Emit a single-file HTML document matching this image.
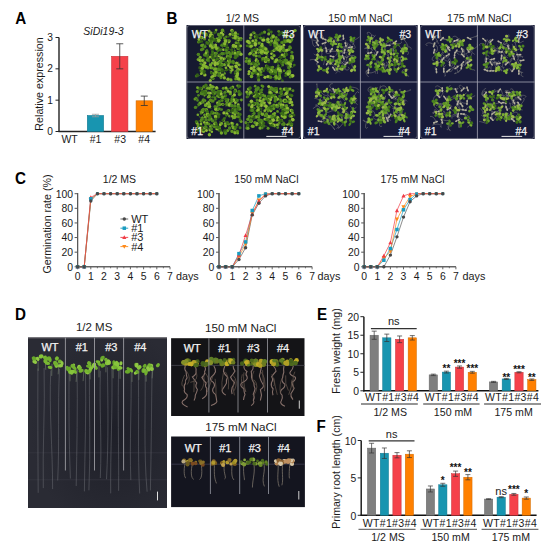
<!DOCTYPE html>
<html><head><meta charset="utf-8"><style>
html,body{margin:0;padding:0;background:#fff;overflow:hidden;font-family:"Liberation Sans",sans-serif;}
svg{display:block;}
</style></head><body>
<svg width="550" height="550" viewBox="0 0 550 550" font-family="Liberation Sans, sans-serif">
<text transform="translate(15.2,24.1) scale(1,1.13)" font-size="15.2" font-weight="bold" fill="#000">A</text>
<text transform="translate(166.6,24.0) scale(1,1.13)" font-size="15.2" font-weight="bold" fill="#000">B</text>
<text transform="translate(15.0,184.0) scale(1,1.13)" font-size="15.2" font-weight="bold" fill="#000">C</text>
<text transform="translate(15.0,319.7) scale(1,1.13)" font-size="15.2" font-weight="bold" fill="#000">D</text>
<text transform="translate(317.0,319.9) scale(1,1.13)" font-size="15.2" font-weight="bold" fill="#000">E</text>
<text transform="translate(316.6,432.2) scale(1,1.13)" font-size="15.2" font-weight="bold" fill="#000">F</text>
<line x1="59.00" y1="37.50" x2="59.00" y2="132.10" stroke="#222222" stroke-width="1.4"/>
<line x1="58.40" y1="131.50" x2="155.60" y2="131.50" stroke="#222222" stroke-width="1.4"/>
<line x1="55.50" y1="131.50" x2="59.00" y2="131.50" stroke="#222222" stroke-width="1"/>
<text x="53.00" y="135.10" font-size="10.2" text-anchor="end" fill="#1a1a1a" >0</text>
<line x1="55.50" y1="100.17" x2="59.00" y2="100.17" stroke="#222222" stroke-width="1"/>
<text x="53.00" y="103.77" font-size="10.2" text-anchor="end" fill="#1a1a1a" >1</text>
<line x1="55.50" y1="68.84" x2="59.00" y2="68.84" stroke="#222222" stroke-width="1"/>
<text x="53.00" y="72.44" font-size="10.2" text-anchor="end" fill="#1a1a1a" >2</text>
<line x1="55.50" y1="37.51" x2="59.00" y2="37.51" stroke="#222222" stroke-width="1"/>
<text x="53.00" y="41.11" font-size="10.2" text-anchor="end" fill="#1a1a1a" >3</text>
<rect x="87.30" y="115.52" width="16.30" height="15.98" fill="#1895b0" stroke="#127a91" stroke-width="0.6" />
<line x1="95.45" y1="114.27" x2="95.45" y2="116.77" stroke="#9a9a9a" stroke-width="0.8"/>
<line x1="91.95" y1="114.27" x2="98.95" y2="114.27" stroke="#9a9a9a" stroke-width="0.8"/>
<line x1="91.95" y1="116.77" x2="98.95" y2="116.77" stroke="#9a9a9a" stroke-width="0.8"/>
<rect x="111.60" y="56.31" width="16.30" height="75.19" fill="#f5414a" stroke="#c8323a" stroke-width="0.6" />
<line x1="119.75" y1="43.78" x2="119.75" y2="68.84" stroke="#333" stroke-width="0.8"/>
<line x1="116.25" y1="43.78" x2="123.25" y2="43.78" stroke="#333" stroke-width="0.8"/>
<line x1="116.25" y1="68.84" x2="123.25" y2="68.84" stroke="#333" stroke-width="0.8"/>
<rect x="136.10" y="100.80" width="16.30" height="30.70" fill="#ff8000" stroke="#d06a00" stroke-width="0.6" />
<line x1="144.25" y1="96.10" x2="144.25" y2="105.50" stroke="#333" stroke-width="0.8"/>
<line x1="140.75" y1="96.10" x2="147.75" y2="96.10" stroke="#333" stroke-width="0.8"/>
<line x1="140.75" y1="105.50" x2="147.75" y2="105.50" stroke="#333" stroke-width="0.8"/>
<text x="69.60" y="142.80" font-size="10.5" text-anchor="middle" fill="#1a1a1a" >WT</text>
<text x="95.60" y="142.80" font-size="10.5" text-anchor="middle" fill="#1a1a1a" >#1</text>
<text x="120.20" y="142.80" font-size="10.5" text-anchor="middle" fill="#1a1a1a" >#3</text>
<text x="144.20" y="142.80" font-size="10.5" text-anchor="middle" fill="#1a1a1a" >#4</text>
<text x="103.50" y="35.20" font-size="10.5" text-anchor="middle" fill="#1a1a1a" font-style="italic" >SiDi19-3</text>
<text transform="translate(43.30,84.00) rotate(-90)" font-size="10.7" text-anchor="middle" fill="#1a1a1a">Relative expression</text>
<line x1="77.60" y1="193.00" x2="77.60" y2="267.30" stroke="#5a5a5a" stroke-width="1.1"/>
<line x1="77.10" y1="266.80" x2="170.00" y2="266.80" stroke="#5a5a5a" stroke-width="1.1"/>
<line x1="74.60" y1="266.80" x2="77.60" y2="266.80" stroke="#555" stroke-width="1"/>
<text x="73.00" y="270.70" font-size="10.4" text-anchor="end" fill="#1a1a1a" >0</text>
<line x1="74.60" y1="252.18" x2="77.60" y2="252.18" stroke="#555" stroke-width="1"/>
<text x="73.00" y="256.08" font-size="10.4" text-anchor="end" fill="#1a1a1a" >20</text>
<line x1="74.60" y1="237.56" x2="77.60" y2="237.56" stroke="#555" stroke-width="1"/>
<text x="73.00" y="241.46" font-size="10.4" text-anchor="end" fill="#1a1a1a" >40</text>
<line x1="74.60" y1="222.94" x2="77.60" y2="222.94" stroke="#555" stroke-width="1"/>
<text x="73.00" y="226.84" font-size="10.4" text-anchor="end" fill="#1a1a1a" >60</text>
<line x1="74.60" y1="208.32" x2="77.60" y2="208.32" stroke="#555" stroke-width="1"/>
<text x="73.00" y="212.22" font-size="10.4" text-anchor="end" fill="#1a1a1a" >80</text>
<line x1="74.60" y1="193.70" x2="77.60" y2="193.70" stroke="#555" stroke-width="1"/>
<text x="73.00" y="197.60" font-size="10.4" text-anchor="end" fill="#1a1a1a" >100</text>
<line x1="77.60" y1="266.80" x2="77.60" y2="269.30" stroke="#555" stroke-width="0.9"/>
<line x1="84.20" y1="266.80" x2="84.20" y2="268.30" stroke="#555" stroke-width="0.8"/>
<text x="77.60" y="279.70" font-size="10.4" text-anchor="middle" fill="#1a1a1a" >0</text>
<line x1="90.80" y1="266.80" x2="90.80" y2="269.30" stroke="#555" stroke-width="0.9"/>
<line x1="97.40" y1="266.80" x2="97.40" y2="268.30" stroke="#555" stroke-width="0.8"/>
<text x="90.80" y="279.70" font-size="10.4" text-anchor="middle" fill="#1a1a1a" >1</text>
<line x1="104.00" y1="266.80" x2="104.00" y2="269.30" stroke="#555" stroke-width="0.9"/>
<line x1="110.60" y1="266.80" x2="110.60" y2="268.30" stroke="#555" stroke-width="0.8"/>
<text x="104.00" y="279.70" font-size="10.4" text-anchor="middle" fill="#1a1a1a" >2</text>
<line x1="117.20" y1="266.80" x2="117.20" y2="269.30" stroke="#555" stroke-width="0.9"/>
<line x1="123.80" y1="266.80" x2="123.80" y2="268.30" stroke="#555" stroke-width="0.8"/>
<text x="117.20" y="279.70" font-size="10.4" text-anchor="middle" fill="#1a1a1a" >3</text>
<line x1="130.40" y1="266.80" x2="130.40" y2="269.30" stroke="#555" stroke-width="0.9"/>
<line x1="137.00" y1="266.80" x2="137.00" y2="268.30" stroke="#555" stroke-width="0.8"/>
<text x="130.40" y="279.70" font-size="10.4" text-anchor="middle" fill="#1a1a1a" >4</text>
<line x1="143.60" y1="266.80" x2="143.60" y2="269.30" stroke="#555" stroke-width="0.9"/>
<line x1="150.20" y1="266.80" x2="150.20" y2="268.30" stroke="#555" stroke-width="0.8"/>
<text x="143.60" y="279.70" font-size="10.4" text-anchor="middle" fill="#1a1a1a" >5</text>
<line x1="156.80" y1="266.80" x2="156.80" y2="269.30" stroke="#555" stroke-width="0.9"/>
<line x1="163.40" y1="266.80" x2="163.40" y2="268.30" stroke="#555" stroke-width="0.8"/>
<text x="156.80" y="279.70" font-size="10.4" text-anchor="middle" fill="#1a1a1a" >6</text>
<line x1="170.00" y1="266.80" x2="170.00" y2="269.30" stroke="#555" stroke-width="0.9"/>
<text x="170.00" y="279.70" font-size="10.4" text-anchor="middle" fill="#1a1a1a" >7</text>
<text x="175.90" y="279.60" font-size="10.8" text-anchor="start" fill="#1a1a1a" >days</text>
<text x="119.50" y="183.40" font-size="10.5" text-anchor="middle" fill="#1a1a1a" >1/2 MS</text>
<polyline points="77.60,266.80 84.20,266.80 90.80,201.01 97.40,193.70 104.00,193.70 110.60,193.70 117.20,193.70 123.80,193.70 130.40,193.70 137.00,193.70 143.60,193.70 150.20,193.70 156.80,193.70" fill="none" stroke="#5a5a5a" stroke-width="0.7"/>
<polyline points="77.60,266.80 84.20,266.80 90.80,198.82 97.40,193.70 104.00,193.70 110.60,193.70 117.20,193.70 123.80,193.70 130.40,193.70 137.00,193.70 143.60,193.70 150.20,193.70 156.80,193.70" fill="none" stroke="#1a9cc0" stroke-width="0.7"/>
<polyline points="77.60,266.80 84.20,266.80 90.80,199.55 97.40,193.70 104.00,193.70 110.60,193.70 117.20,193.70 123.80,193.70 130.40,193.70 137.00,193.70 143.60,193.70 150.20,193.70 156.80,193.70" fill="none" stroke="#ff8a1a" stroke-width="0.7"/>
<polyline points="77.60,266.80 84.20,266.80 90.80,197.36 97.40,193.70 104.00,193.70 110.60,193.70 117.20,193.70 123.80,193.70 130.40,193.70 137.00,193.70 143.60,193.70 150.20,193.70 156.80,193.70" fill="none" stroke="#f03c46" stroke-width="0.7"/>
<line x1="77.10" y1="266.80" x2="170.00" y2="266.80" stroke="#5a5a5a" stroke-width="1.1"/>
<line x1="77.60" y1="193.00" x2="77.60" y2="267.30" stroke="#5a5a5a" stroke-width="1.1"/>
<polygon points="77.60,268.90 79.70,265.12 75.50,265.12" fill="#ff8a1a"/>
<polygon points="84.20,268.90 86.30,265.12 82.10,265.12" fill="#ff8a1a"/>
<polygon points="90.80,201.65 92.90,197.87 88.70,197.87" fill="#ff8a1a"/>
<polygon points="97.40,195.17 98.87,192.52 95.93,192.52" fill="#ff8a1a"/>
<polygon points="104.00,195.17 105.47,192.52 102.53,192.52" fill="#ff8a1a"/>
<polygon points="110.60,195.17 112.07,192.52 109.13,192.52" fill="#ff8a1a"/>
<polygon points="117.20,195.17 118.67,192.52 115.73,192.52" fill="#ff8a1a"/>
<polygon points="123.80,195.17 125.27,192.52 122.33,192.52" fill="#ff8a1a"/>
<polygon points="130.40,195.17 131.87,192.52 128.93,192.52" fill="#ff8a1a"/>
<polygon points="137.00,195.17 138.47,192.52 135.53,192.52" fill="#ff8a1a"/>
<polygon points="143.60,195.17 145.07,192.52 142.13,192.52" fill="#ff8a1a"/>
<polygon points="150.20,195.17 151.67,192.52 148.73,192.52" fill="#ff8a1a"/>
<polygon points="156.80,195.17 158.27,192.52 155.33,192.52" fill="#ff8a1a"/>
<polygon points="77.60,264.70 79.70,268.48 75.50,268.48" fill="#f03c46"/>
<polygon points="84.20,264.70 86.30,268.48 82.10,268.48" fill="#f03c46"/>
<polygon points="90.80,195.26 92.90,199.04 88.70,199.04" fill="#f03c46"/>
<polygon points="97.40,192.23 98.87,194.88 95.93,194.88" fill="#f03c46"/>
<polygon points="104.00,192.23 105.47,194.88 102.53,194.88" fill="#f03c46"/>
<polygon points="110.60,192.23 112.07,194.88 109.13,194.88" fill="#f03c46"/>
<polygon points="117.20,192.23 118.67,194.88 115.73,194.88" fill="#f03c46"/>
<polygon points="123.80,192.23 125.27,194.88 122.33,194.88" fill="#f03c46"/>
<polygon points="130.40,192.23 131.87,194.88 128.93,194.88" fill="#f03c46"/>
<polygon points="137.00,192.23 138.47,194.88 135.53,194.88" fill="#f03c46"/>
<polygon points="143.60,192.23 145.07,194.88 142.13,194.88" fill="#f03c46"/>
<polygon points="150.20,192.23 151.67,194.88 148.73,194.88" fill="#f03c46"/>
<polygon points="156.80,192.23 158.27,194.88 155.33,194.88" fill="#f03c46"/>
<rect x="75.85" y="265.05" width="3.50" height="3.50" fill="#1a9cc0"/>
<rect x="82.45" y="265.05" width="3.50" height="3.50" fill="#1a9cc0"/>
<rect x="89.05" y="197.07" width="3.50" height="3.50" fill="#1a9cc0"/>
<rect x="95.96" y="192.27" width="2.87" height="2.87" fill="#1a9cc0"/>
<rect x="102.56" y="192.27" width="2.87" height="2.87" fill="#1a9cc0"/>
<rect x="109.16" y="192.27" width="2.87" height="2.87" fill="#1a9cc0"/>
<rect x="115.76" y="192.27" width="2.87" height="2.87" fill="#1a9cc0"/>
<rect x="122.36" y="192.27" width="2.87" height="2.87" fill="#1a9cc0"/>
<rect x="128.96" y="192.27" width="2.87" height="2.87" fill="#1a9cc0"/>
<rect x="135.56" y="192.27" width="2.87" height="2.87" fill="#1a9cc0"/>
<rect x="142.16" y="192.27" width="2.87" height="2.87" fill="#1a9cc0"/>
<rect x="148.76" y="192.27" width="2.87" height="2.87" fill="#1a9cc0"/>
<rect x="155.36" y="192.27" width="2.87" height="2.87" fill="#1a9cc0"/>
<circle cx="77.60" cy="266.80" r="1.70" fill="#484848"/>
<circle cx="84.20" cy="266.80" r="1.70" fill="#484848"/>
<circle cx="90.80" cy="201.01" r="1.70" fill="#484848"/>
<circle cx="97.40" cy="193.70" r="1.70" fill="#484848"/>
<circle cx="104.00" cy="193.70" r="1.70" fill="#484848"/>
<circle cx="110.60" cy="193.70" r="1.70" fill="#484848"/>
<circle cx="117.20" cy="193.70" r="1.70" fill="#484848"/>
<circle cx="123.80" cy="193.70" r="1.70" fill="#484848"/>
<circle cx="130.40" cy="193.70" r="1.70" fill="#484848"/>
<circle cx="137.00" cy="193.70" r="1.70" fill="#484848"/>
<circle cx="143.60" cy="193.70" r="1.70" fill="#484848"/>
<circle cx="150.20" cy="193.70" r="1.70" fill="#484848"/>
<circle cx="156.80" cy="193.70" r="1.70" fill="#484848"/>
<line x1="219.00" y1="193.00" x2="219.00" y2="267.30" stroke="#5a5a5a" stroke-width="1.1"/>
<line x1="218.50" y1="266.80" x2="312.10" y2="266.80" stroke="#5a5a5a" stroke-width="1.1"/>
<line x1="216.00" y1="266.80" x2="219.00" y2="266.80" stroke="#555" stroke-width="1"/>
<text x="214.40" y="270.70" font-size="10.4" text-anchor="end" fill="#1a1a1a" >0</text>
<line x1="216.00" y1="252.18" x2="219.00" y2="252.18" stroke="#555" stroke-width="1"/>
<text x="214.40" y="256.08" font-size="10.4" text-anchor="end" fill="#1a1a1a" >20</text>
<line x1="216.00" y1="237.56" x2="219.00" y2="237.56" stroke="#555" stroke-width="1"/>
<text x="214.40" y="241.46" font-size="10.4" text-anchor="end" fill="#1a1a1a" >40</text>
<line x1="216.00" y1="222.94" x2="219.00" y2="222.94" stroke="#555" stroke-width="1"/>
<text x="214.40" y="226.84" font-size="10.4" text-anchor="end" fill="#1a1a1a" >60</text>
<line x1="216.00" y1="208.32" x2="219.00" y2="208.32" stroke="#555" stroke-width="1"/>
<text x="214.40" y="212.22" font-size="10.4" text-anchor="end" fill="#1a1a1a" >80</text>
<line x1="216.00" y1="193.70" x2="219.00" y2="193.70" stroke="#555" stroke-width="1"/>
<text x="214.40" y="197.60" font-size="10.4" text-anchor="end" fill="#1a1a1a" >100</text>
<line x1="219.00" y1="266.80" x2="219.00" y2="269.30" stroke="#555" stroke-width="0.9"/>
<line x1="225.65" y1="266.80" x2="225.65" y2="268.30" stroke="#555" stroke-width="0.8"/>
<text x="219.00" y="279.70" font-size="10.4" text-anchor="middle" fill="#1a1a1a" >0</text>
<line x1="232.30" y1="266.80" x2="232.30" y2="269.30" stroke="#555" stroke-width="0.9"/>
<line x1="238.95" y1="266.80" x2="238.95" y2="268.30" stroke="#555" stroke-width="0.8"/>
<text x="232.30" y="279.70" font-size="10.4" text-anchor="middle" fill="#1a1a1a" >1</text>
<line x1="245.60" y1="266.80" x2="245.60" y2="269.30" stroke="#555" stroke-width="0.9"/>
<line x1="252.25" y1="266.80" x2="252.25" y2="268.30" stroke="#555" stroke-width="0.8"/>
<text x="245.60" y="279.70" font-size="10.4" text-anchor="middle" fill="#1a1a1a" >2</text>
<line x1="258.90" y1="266.80" x2="258.90" y2="269.30" stroke="#555" stroke-width="0.9"/>
<line x1="265.55" y1="266.80" x2="265.55" y2="268.30" stroke="#555" stroke-width="0.8"/>
<text x="258.90" y="279.70" font-size="10.4" text-anchor="middle" fill="#1a1a1a" >3</text>
<line x1="272.20" y1="266.80" x2="272.20" y2="269.30" stroke="#555" stroke-width="0.9"/>
<line x1="278.85" y1="266.80" x2="278.85" y2="268.30" stroke="#555" stroke-width="0.8"/>
<text x="272.20" y="279.70" font-size="10.4" text-anchor="middle" fill="#1a1a1a" >4</text>
<line x1="285.50" y1="266.80" x2="285.50" y2="269.30" stroke="#555" stroke-width="0.9"/>
<line x1="292.15" y1="266.80" x2="292.15" y2="268.30" stroke="#555" stroke-width="0.8"/>
<text x="285.50" y="279.70" font-size="10.4" text-anchor="middle" fill="#1a1a1a" >5</text>
<line x1="298.80" y1="266.80" x2="298.80" y2="269.30" stroke="#555" stroke-width="0.9"/>
<line x1="305.45" y1="266.80" x2="305.45" y2="268.30" stroke="#555" stroke-width="0.8"/>
<text x="298.80" y="279.70" font-size="10.4" text-anchor="middle" fill="#1a1a1a" >6</text>
<line x1="312.10" y1="266.80" x2="312.10" y2="269.30" stroke="#555" stroke-width="0.9"/>
<text x="312.10" y="279.70" font-size="10.4" text-anchor="middle" fill="#1a1a1a" >7</text>
<text x="317.50" y="279.60" font-size="10.8" text-anchor="start" fill="#1a1a1a" >days</text>
<text x="266.40" y="183.40" font-size="10.5" text-anchor="middle" fill="#1a1a1a" >150 mM NaCl</text>
<polyline points="219.00,266.80 225.65,266.80 232.30,266.80 238.95,259.49 245.60,247.79 252.25,214.90 258.90,203.20 265.55,195.89 272.20,193.70 278.85,193.70 285.50,193.70 292.15,193.70 298.80,193.70" fill="none" stroke="#5a5a5a" stroke-width="0.7"/>
<polyline points="219.00,266.80 225.65,266.80 232.30,266.80 238.95,253.64 245.60,241.95 252.25,210.51 258.90,195.89 265.55,193.70 272.20,193.70 278.85,193.70 285.50,193.70 292.15,193.70 298.80,193.70" fill="none" stroke="#1a9cc0" stroke-width="0.7"/>
<polyline points="219.00,266.80 225.65,266.80 232.30,266.80 238.95,256.57 245.60,244.14 252.25,213.44 258.90,200.28 265.55,194.43 272.20,193.70 278.85,193.70 285.50,193.70 292.15,193.70 298.80,193.70" fill="none" stroke="#ff8a1a" stroke-width="0.7"/>
<polyline points="219.00,266.80 225.65,266.80 232.30,266.80 238.95,255.10 245.60,235.37 252.25,214.17 258.90,201.01 265.55,194.43 272.20,193.70 278.85,193.70 285.50,193.70 292.15,193.70 298.80,193.70" fill="none" stroke="#f03c46" stroke-width="0.7"/>
<line x1="218.50" y1="266.80" x2="312.10" y2="266.80" stroke="#5a5a5a" stroke-width="1.1"/>
<line x1="219.00" y1="193.00" x2="219.00" y2="267.30" stroke="#5a5a5a" stroke-width="1.1"/>
<polygon points="219.00,268.90 221.10,265.12 216.90,265.12" fill="#ff8a1a"/>
<polygon points="225.65,268.90 227.75,265.12 223.55,265.12" fill="#ff8a1a"/>
<polygon points="232.30,268.90 234.40,265.12 230.20,265.12" fill="#ff8a1a"/>
<polygon points="238.95,258.67 241.05,254.89 236.85,254.89" fill="#ff8a1a"/>
<polygon points="245.60,246.24 247.70,242.46 243.50,242.46" fill="#ff8a1a"/>
<polygon points="252.25,215.54 254.35,211.76 250.15,211.76" fill="#ff8a1a"/>
<polygon points="258.90,202.38 261.00,198.60 256.80,198.60" fill="#ff8a1a"/>
<polygon points="265.55,196.53 267.65,192.75 263.45,192.75" fill="#ff8a1a"/>
<polygon points="272.20,195.17 273.67,192.52 270.73,192.52" fill="#ff8a1a"/>
<polygon points="278.85,195.17 280.32,192.52 277.38,192.52" fill="#ff8a1a"/>
<polygon points="285.50,195.17 286.97,192.52 284.03,192.52" fill="#ff8a1a"/>
<polygon points="292.15,195.17 293.62,192.52 290.68,192.52" fill="#ff8a1a"/>
<polygon points="298.80,195.17 300.27,192.52 297.33,192.52" fill="#ff8a1a"/>
<polygon points="219.00,264.70 221.10,268.48 216.90,268.48" fill="#f03c46"/>
<polygon points="225.65,264.70 227.75,268.48 223.55,268.48" fill="#f03c46"/>
<polygon points="232.30,264.70 234.40,268.48 230.20,268.48" fill="#f03c46"/>
<polygon points="238.95,253.00 241.05,256.78 236.85,256.78" fill="#f03c46"/>
<polygon points="245.60,233.27 247.70,237.05 243.50,237.05" fill="#f03c46"/>
<polygon points="252.25,212.07 254.35,215.85 250.15,215.85" fill="#f03c46"/>
<polygon points="258.90,198.91 261.00,202.69 256.80,202.69" fill="#f03c46"/>
<polygon points="265.55,192.33 267.65,196.11 263.45,196.11" fill="#f03c46"/>
<polygon points="272.20,192.23 273.67,194.88 270.73,194.88" fill="#f03c46"/>
<polygon points="278.85,192.23 280.32,194.88 277.38,194.88" fill="#f03c46"/>
<polygon points="285.50,192.23 286.97,194.88 284.03,194.88" fill="#f03c46"/>
<polygon points="292.15,192.23 293.62,194.88 290.68,194.88" fill="#f03c46"/>
<polygon points="298.80,192.23 300.27,194.88 297.33,194.88" fill="#f03c46"/>
<rect x="217.25" y="265.05" width="3.50" height="3.50" fill="#1a9cc0"/>
<rect x="223.90" y="265.05" width="3.50" height="3.50" fill="#1a9cc0"/>
<rect x="230.55" y="265.05" width="3.50" height="3.50" fill="#1a9cc0"/>
<rect x="237.20" y="251.89" width="3.50" height="3.50" fill="#1a9cc0"/>
<rect x="243.85" y="240.20" width="3.50" height="3.50" fill="#1a9cc0"/>
<rect x="250.50" y="208.76" width="3.50" height="3.50" fill="#1a9cc0"/>
<rect x="257.15" y="194.14" width="3.50" height="3.50" fill="#1a9cc0"/>
<rect x="264.12" y="192.27" width="2.87" height="2.87" fill="#1a9cc0"/>
<rect x="270.76" y="192.27" width="2.87" height="2.87" fill="#1a9cc0"/>
<rect x="277.42" y="192.27" width="2.87" height="2.87" fill="#1a9cc0"/>
<rect x="284.06" y="192.27" width="2.87" height="2.87" fill="#1a9cc0"/>
<rect x="290.71" y="192.27" width="2.87" height="2.87" fill="#1a9cc0"/>
<rect x="297.37" y="192.27" width="2.87" height="2.87" fill="#1a9cc0"/>
<circle cx="219.00" cy="266.80" r="1.70" fill="#484848"/>
<circle cx="225.65" cy="266.80" r="1.70" fill="#484848"/>
<circle cx="232.30" cy="266.80" r="1.70" fill="#484848"/>
<circle cx="238.95" cy="259.49" r="1.70" fill="#484848"/>
<circle cx="245.60" cy="247.79" r="1.70" fill="#484848"/>
<circle cx="252.25" cy="214.90" r="1.70" fill="#484848"/>
<circle cx="258.90" cy="203.20" r="1.70" fill="#484848"/>
<circle cx="265.55" cy="195.89" r="1.70" fill="#484848"/>
<circle cx="272.20" cy="193.70" r="1.70" fill="#484848"/>
<circle cx="278.85" cy="193.70" r="1.70" fill="#484848"/>
<circle cx="285.50" cy="193.70" r="1.70" fill="#484848"/>
<circle cx="292.15" cy="193.70" r="1.70" fill="#484848"/>
<circle cx="298.80" cy="193.70" r="1.70" fill="#484848"/>
<line x1="364.20" y1="193.00" x2="364.20" y2="267.30" stroke="#5a5a5a" stroke-width="1.1"/>
<line x1="363.70" y1="266.80" x2="455.90" y2="266.80" stroke="#5a5a5a" stroke-width="1.1"/>
<line x1="361.20" y1="266.80" x2="364.20" y2="266.80" stroke="#555" stroke-width="1"/>
<text x="359.60" y="270.70" font-size="10.4" text-anchor="end" fill="#1a1a1a" >0</text>
<line x1="361.20" y1="252.18" x2="364.20" y2="252.18" stroke="#555" stroke-width="1"/>
<text x="359.60" y="256.08" font-size="10.4" text-anchor="end" fill="#1a1a1a" >20</text>
<line x1="361.20" y1="237.56" x2="364.20" y2="237.56" stroke="#555" stroke-width="1"/>
<text x="359.60" y="241.46" font-size="10.4" text-anchor="end" fill="#1a1a1a" >40</text>
<line x1="361.20" y1="222.94" x2="364.20" y2="222.94" stroke="#555" stroke-width="1"/>
<text x="359.60" y="226.84" font-size="10.4" text-anchor="end" fill="#1a1a1a" >60</text>
<line x1="361.20" y1="208.32" x2="364.20" y2="208.32" stroke="#555" stroke-width="1"/>
<text x="359.60" y="212.22" font-size="10.4" text-anchor="end" fill="#1a1a1a" >80</text>
<line x1="361.20" y1="193.70" x2="364.20" y2="193.70" stroke="#555" stroke-width="1"/>
<text x="359.60" y="197.60" font-size="10.4" text-anchor="end" fill="#1a1a1a" >100</text>
<line x1="364.20" y1="266.80" x2="364.20" y2="269.30" stroke="#555" stroke-width="0.9"/>
<line x1="370.75" y1="266.80" x2="370.75" y2="268.30" stroke="#555" stroke-width="0.8"/>
<text x="364.20" y="279.70" font-size="10.4" text-anchor="middle" fill="#1a1a1a" >0</text>
<line x1="377.30" y1="266.80" x2="377.30" y2="269.30" stroke="#555" stroke-width="0.9"/>
<line x1="383.85" y1="266.80" x2="383.85" y2="268.30" stroke="#555" stroke-width="0.8"/>
<text x="377.30" y="279.70" font-size="10.4" text-anchor="middle" fill="#1a1a1a" >1</text>
<line x1="390.40" y1="266.80" x2="390.40" y2="269.30" stroke="#555" stroke-width="0.9"/>
<line x1="396.95" y1="266.80" x2="396.95" y2="268.30" stroke="#555" stroke-width="0.8"/>
<text x="390.40" y="279.70" font-size="10.4" text-anchor="middle" fill="#1a1a1a" >2</text>
<line x1="403.50" y1="266.80" x2="403.50" y2="269.30" stroke="#555" stroke-width="0.9"/>
<line x1="410.05" y1="266.80" x2="410.05" y2="268.30" stroke="#555" stroke-width="0.8"/>
<text x="403.50" y="279.70" font-size="10.4" text-anchor="middle" fill="#1a1a1a" >3</text>
<line x1="416.60" y1="266.80" x2="416.60" y2="269.30" stroke="#555" stroke-width="0.9"/>
<line x1="423.15" y1="266.80" x2="423.15" y2="268.30" stroke="#555" stroke-width="0.8"/>
<text x="416.60" y="279.70" font-size="10.4" text-anchor="middle" fill="#1a1a1a" >4</text>
<line x1="429.70" y1="266.80" x2="429.70" y2="269.30" stroke="#555" stroke-width="0.9"/>
<line x1="436.25" y1="266.80" x2="436.25" y2="268.30" stroke="#555" stroke-width="0.8"/>
<text x="429.70" y="279.70" font-size="10.4" text-anchor="middle" fill="#1a1a1a" >5</text>
<line x1="442.80" y1="266.80" x2="442.80" y2="269.30" stroke="#555" stroke-width="0.9"/>
<line x1="449.35" y1="266.80" x2="449.35" y2="268.30" stroke="#555" stroke-width="0.8"/>
<text x="442.80" y="279.70" font-size="10.4" text-anchor="middle" fill="#1a1a1a" >6</text>
<line x1="455.90" y1="266.80" x2="455.90" y2="269.30" stroke="#555" stroke-width="0.9"/>
<text x="455.90" y="279.70" font-size="10.4" text-anchor="middle" fill="#1a1a1a" >7</text>
<text x="462.50" y="279.60" font-size="10.8" text-anchor="start" fill="#1a1a1a" >days</text>
<text x="412.50" y="183.40" font-size="10.5" text-anchor="middle" fill="#1a1a1a" >175 mM NaCl</text>
<polyline points="364.20,266.80 370.75,266.80 377.30,266.80 383.85,266.80 390.40,255.10 396.95,236.83 403.50,217.09 410.05,201.74 416.60,195.89 423.15,193.70 429.70,193.70 436.25,193.70 442.80,193.70" fill="none" stroke="#5a5a5a" stroke-width="0.7"/>
<polyline points="364.20,266.80 370.75,266.80 377.30,266.80 383.85,260.22 390.40,248.53 396.95,229.52 403.50,209.78 410.05,199.55 416.60,193.70 423.15,193.70 429.70,193.70 436.25,193.70 442.80,193.70" fill="none" stroke="#1a9cc0" stroke-width="0.7"/>
<polyline points="364.20,266.80 370.75,266.80 377.30,266.80 383.85,258.03 390.40,251.45 396.95,219.29 403.50,206.86 410.05,196.62 416.60,193.70 423.15,193.70 429.70,193.70 436.25,193.70 442.80,193.70" fill="none" stroke="#ff8a1a" stroke-width="0.7"/>
<polyline points="364.20,266.80 370.75,266.80 377.30,266.80 383.85,255.84 390.40,242.68 396.95,210.51 403.50,195.89 410.05,193.70 416.60,193.70 423.15,193.70 429.70,193.70 436.25,193.70 442.80,193.70" fill="none" stroke="#f03c46" stroke-width="0.7"/>
<line x1="363.70" y1="266.80" x2="455.90" y2="266.80" stroke="#5a5a5a" stroke-width="1.1"/>
<line x1="364.20" y1="193.00" x2="364.20" y2="267.30" stroke="#5a5a5a" stroke-width="1.1"/>
<polygon points="364.20,268.90 366.30,265.12 362.10,265.12" fill="#ff8a1a"/>
<polygon points="370.75,268.90 372.85,265.12 368.65,265.12" fill="#ff8a1a"/>
<polygon points="377.30,268.90 379.40,265.12 375.20,265.12" fill="#ff8a1a"/>
<polygon points="383.85,260.13 385.95,256.35 381.75,256.35" fill="#ff8a1a"/>
<polygon points="390.40,253.55 392.50,249.77 388.30,249.77" fill="#ff8a1a"/>
<polygon points="396.95,221.39 399.05,217.61 394.85,217.61" fill="#ff8a1a"/>
<polygon points="403.50,208.96 405.60,205.18 401.40,205.18" fill="#ff8a1a"/>
<polygon points="410.05,198.72 412.15,194.94 407.95,194.94" fill="#ff8a1a"/>
<polygon points="416.60,195.17 418.07,192.52 415.13,192.52" fill="#ff8a1a"/>
<polygon points="423.15,195.17 424.62,192.52 421.68,192.52" fill="#ff8a1a"/>
<polygon points="429.70,195.17 431.17,192.52 428.23,192.52" fill="#ff8a1a"/>
<polygon points="436.25,195.17 437.72,192.52 434.78,192.52" fill="#ff8a1a"/>
<polygon points="442.80,195.17 444.27,192.52 441.33,192.52" fill="#ff8a1a"/>
<polygon points="364.20,264.70 366.30,268.48 362.10,268.48" fill="#f03c46"/>
<polygon points="370.75,264.70 372.85,268.48 368.65,268.48" fill="#f03c46"/>
<polygon points="377.30,264.70 379.40,268.48 375.20,268.48" fill="#f03c46"/>
<polygon points="383.85,253.74 385.95,257.51 381.75,257.51" fill="#f03c46"/>
<polygon points="390.40,240.58 392.50,244.36 388.30,244.36" fill="#f03c46"/>
<polygon points="396.95,208.41 399.05,212.19 394.85,212.19" fill="#f03c46"/>
<polygon points="403.50,193.79 405.60,197.57 401.40,197.57" fill="#f03c46"/>
<polygon points="410.05,192.23 411.52,194.88 408.58,194.88" fill="#f03c46"/>
<polygon points="416.60,192.23 418.07,194.88 415.13,194.88" fill="#f03c46"/>
<polygon points="423.15,192.23 424.62,194.88 421.68,194.88" fill="#f03c46"/>
<polygon points="429.70,192.23 431.17,194.88 428.23,194.88" fill="#f03c46"/>
<polygon points="436.25,192.23 437.72,194.88 434.78,194.88" fill="#f03c46"/>
<polygon points="442.80,192.23 444.27,194.88 441.33,194.88" fill="#f03c46"/>
<rect x="362.45" y="265.05" width="3.50" height="3.50" fill="#1a9cc0"/>
<rect x="369.00" y="265.05" width="3.50" height="3.50" fill="#1a9cc0"/>
<rect x="375.55" y="265.05" width="3.50" height="3.50" fill="#1a9cc0"/>
<rect x="382.10" y="258.47" width="3.50" height="3.50" fill="#1a9cc0"/>
<rect x="388.65" y="246.78" width="3.50" height="3.50" fill="#1a9cc0"/>
<rect x="395.20" y="227.77" width="3.50" height="3.50" fill="#1a9cc0"/>
<rect x="401.75" y="208.03" width="3.50" height="3.50" fill="#1a9cc0"/>
<rect x="408.30" y="197.80" width="3.50" height="3.50" fill="#1a9cc0"/>
<rect x="415.16" y="192.27" width="2.87" height="2.87" fill="#1a9cc0"/>
<rect x="421.71" y="192.27" width="2.87" height="2.87" fill="#1a9cc0"/>
<rect x="428.26" y="192.27" width="2.87" height="2.87" fill="#1a9cc0"/>
<rect x="434.81" y="192.27" width="2.87" height="2.87" fill="#1a9cc0"/>
<rect x="441.36" y="192.27" width="2.87" height="2.87" fill="#1a9cc0"/>
<circle cx="364.20" cy="266.80" r="1.70" fill="#484848"/>
<circle cx="370.75" cy="266.80" r="1.70" fill="#484848"/>
<circle cx="377.30" cy="266.80" r="1.70" fill="#484848"/>
<circle cx="383.85" cy="266.80" r="1.70" fill="#484848"/>
<circle cx="390.40" cy="255.10" r="1.70" fill="#484848"/>
<circle cx="396.95" cy="236.83" r="1.70" fill="#484848"/>
<circle cx="403.50" cy="217.09" r="1.70" fill="#484848"/>
<circle cx="410.05" cy="201.74" r="1.70" fill="#484848"/>
<circle cx="416.60" cy="195.89" r="1.70" fill="#484848"/>
<circle cx="423.15" cy="193.70" r="1.70" fill="#484848"/>
<circle cx="429.70" cy="193.70" r="1.70" fill="#484848"/>
<circle cx="436.25" cy="193.70" r="1.70" fill="#484848"/>
<circle cx="442.80" cy="193.70" r="1.70" fill="#484848"/>
<text transform="translate(50.80,224.00) rotate(-90)" font-size="10.7" text-anchor="middle" fill="#1a1a1a">Germination rate (%)</text>
<line x1="120.40" y1="219.00" x2="128.20" y2="219.00" stroke="#5a5a5a" stroke-width="0.9"/>
<circle cx="124.30" cy="219.00" r="1.70" fill="#484848"/>
<text x="131.20" y="223.00" font-size="11" text-anchor="start" fill="#1a1a1a" >WT</text>
<line x1="120.40" y1="228.20" x2="128.20" y2="228.20" stroke="#1a9cc0" stroke-width="0.9"/>
<rect x="122.55" y="226.45" width="3.50" height="3.50" fill="#1a9cc0"/>
<text x="131.20" y="232.20" font-size="11" text-anchor="start" fill="#1a1a1a" >#1</text>
<line x1="120.40" y1="237.40" x2="128.20" y2="237.40" stroke="#f03c46" stroke-width="0.9"/>
<polygon points="124.30,235.30 126.40,239.08 122.20,239.08" fill="#f03c46"/>
<text x="131.20" y="241.40" font-size="11" text-anchor="start" fill="#1a1a1a" >#3</text>
<line x1="120.40" y1="246.60" x2="128.20" y2="246.60" stroke="#ff8a1a" stroke-width="0.9"/>
<polygon points="124.30,248.70 126.40,244.92 122.20,244.92" fill="#ff8a1a"/>
<text x="131.20" y="250.60" font-size="11" text-anchor="start" fill="#1a1a1a" >#4</text>
<line x1="363.90" y1="316.70" x2="363.90" y2="391.50" stroke="#111" stroke-width="1.4"/>
<line x1="363.20" y1="390.80" x2="538.40" y2="390.80" stroke="#111" stroke-width="1.4"/>
<line x1="360.40" y1="390.80" x2="363.90" y2="390.80" stroke="#222222" stroke-width="1"/>
<text x="359.10" y="395.00" font-size="10.4" text-anchor="end" fill="#1a1a1a" >0</text>
<line x1="360.40" y1="372.28" x2="363.90" y2="372.28" stroke="#222222" stroke-width="1"/>
<text x="359.10" y="376.48" font-size="10.4" text-anchor="end" fill="#1a1a1a" >5</text>
<line x1="360.40" y1="353.75" x2="363.90" y2="353.75" stroke="#222222" stroke-width="1"/>
<text x="359.10" y="357.95" font-size="10.4" text-anchor="end" fill="#1a1a1a" >10</text>
<line x1="360.40" y1="335.23" x2="363.90" y2="335.23" stroke="#222222" stroke-width="1"/>
<text x="359.10" y="339.43" font-size="10.4" text-anchor="end" fill="#1a1a1a" >15</text>
<line x1="360.40" y1="316.70" x2="363.90" y2="316.70" stroke="#222222" stroke-width="1"/>
<text x="359.10" y="320.90" font-size="10.4" text-anchor="end" fill="#1a1a1a" >20</text>
<rect x="370.05" y="335.23" width="8.30" height="55.58" fill="#7f7f7f" stroke="#666666" stroke-width="0.5" />
<line x1="374.20" y1="331.15" x2="374.20" y2="339.30" stroke="#333" stroke-width="0.7"/>
<line x1="371.70" y1="331.15" x2="376.70" y2="331.15" stroke="#333" stroke-width="0.7"/>
<line x1="371.70" y1="339.30" x2="376.70" y2="339.30" stroke="#333" stroke-width="0.7"/>
<rect x="382.65" y="337.82" width="8.30" height="52.98" fill="#1895b0" stroke="#127a91" stroke-width="0.5" />
<line x1="386.80" y1="334.11" x2="386.80" y2="341.52" stroke="#333" stroke-width="0.7"/>
<line x1="384.30" y1="334.11" x2="389.30" y2="334.11" stroke="#333" stroke-width="0.7"/>
<line x1="384.30" y1="341.52" x2="389.30" y2="341.52" stroke="#333" stroke-width="0.7"/>
<rect x="395.45" y="339.30" width="8.30" height="51.50" fill="#f5414a" stroke="#c8323a" stroke-width="0.5" />
<line x1="399.60" y1="335.97" x2="399.60" y2="342.63" stroke="#333" stroke-width="0.7"/>
<line x1="397.10" y1="335.97" x2="402.10" y2="335.97" stroke="#333" stroke-width="0.7"/>
<line x1="397.10" y1="342.63" x2="402.10" y2="342.63" stroke="#333" stroke-width="0.7"/>
<rect x="408.15" y="337.82" width="8.30" height="52.98" fill="#ff8000" stroke="#d06a00" stroke-width="0.5" />
<line x1="412.30" y1="335.60" x2="412.30" y2="340.04" stroke="#333" stroke-width="0.7"/>
<line x1="409.80" y1="335.60" x2="414.80" y2="335.60" stroke="#333" stroke-width="0.7"/>
<line x1="409.80" y1="340.04" x2="414.80" y2="340.04" stroke="#333" stroke-width="0.7"/>
<rect x="429.15" y="374.87" width="8.30" height="15.93" fill="#7f7f7f" stroke="#666666" stroke-width="0.5" />
<line x1="433.30" y1="374.13" x2="433.30" y2="375.61" stroke="#333" stroke-width="0.7"/>
<line x1="430.80" y1="374.13" x2="435.80" y2="374.13" stroke="#333" stroke-width="0.7"/>
<line x1="430.80" y1="375.61" x2="435.80" y2="375.61" stroke="#333" stroke-width="0.7"/>
<rect x="442.25" y="372.09" width="8.30" height="18.71" fill="#1895b0" stroke="#127a91" stroke-width="0.5" />
<line x1="446.40" y1="371.16" x2="446.40" y2="373.02" stroke="#333" stroke-width="0.7"/>
<line x1="443.90" y1="371.16" x2="448.90" y2="371.16" stroke="#333" stroke-width="0.7"/>
<line x1="443.90" y1="373.02" x2="448.90" y2="373.02" stroke="#333" stroke-width="0.7"/>
<rect x="455.35" y="367.09" width="8.30" height="23.71" fill="#f5414a" stroke="#c8323a" stroke-width="0.5" />
<line x1="459.50" y1="365.98" x2="459.50" y2="368.20" stroke="#333" stroke-width="0.7"/>
<line x1="457.00" y1="365.98" x2="462.00" y2="365.98" stroke="#333" stroke-width="0.7"/>
<line x1="457.00" y1="368.20" x2="462.00" y2="368.20" stroke="#333" stroke-width="0.7"/>
<rect x="468.15" y="372.28" width="8.30" height="18.52" fill="#ff8000" stroke="#d06a00" stroke-width="0.5" />
<line x1="472.30" y1="371.35" x2="472.30" y2="373.20" stroke="#333" stroke-width="0.7"/>
<line x1="469.80" y1="371.35" x2="474.80" y2="371.35" stroke="#333" stroke-width="0.7"/>
<line x1="469.80" y1="373.20" x2="474.80" y2="373.20" stroke="#333" stroke-width="0.7"/>
<rect x="489.35" y="381.91" width="8.30" height="8.89" fill="#7f7f7f" stroke="#666666" stroke-width="0.5" />
<line x1="493.50" y1="381.35" x2="493.50" y2="382.46" stroke="#333" stroke-width="0.7"/>
<line x1="491.00" y1="381.35" x2="496.00" y2="381.35" stroke="#333" stroke-width="0.7"/>
<line x1="491.00" y1="382.46" x2="496.00" y2="382.46" stroke="#333" stroke-width="0.7"/>
<rect x="502.15" y="378.94" width="8.30" height="11.86" fill="#1895b0" stroke="#127a91" stroke-width="0.5" />
<line x1="506.30" y1="378.39" x2="506.30" y2="379.50" stroke="#333" stroke-width="0.7"/>
<line x1="503.80" y1="378.39" x2="508.80" y2="378.39" stroke="#333" stroke-width="0.7"/>
<line x1="503.80" y1="379.50" x2="508.80" y2="379.50" stroke="#333" stroke-width="0.7"/>
<rect x="514.85" y="372.28" width="8.30" height="18.52" fill="#f5414a" stroke="#c8323a" stroke-width="0.5" />
<line x1="519.00" y1="371.72" x2="519.00" y2="372.83" stroke="#333" stroke-width="0.7"/>
<line x1="516.50" y1="371.72" x2="521.50" y2="371.72" stroke="#333" stroke-width="0.7"/>
<line x1="516.50" y1="372.83" x2="521.50" y2="372.83" stroke="#333" stroke-width="0.7"/>
<rect x="527.65" y="379.69" width="8.30" height="11.12" fill="#ff8000" stroke="#d06a00" stroke-width="0.5" />
<line x1="531.80" y1="378.94" x2="531.80" y2="380.43" stroke="#333" stroke-width="0.7"/>
<line x1="529.30" y1="378.94" x2="534.30" y2="378.94" stroke="#333" stroke-width="0.7"/>
<line x1="529.30" y1="380.43" x2="534.30" y2="380.43" stroke="#333" stroke-width="0.7"/>
<line x1="370.90" y1="328.60" x2="416.70" y2="328.60" stroke="#333" stroke-width="1.3"/>
<text x="393.80" y="325.30" font-size="11" text-anchor="middle" fill="#1a1a1a" >ns</text>
<text x="446.40" y="371.60" font-size="10" text-anchor="middle" fill="#111" font-weight="bold" letter-spacing="-0.1">**</text>
<text x="459.50" y="366.80" font-size="10" text-anchor="middle" fill="#111" font-weight="bold" letter-spacing="-0.1">***</text>
<text x="472.30" y="371.60" font-size="10" text-anchor="middle" fill="#111" font-weight="bold" letter-spacing="-0.1">***</text>
<text x="506.30" y="380.60" font-size="10" text-anchor="middle" fill="#111" font-weight="bold" letter-spacing="-0.1">**</text>
<text x="519.00" y="372.90" font-size="10" text-anchor="middle" fill="#111" font-weight="bold" letter-spacing="-0.1">***</text>
<text x="531.80" y="380.90" font-size="10" text-anchor="middle" fill="#111" font-weight="bold" letter-spacing="-0.1">**</text>
<text x="392.20" y="401.00" font-size="10.5" text-anchor="middle" fill="#1a1a1a" letter-spacing="0.35">WT#1#3#4</text>
<line x1="361.00" y1="404.00" x2="417.80" y2="404.00" stroke="#707070" stroke-width="1.3"/>
<text x="390.20" y="415.50" font-size="10.6" text-anchor="middle" fill="#1a1a1a" >1/2 MS</text>
<text x="451.90" y="401.00" font-size="10.5" text-anchor="middle" fill="#1a1a1a" letter-spacing="0.35">WT#1#3#4</text>
<line x1="423.20" y1="404.00" x2="479.60" y2="404.00" stroke="#707070" stroke-width="1.3"/>
<text x="453.00" y="415.50" font-size="10.6" text-anchor="middle" fill="#1a1a1a" >150 mM</text>
<text x="512.10" y="401.00" font-size="10.5" text-anchor="middle" fill="#1a1a1a" letter-spacing="0.35">WT#1#3#4</text>
<line x1="484.10" y1="404.00" x2="541.00" y2="404.00" stroke="#707070" stroke-width="1.3"/>
<text x="513.60" y="415.50" font-size="10.6" text-anchor="middle" fill="#1a1a1a" >175 mM</text>
<text transform="translate(340.00,351.00) rotate(-90)" font-size="10.6" text-anchor="middle" fill="#1a1a1a">Fresh weight (mg)</text>
<line x1="361.20" y1="440.50" x2="361.20" y2="516.00" stroke="#111" stroke-width="1.4"/>
<line x1="360.50" y1="515.30" x2="536.60" y2="515.30" stroke="#111" stroke-width="1.4"/>
<line x1="357.70" y1="515.30" x2="361.20" y2="515.30" stroke="#222222" stroke-width="1"/>
<text x="356.40" y="519.50" font-size="10.4" text-anchor="end" fill="#1a1a1a" >0</text>
<line x1="357.70" y1="477.90" x2="361.20" y2="477.90" stroke="#222222" stroke-width="1"/>
<text x="356.40" y="482.10" font-size="10.4" text-anchor="end" fill="#1a1a1a" >5</text>
<line x1="357.70" y1="440.50" x2="361.20" y2="440.50" stroke="#222222" stroke-width="1"/>
<text x="356.40" y="444.70" font-size="10.4" text-anchor="end" fill="#1a1a1a" >10</text>
<rect x="367.45" y="448.13" width="8.30" height="67.17" fill="#7f7f7f" stroke="#666666" stroke-width="0.5" />
<line x1="371.60" y1="443.27" x2="371.60" y2="452.99" stroke="#333" stroke-width="0.7"/>
<line x1="369.10" y1="443.27" x2="374.10" y2="443.27" stroke="#333" stroke-width="0.7"/>
<line x1="369.10" y1="452.99" x2="374.10" y2="452.99" stroke="#333" stroke-width="0.7"/>
<rect x="380.25" y="453.22" width="8.30" height="62.08" fill="#1895b0" stroke="#127a91" stroke-width="0.5" />
<line x1="384.40" y1="447.98" x2="384.40" y2="458.45" stroke="#333" stroke-width="0.7"/>
<line x1="381.90" y1="447.98" x2="386.90" y2="447.98" stroke="#333" stroke-width="0.7"/>
<line x1="381.90" y1="458.45" x2="386.90" y2="458.45" stroke="#333" stroke-width="0.7"/>
<rect x="392.85" y="455.24" width="8.30" height="60.06" fill="#f5414a" stroke="#c8323a" stroke-width="0.5" />
<line x1="397.00" y1="452.62" x2="397.00" y2="457.85" stroke="#333" stroke-width="0.7"/>
<line x1="394.50" y1="452.62" x2="399.50" y2="452.62" stroke="#333" stroke-width="0.7"/>
<line x1="394.50" y1="457.85" x2="399.50" y2="457.85" stroke="#333" stroke-width="0.7"/>
<rect x="405.25" y="454.19" width="8.30" height="61.11" fill="#ff8000" stroke="#d06a00" stroke-width="0.5" />
<line x1="409.40" y1="450.82" x2="409.40" y2="457.55" stroke="#333" stroke-width="0.7"/>
<line x1="406.90" y1="450.82" x2="411.90" y2="450.82" stroke="#333" stroke-width="0.7"/>
<line x1="406.90" y1="457.55" x2="411.90" y2="457.55" stroke="#333" stroke-width="0.7"/>
<rect x="426.25" y="488.97" width="8.30" height="26.33" fill="#7f7f7f" stroke="#666666" stroke-width="0.5" />
<line x1="430.40" y1="485.98" x2="430.40" y2="491.96" stroke="#333" stroke-width="0.7"/>
<line x1="427.90" y1="485.98" x2="432.90" y2="485.98" stroke="#333" stroke-width="0.7"/>
<line x1="427.90" y1="491.96" x2="432.90" y2="491.96" stroke="#333" stroke-width="0.7"/>
<rect x="438.65" y="484.78" width="8.30" height="30.52" fill="#1895b0" stroke="#127a91" stroke-width="0.5" />
<line x1="442.80" y1="483.29" x2="442.80" y2="486.28" stroke="#333" stroke-width="0.7"/>
<line x1="440.30" y1="483.29" x2="445.30" y2="483.29" stroke="#333" stroke-width="0.7"/>
<line x1="440.30" y1="486.28" x2="445.30" y2="486.28" stroke="#333" stroke-width="0.7"/>
<rect x="451.45" y="473.71" width="8.30" height="41.59" fill="#f5414a" stroke="#c8323a" stroke-width="0.5" />
<line x1="455.60" y1="471.09" x2="455.60" y2="476.33" stroke="#333" stroke-width="0.7"/>
<line x1="453.10" y1="471.09" x2="458.10" y2="471.09" stroke="#333" stroke-width="0.7"/>
<line x1="453.10" y1="476.33" x2="458.10" y2="476.33" stroke="#333" stroke-width="0.7"/>
<rect x="463.75" y="477.23" width="8.30" height="38.07" fill="#ff8000" stroke="#d06a00" stroke-width="0.5" />
<line x1="467.90" y1="474.61" x2="467.90" y2="479.84" stroke="#333" stroke-width="0.7"/>
<line x1="465.40" y1="474.61" x2="470.40" y2="474.61" stroke="#333" stroke-width="0.7"/>
<line x1="465.40" y1="479.84" x2="470.40" y2="479.84" stroke="#333" stroke-width="0.7"/>
<rect x="484.45" y="499.07" width="8.30" height="16.23" fill="#7f7f7f" stroke="#666666" stroke-width="0.5" />
<line x1="488.60" y1="498.77" x2="488.60" y2="499.37" stroke="#333" stroke-width="0.7"/>
<line x1="486.10" y1="498.77" x2="491.10" y2="498.77" stroke="#333" stroke-width="0.7"/>
<line x1="486.10" y1="499.37" x2="491.10" y2="499.37" stroke="#333" stroke-width="0.7"/>
<rect x="497.05" y="497.20" width="8.30" height="18.10" fill="#1895b0" stroke="#127a91" stroke-width="0.5" />
<line x1="501.20" y1="496.67" x2="501.20" y2="497.72" stroke="#333" stroke-width="0.7"/>
<line x1="498.70" y1="496.67" x2="503.70" y2="496.67" stroke="#333" stroke-width="0.7"/>
<line x1="498.70" y1="497.72" x2="503.70" y2="497.72" stroke="#333" stroke-width="0.7"/>
<rect x="509.75" y="494.36" width="8.30" height="20.94" fill="#f5414a" stroke="#c8323a" stroke-width="0.5" />
<line x1="513.90" y1="493.46" x2="513.90" y2="495.25" stroke="#333" stroke-width="0.7"/>
<line x1="511.40" y1="493.46" x2="516.40" y2="493.46" stroke="#333" stroke-width="0.7"/>
<line x1="511.40" y1="495.25" x2="516.40" y2="495.25" stroke="#333" stroke-width="0.7"/>
<rect x="522.15" y="498.10" width="8.30" height="17.20" fill="#ff8000" stroke="#d06a00" stroke-width="0.5" />
<line x1="526.30" y1="496.97" x2="526.30" y2="499.22" stroke="#333" stroke-width="0.7"/>
<line x1="523.80" y1="496.97" x2="528.80" y2="496.97" stroke="#333" stroke-width="0.7"/>
<line x1="523.80" y1="499.22" x2="528.80" y2="499.22" stroke="#333" stroke-width="0.7"/>
<line x1="368.70" y1="440.80" x2="414.50" y2="440.80" stroke="#333" stroke-width="1.3"/>
<text x="391.60" y="437.50" font-size="11" text-anchor="middle" fill="#1a1a1a" >ns</text>
<text x="442.70" y="484.10" font-size="10" text-anchor="middle" fill="#111" font-weight="bold" letter-spacing="-0.1">*</text>
<text x="455.50" y="471.00" font-size="10" text-anchor="middle" fill="#111" font-weight="bold" letter-spacing="-0.1">***</text>
<text x="467.90" y="475.50" font-size="10" text-anchor="middle" fill="#111" font-weight="bold" letter-spacing="-0.1">**</text>
<text x="513.80" y="492.90" font-size="10" text-anchor="middle" fill="#111" font-weight="bold" letter-spacing="-0.1">***</text>
<text x="526.20" y="497.30" font-size="10" text-anchor="middle" fill="#111" font-weight="bold" letter-spacing="-0.1">*</text>
<text x="389.80" y="526.90" font-size="10.5" text-anchor="middle" fill="#1a1a1a" letter-spacing="0.35">WT#1#3#4</text>
<line x1="358.50" y1="529.30" x2="415.50" y2="529.30" stroke="#707070" stroke-width="1.3"/>
<text x="388.00" y="540.90" font-size="10.6" text-anchor="middle" fill="#1a1a1a" >1/2 MS</text>
<text x="449.60" y="526.90" font-size="10.5" text-anchor="middle" fill="#1a1a1a" letter-spacing="0.35">WT#1#3#4</text>
<line x1="420.50" y1="529.30" x2="477.00" y2="529.30" stroke="#707070" stroke-width="1.3"/>
<text x="450.60" y="540.90" font-size="10.6" text-anchor="middle" fill="#1a1a1a" >150 mM</text>
<text x="510.00" y="526.90" font-size="10.5" text-anchor="middle" fill="#1a1a1a" letter-spacing="0.35">WT#1#3#4</text>
<line x1="481.60" y1="529.30" x2="538.40" y2="529.30" stroke="#707070" stroke-width="1.3"/>
<text x="510.90" y="540.90" font-size="10.6" text-anchor="middle" fill="#1a1a1a" >175 mM</text>
<text transform="translate(339.50,472.00) rotate(-90)" font-size="10.6" text-anchor="middle" fill="#1a1a1a">Primary root length (cm)</text>
<text x="501.10" y="494.60" font-size="11" text-anchor="middle" fill="#1a1a1a" >ns</text>
<rect x="186.5" y="25.0" width="114.5" height="114.0" fill="#161a30"/>
<rect x="187.0" y="25.5" width="113.5" height="113.0" fill="none" stroke="#6a6c7c" stroke-width="0.9" rx="2.5"/>
<path d="M200.1 32.3L203.1 33.2M200.1 32.3L202.4 33.2M200.1 32.3L198.4 33.3M200.1 32.3L197.1 31.0M200.4 40.1L198.8 39.4M200.4 40.1L201.9 41.5M201.0 42.0L199.5 41.5M201.0 42.0L198.5 42.0M202.3 47.4L203.1 44.6M202.3 47.4L201.5 49.7M200.0 54.3L198.2 54.2M200.0 54.3L198.4 54.5M201.0 58.7L199.9 60.6M201.0 58.7L198.1 59.6M201.0 58.7L200.2 57.3M202.6 63.3L201.9 60.2M202.6 63.3L200.8 63.7M202.6 63.3L203.0 65.3M202.3 66.9L199.9 67.7M202.3 66.9L203.6 65.4M201.4 71.2L202.5 72.7M201.4 71.2L204.5 71.5M199.0 76.1L197.4 74.8M199.0 76.1L196.3 75.9M199.0 76.1L201.3 73.7M204.6 33.5L206.1 34.1M204.6 33.5L206.6 35.2M204.6 33.5L205.5 34.9M203.4 37.3L204.6 38.9M203.4 37.3L201.7 37.6M203.4 37.3L201.0 37.8M205.8 44.0L206.7 42.4M205.8 44.0L207.9 43.3M205.8 44.0L205.0 46.6M204.1 47.4L202.9 48.9M204.1 47.4L201.8 45.4M206.1 53.5L206.8 55.8M206.1 53.5L206.7 51.2M206.6 57.2L209.9 56.9M206.6 57.2L208.5 58.6M206.6 57.2L204.3 54.9M206.6 57.2L204.9 54.7M203.6 61.7L203.6 59.3M203.6 61.7L202.5 60.5M203.6 61.7L203.5 60.1M203.6 61.7L204.8 63.0M203.7 68.1L202.5 66.3M203.7 68.1L204.5 65.3M203.7 68.1L205.8 67.1M203.9 70.8L200.9 70.7M203.9 70.8L202.4 71.6M203.9 70.8L202.3 68.2M206.3 75.1L204.8 74.9M206.3 75.1L204.0 73.2M209.0 34.4L211.6 35.4M209.0 34.4L211.0 36.0M209.0 34.4L210.6 34.8M209.0 34.4L209.2 31.2M210.8 38.7L210.0 36.5M210.8 38.7L210.8 41.2M210.5 42.0L211.6 43.3M210.5 42.0L209.4 40.0M210.5 42.0L211.2 38.9M209.6 47.4L212.1 45.1M209.6 47.4L212.3 49.2M209.6 47.4L210.5 45.8M208.8 52.3L207.6 54.9M208.8 52.3L206.0 53.1M208.8 52.3L207.0 50.6M210.6 56.4L212.3 57.4M210.6 56.4L212.2 58.1M209.2 62.2L208.7 60.6M209.2 62.2L210.5 65.1M209.2 62.2L207.2 59.9M208.1 66.1L206.0 66.7M208.1 66.1L207.9 67.8M210.8 70.8L211.4 72.8M210.8 70.8L211.4 73.1M210.2 78.2L213.1 78.5M210.2 78.2L210.3 80.5M213.4 35.0L212.7 36.8M213.4 35.0L214.8 32.5M213.4 35.0L212.5 36.3M213.4 35.0L211.2 32.7M211.8 39.6L210.8 37.8M211.8 39.6L213.5 40.1M211.8 39.6L211.5 42.9M211.8 39.6L213.8 39.1M212.7 41.6L210.8 41.6M212.7 41.6L213.4 40.0M212.7 41.6L211.8 44.2M213.4 48.8L215.7 46.9M213.4 48.8L212.9 46.4M213.4 48.8L212.4 47.5M213.4 48.8L214.0 47.1M213.6 54.0L216.2 53.3M213.6 54.0L215.0 55.7M213.6 54.0L212.0 54.5M213.6 54.0L212.5 51.8M211.7 58.9L213.8 60.3M211.7 58.9L213.5 59.8M211.7 58.9L210.3 57.0M211.7 58.9L213.4 57.8M213.8 60.6L212.4 63.0M213.8 60.6L215.4 62.4M213.9 67.6L211.0 67.8M213.9 67.6L212.2 68.0M213.9 67.6L215.9 68.8M213.9 67.6L215.3 64.6M212.9 73.2L214.3 73.9M212.9 73.2L214.9 75.4M214.0 75.5L212.6 76.6M214.0 75.5L211.6 77.1M214.0 75.5L212.7 78.3M216.8 33.2L216.1 30.1M216.8 33.2L218.9 34.1M217.2 37.5L216.9 39.1M217.2 37.5L219.1 40.2M216.3 42.6L218.6 40.6M216.3 42.6L218.7 41.7M216.3 42.6L216.0 40.3M216.7 46.2L218.3 48.0M216.7 46.2L216.5 49.1M216.7 46.2L216.8 48.6M216.7 46.2L215.6 44.9M217.3 52.0L215.0 53.1M217.3 52.0L216.3 53.4M217.3 52.0L217.9 50.3M217.1 57.1L217.6 59.0M217.1 57.1L215.2 56.1M217.1 57.1L218.9 55.7M217.1 57.1L215.9 59.9M217.2 63.1L219.5 62.6M217.2 63.1L219.9 61.7M217.2 63.1L217.2 64.8M219.1 65.5L218.2 62.5M219.1 65.5L219.4 64.0M219.1 65.5L221.5 64.2M219.1 65.5L217.4 63.7M216.0 70.1L217.8 69.5M216.0 70.1L214.8 69.2M216.0 70.1L215.6 72.2M216.0 70.1L216.2 72.1M216.7 74.7L218.8 72.9M216.7 74.7L215.1 71.9M216.7 74.7L215.8 72.0M220.5 34.6L221.4 33.3M220.5 34.6L219.3 37.5M220.5 34.6L220.2 37.8M220.5 34.6L218.6 34.7M223.1 36.7L224.4 38.5M223.1 36.7L221.2 35.4M223.1 36.7L220.3 37.6M223.1 36.7L226.3 36.7M222.1 43.2L224.8 43.7M222.1 43.2L224.5 43.0M222.1 43.2L221.7 45.3M222.5 47.4L223.5 45.3M222.5 47.4L223.4 49.8M222.5 47.4L220.4 49.8M220.7 53.1L222.2 53.5M220.7 53.1L222.4 53.8M220.7 53.1L219.6 54.8M222.4 56.7L221.5 59.5M222.4 56.7L222.6 59.1M222.4 56.7L220.9 58.0M220.3 62.1L221.2 59.4M220.3 62.1L219.3 64.0M221.9 66.9L222.0 65.0M221.9 66.9L219.4 67.2M221.9 66.9L224.4 64.7M220.5 71.4L222.3 71.1M220.5 71.4L218.5 69.5M220.5 71.4L220.0 73.3M220.5 71.4L220.4 69.5M220.6 75.6L221.2 77.1M220.6 75.6L218.7 75.5M220.6 75.6L222.3 75.5M220.6 75.6L220.9 78.0M225.0 32.2L222.5 30.4M225.0 32.2L222.8 34.5M226.7 38.9L228.8 40.6M226.7 38.9L225.5 40.2M224.1 43.9L225.3 41.1M224.1 43.9L224.9 45.9M225.7 47.8L227.5 49.1M225.7 47.8L227.2 48.8M225.7 47.8L225.3 49.8M226.0 52.1L228.9 52.4M226.0 52.1L224.2 53.5M226.0 52.1L226.9 53.5M227.1 57.2L228.2 58.4M227.1 57.2L228.5 56.3M224.6 61.6L221.3 61.2M224.6 61.6L224.6 58.6M227.0 65.3L225.9 67.7M227.0 65.3L226.3 62.5M227.0 65.3L228.6 63.2M224.6 70.6L226.3 70.0M224.6 70.6L224.7 73.5M224.6 70.6L221.9 69.5M225.1 76.0L222.5 75.2M225.1 76.0L224.4 77.9M225.1 76.0L222.9 76.8M231.7 33.5L231.9 30.5M231.7 33.5L232.5 31.4M231.7 33.5L230.1 34.2M230.5 36.7L233.0 38.1M230.5 36.7L228.2 36.6M228.3 43.5L229.1 41.8M228.3 43.5L229.5 40.7M228.3 43.5L226.6 45.9M228.3 43.5L225.9 41.4M229.9 49.4L227.7 47.9M229.9 49.4L231.7 49.8M229.1 52.0L230.6 54.6M229.1 52.0L232.1 52.9M229.1 52.0L226.3 50.5M230.0 58.7L230.6 56.7M230.0 58.7L228.1 60.9M230.0 58.7L227.5 56.5M230.0 58.7L230.0 61.4M230.8 61.1L229.1 59.6M230.8 61.1L232.1 62.6M230.8 61.1L233.0 61.2M230.0 66.6L228.4 65.6M230.0 66.6L233.0 66.9M230.0 66.6L231.7 67.3M229.1 69.9L230.4 67.0M229.1 69.9L226.6 69.6M229.1 69.9L231.5 70.6M229.1 69.9L230.8 72.6M230.1 78.0L228.0 79.3M230.1 78.0L231.0 79.9M235.8 34.4L235.5 32.9M235.8 34.4L233.0 35.0M235.8 34.4L237.8 34.3M235.5 39.9L235.0 37.9M235.5 39.9L238.4 38.2M235.5 39.9L237.3 39.5M235.5 44.3L238.3 43.3M235.5 44.3L233.5 46.0M234.5 48.6L235.9 46.4M234.5 48.6L233.5 45.6M234.5 48.6L234.9 51.7M234.5 48.6L232.3 47.2M232.4 51.2L231.4 52.7M232.4 51.2L234.1 53.3M234.9 55.8L235.1 53.9M234.9 55.8L235.0 53.0M234.9 55.8L235.4 57.5M234.9 55.8L237.4 54.3M234.5 61.4L236.6 63.6M234.5 61.4L233.5 63.1M233.3 67.7L235.8 66.1M233.3 67.7L232.1 66.6M233.3 67.7L231.6 67.5M234.2 70.6L232.4 69.7M234.2 70.6L235.1 73.5M234.0 76.4L236.6 75.9M234.0 76.4L235.7 79.0M236.8 34.1L233.4 34.3M236.8 34.1L235.4 35.9M239.1 38.1L241.0 38.4M239.1 38.1L237.3 37.6M239.1 38.1L240.9 39.9M239.1 38.1L238.3 39.7M239.1 41.9L238.3 40.1M239.1 41.9L236.0 42.7M239.1 41.9L238.8 44.8M239.9 48.7L238.1 48.4M239.9 48.7L239.7 52.0M239.9 48.7L238.9 47.1M239.9 48.7L240.7 45.9M236.8 54.1L237.4 56.3M236.8 54.1L238.2 52.3M236.8 54.1L235.2 52.3M239.1 55.6L241.0 54.3M239.1 55.6L237.7 53.2M238.7 62.0L238.6 64.8M238.7 62.0L236.4 63.6M238.7 62.0L236.6 63.1M238.8 68.2L238.1 69.6M238.8 68.2L240.4 69.5M238.8 68.2L239.5 65.0M238.8 68.2L236.5 67.1M238.7 72.8L237.1 75.3M238.7 72.8L237.8 70.8M238.7 72.8L236.7 71.1M238.7 72.8L237.5 73.7M238.7 77.0L238.5 79.0M238.7 77.0L236.8 76.7M238.7 77.0L240.4 79.9M238.7 77.0L237.1 75.3" stroke="#4a7a22" stroke-width="0.6"/>
<g fill="#74a82a"><circle cx="224.4" cy="64.7" r="1.6"/><circle cx="241.0" cy="38.4" r="1.5"/><circle cx="236.6" cy="75.9" r="1.5"/><circle cx="210.5" cy="65.1" r="1.8"/><circle cx="231.0" cy="79.9" r="1.6"/><circle cx="213.5" cy="40.1" r="1.5"/><circle cx="222.5" cy="75.2" r="1.6"/><circle cx="212.4" cy="63.0" r="1.6"/><circle cx="200.2" cy="57.3" r="1.6"/><circle cx="212.2" cy="58.1" r="1.4"/><circle cx="216.1" cy="30.1" r="1.4"/><circle cx="214.9" cy="75.4" r="1.7"/><circle cx="221.2" cy="77.1" r="1.8"/><circle cx="227.2" cy="48.8" r="1.4"/><circle cx="215.9" cy="68.8" r="1.5"/><circle cx="214.8" cy="69.2" r="1.8"/><circle cx="236.7" cy="71.1" r="1.4"/><circle cx="238.4" cy="38.2" r="1.6"/><circle cx="211.0" cy="67.8" r="1.5"/><circle cx="221.5" cy="64.2" r="1.8"/><circle cx="216.9" cy="39.1" r="1.6"/><circle cx="214.3" cy="73.9" r="1.8"/><circle cx="212.9" cy="46.4" r="1.6"/><circle cx="216.5" cy="49.1" r="1.4"/><circle cx="198.1" cy="59.6" r="1.5"/><circle cx="220.0" cy="73.3" r="1.4"/><circle cx="231.7" cy="67.3" r="1.4"/><circle cx="210.8" cy="41.2" r="1.8"/><circle cx="227.5" cy="56.5" r="1.7"/><circle cx="211.4" cy="72.8" r="1.5"/><circle cx="217.8" cy="69.5" r="1.3"/></g>
<g fill="#629822"><circle cx="213.1" cy="78.5" r="1.5"/><circle cx="202.5" cy="72.7" r="1.6"/><circle cx="225.5" cy="40.2" r="1.8"/><circle cx="235.7" cy="79.0" r="1.5"/><circle cx="236.6" cy="63.6" r="1.4"/><circle cx="224.4" cy="38.5" r="1.2"/><circle cx="238.2" cy="52.3" r="1.5"/><circle cx="210.8" cy="37.8" r="1.6"/><circle cx="206.7" cy="51.2" r="1.6"/><circle cx="220.4" cy="69.5" r="1.3"/><circle cx="209.4" cy="40.0" r="1.6"/><circle cx="213.5" cy="59.8" r="1.3"/><circle cx="212.1" cy="45.1" r="1.6"/><circle cx="234.9" cy="51.7" r="1.4"/><circle cx="237.7" cy="53.2" r="1.6"/><circle cx="224.7" cy="73.5" r="1.2"/><circle cx="229.5" cy="40.7" r="1.2"/><circle cx="203.1" cy="44.6" r="1.2"/><circle cx="224.9" cy="45.9" r="1.2"/><circle cx="219.3" cy="37.5" r="1.5"/><circle cx="218.6" cy="34.7" r="1.5"/><circle cx="237.1" cy="75.3" r="1.7"/><circle cx="222.5" cy="30.4" r="1.8"/><circle cx="201.8" cy="45.4" r="1.7"/><circle cx="212.7" cy="36.8" r="1.4"/><circle cx="216.3" cy="53.4" r="1.4"/><circle cx="205.8" cy="67.1" r="1.7"/><circle cx="224.6" cy="58.6" r="1.4"/><circle cx="236.0" cy="42.7" r="1.5"/><circle cx="240.4" cy="69.5" r="1.3"/><circle cx="211.0" cy="36.0" r="1.3"/><circle cx="227.7" cy="47.9" r="1.4"/><circle cx="215.6" cy="72.2" r="1.5"/><circle cx="215.1" cy="71.9" r="1.5"/><circle cx="215.2" cy="56.1" r="1.3"/><circle cx="215.0" cy="53.1" r="1.3"/><circle cx="212.2" cy="68.0" r="1.4"/><circle cx="206.1" cy="34.1" r="1.5"/><circle cx="238.3" cy="40.1" r="1.3"/><circle cx="203.0" cy="65.3" r="1.4"/><circle cx="237.3" cy="37.6" r="1.8"/><circle cx="207.9" cy="67.8" r="1.8"/><circle cx="228.6" cy="63.2" r="1.7"/></g>
<g fill="#94bc38"><circle cx="199.9" cy="60.6" r="1.5"/><circle cx="223.4" cy="49.8" r="1.3"/><circle cx="230.4" cy="67.0" r="1.6"/><circle cx="237.1" cy="75.3" r="1.3"/><circle cx="238.1" cy="69.6" r="1.7"/><circle cx="215.4" cy="62.4" r="1.4"/><circle cx="225.9" cy="41.4" r="1.3"/><circle cx="215.6" cy="44.9" r="1.5"/><circle cx="229.1" cy="41.8" r="1.4"/><circle cx="210.0" cy="36.5" r="1.5"/><circle cx="210.6" cy="34.8" r="1.5"/><circle cx="215.3" cy="64.6" r="1.8"/><circle cx="236.5" cy="67.1" r="1.5"/><circle cx="221.4" cy="33.3" r="1.8"/><circle cx="212.6" cy="76.6" r="1.6"/><circle cx="201.7" cy="37.6" r="1.8"/><circle cx="228.1" cy="60.9" r="1.3"/><circle cx="231.9" cy="30.5" r="1.7"/><circle cx="222.6" cy="59.1" r="1.8"/><circle cx="211.6" cy="35.4" r="1.7"/><circle cx="211.6" cy="43.3" r="1.4"/><circle cx="235.8" cy="66.1" r="1.7"/><circle cx="231.6" cy="67.5" r="1.6"/><circle cx="228.4" cy="65.6" r="1.3"/><circle cx="213.8" cy="60.3" r="1.4"/><circle cx="235.9" cy="46.4" r="1.7"/><circle cx="204.8" cy="63.0" r="1.7"/><circle cx="218.2" cy="62.5" r="1.3"/><circle cx="232.1" cy="52.9" r="1.5"/><circle cx="238.3" cy="39.7" r="1.6"/><circle cx="204.8" cy="74.9" r="1.7"/><circle cx="209.2" cy="31.2" r="1.4"/><circle cx="233.0" cy="35.0" r="1.3"/><circle cx="230.1" cy="34.2" r="1.5"/><circle cx="222.3" cy="75.5" r="1.7"/><circle cx="222.8" cy="34.5" r="1.6"/><circle cx="219.9" cy="61.7" r="1.8"/><circle cx="218.9" cy="55.7" r="1.5"/></g>
<g fill="#56881e"><circle cx="202.9" cy="48.9" r="1.6"/><circle cx="230.6" cy="56.7" r="1.5"/><circle cx="209.9" cy="56.9" r="1.2"/><circle cx="226.3" cy="70.0" r="1.3"/><circle cx="204.6" cy="38.9" r="1.6"/><circle cx="208.5" cy="58.6" r="1.3"/><circle cx="200.9" cy="70.7" r="1.4"/><circle cx="219.3" cy="64.0" r="1.7"/><circle cx="228.9" cy="52.4" r="1.6"/><circle cx="226.3" cy="36.7" r="1.3"/><circle cx="198.5" cy="42.0" r="1.5"/><circle cx="218.3" cy="48.0" r="1.4"/><circle cx="211.5" cy="42.9" r="1.3"/><circle cx="228.5" cy="56.3" r="1.6"/><circle cx="220.9" cy="78.0" r="1.2"/><circle cx="238.3" cy="43.3" r="1.3"/><circle cx="201.5" cy="49.7" r="1.6"/><circle cx="233.5" cy="63.1" r="1.4"/><circle cx="229.1" cy="59.6" r="1.7"/><circle cx="202.4" cy="71.6" r="1.7"/><circle cx="228.8" cy="40.6" r="1.3"/><circle cx="205.5" cy="34.9" r="1.6"/><circle cx="220.3" cy="37.6" r="1.6"/><circle cx="230.0" cy="61.4" r="1.6"/><circle cx="215.8" cy="72.0" r="1.6"/><circle cx="201.9" cy="60.2" r="1.2"/><circle cx="213.8" cy="39.1" r="1.3"/><circle cx="198.2" cy="54.2" r="1.3"/><circle cx="239.5" cy="65.0" r="1.3"/><circle cx="238.1" cy="48.4" r="1.8"/></g>
<g fill="#3e7018"><circle cx="212.7" cy="78.3" r="1.4"/><circle cx="207.9" cy="43.3" r="1.7"/><circle cx="224.2" cy="53.5" r="1.5"/><circle cx="232.1" cy="62.6" r="1.2"/><circle cx="217.9" cy="50.3" r="1.6"/><circle cx="223.5" cy="45.3" r="1.6"/><circle cx="221.9" cy="69.5" r="1.6"/><circle cx="206.7" cy="42.4" r="1.3"/><circle cx="208.7" cy="60.6" r="1.7"/><circle cx="220.4" cy="49.8" r="1.6"/><circle cx="213.4" cy="57.8" r="1.6"/><circle cx="217.6" cy="59.0" r="1.5"/><circle cx="207.6" cy="54.9" r="1.4"/><circle cx="221.2" cy="35.4" r="1.3"/><circle cx="235.4" cy="57.5" r="1.8"/><circle cx="237.3" cy="39.5" r="1.3"/><circle cx="213.4" cy="40.0" r="1.4"/><circle cx="202.4" cy="33.2" r="1.3"/><circle cx="214.0" cy="47.1" r="1.7"/><circle cx="237.8" cy="34.3" r="1.3"/><circle cx="234.1" cy="53.3" r="1.6"/><circle cx="206.8" cy="55.8" r="1.8"/><circle cx="197.1" cy="31.0" r="1.5"/><circle cx="219.6" cy="54.8" r="1.4"/><circle cx="222.9" cy="76.8" r="1.2"/><circle cx="212.5" cy="51.8" r="1.5"/><circle cx="210.8" cy="41.6" r="1.3"/><circle cx="237.4" cy="56.3" r="1.2"/><circle cx="199.5" cy="41.5" r="1.6"/><circle cx="212.0" cy="54.5" r="1.6"/><circle cx="204.3" cy="54.9" r="1.5"/><circle cx="215.9" cy="59.9" r="1.3"/><circle cx="240.9" cy="39.9" r="1.4"/><circle cx="231.4" cy="52.7" r="1.2"/><circle cx="196.3" cy="75.9" r="1.5"/><circle cx="225.3" cy="49.8" r="1.4"/><circle cx="235.1" cy="73.5" r="1.2"/></g>
<g fill="#325e16"><circle cx="197.4" cy="74.8" r="1.6"/><circle cx="227.5" cy="49.1" r="1.6"/><circle cx="236.4" cy="63.6" r="1.4"/><circle cx="232.3" cy="47.2" r="1.3"/><circle cx="233.0" cy="66.9" r="1.5"/><circle cx="199.9" cy="67.7" r="1.7"/><circle cx="214.8" cy="32.5" r="1.4"/><circle cx="226.6" cy="69.6" r="1.7"/><circle cx="212.5" cy="36.3" r="1.2"/><circle cx="216.0" cy="40.3" r="1.6"/><circle cx="219.4" cy="67.2" r="1.8"/><circle cx="212.3" cy="49.2" r="1.8"/><circle cx="238.9" cy="47.1" r="1.8"/><circle cx="226.3" cy="62.5" r="1.6"/><circle cx="217.2" cy="64.8" r="1.3"/><circle cx="203.5" cy="60.1" r="1.3"/><circle cx="211.4" cy="73.1" r="1.4"/><circle cx="231.7" cy="49.8" r="1.6"/><circle cx="222.3" cy="71.1" r="1.5"/><circle cx="211.2" cy="38.9" r="1.8"/><circle cx="201.9" cy="41.5" r="1.3"/><circle cx="203.6" cy="59.3" r="1.5"/><circle cx="204.5" cy="71.5" r="1.4"/><circle cx="228.2" cy="36.6" r="1.2"/><circle cx="219.4" cy="64.0" r="1.3"/><circle cx="204.0" cy="73.2" r="1.3"/><circle cx="228.2" cy="58.4" r="1.6"/><circle cx="238.8" cy="44.8" r="1.6"/><circle cx="202.5" cy="66.3" r="1.2"/><circle cx="226.6" cy="45.9" r="1.4"/><circle cx="212.3" cy="57.4" r="1.4"/><circle cx="221.2" cy="59.4" r="1.6"/><circle cx="235.2" cy="52.3" r="1.4"/></g>
<g fill="#4e8420"><circle cx="235.1" cy="53.9" r="1.7"/><circle cx="219.5" cy="62.6" r="1.4"/><circle cx="222.4" cy="53.8" r="1.7"/><circle cx="207.2" cy="59.9" r="1.6"/><circle cx="232.5" cy="31.4" r="1.3"/><circle cx="226.9" cy="53.5" r="1.4"/><circle cx="226.3" cy="50.5" r="1.4"/><circle cx="206.6" cy="35.2" r="1.2"/><circle cx="239.7" cy="52.0" r="1.3"/><circle cx="200.8" cy="63.7" r="1.5"/><circle cx="230.8" cy="72.6" r="1.2"/><circle cx="220.2" cy="37.8" r="1.8"/><circle cx="201.0" cy="37.8" r="1.3"/><circle cx="215.0" cy="55.7" r="1.4"/><circle cx="221.5" cy="59.5" r="1.2"/><circle cx="221.3" cy="61.2" r="1.4"/><circle cx="211.8" cy="44.2" r="1.6"/><circle cx="224.5" cy="43.0" r="1.2"/><circle cx="203.1" cy="33.2" r="1.4"/><circle cx="204.9" cy="54.7" r="1.7"/><circle cx="218.8" cy="72.9" r="1.4"/><circle cx="237.8" cy="70.8" r="1.6"/><circle cx="218.9" cy="34.1" r="1.4"/><circle cx="233.0" cy="61.2" r="1.5"/><circle cx="207.0" cy="50.6" r="1.3"/><circle cx="218.5" cy="69.5" r="1.7"/><circle cx="216.2" cy="53.3" r="1.2"/><circle cx="221.7" cy="45.3" r="1.5"/><circle cx="218.7" cy="41.7" r="1.2"/><circle cx="237.4" cy="54.3" r="1.7"/><circle cx="230.6" cy="54.6" r="1.7"/><circle cx="222.2" cy="53.5" r="1.7"/><circle cx="222.0" cy="65.0" r="1.6"/><circle cx="240.4" cy="79.9" r="1.7"/><circle cx="218.7" cy="75.5" r="1.6"/><circle cx="233.4" cy="34.3" r="1.6"/><circle cx="205.0" cy="46.6" r="1.6"/><circle cx="204.5" cy="65.3" r="1.5"/><circle cx="233.0" cy="38.1" r="1.2"/><circle cx="198.4" cy="54.5" r="1.7"/></g>
<g fill="#86b530"><circle cx="210.5" cy="45.8" r="1.8"/><circle cx="232.4" cy="69.7" r="1.2"/><circle cx="216.8" cy="48.6" r="1.3"/><circle cx="225.3" cy="41.1" r="1.6"/><circle cx="231.5" cy="70.6" r="1.3"/><circle cx="216.2" cy="72.1" r="1.6"/><circle cx="235.0" cy="37.9" r="1.6"/><circle cx="236.8" cy="76.7" r="1.5"/><circle cx="224.8" cy="43.7" r="1.7"/><circle cx="238.6" cy="64.8" r="1.3"/><circle cx="224.4" cy="77.9" r="1.6"/><circle cx="203.6" cy="65.4" r="1.8"/><circle cx="235.5" cy="32.9" r="1.6"/><circle cx="212.4" cy="47.5" r="1.6"/><circle cx="201.3" cy="73.7" r="1.4"/><circle cx="220.9" cy="58.0" r="1.7"/><circle cx="198.4" cy="33.3" r="1.2"/><circle cx="237.5" cy="73.7" r="1.7"/><circle cx="241.0" cy="54.3" r="1.7"/><circle cx="225.9" cy="67.7" r="1.3"/><circle cx="202.5" cy="60.5" r="1.5"/><circle cx="211.6" cy="77.1" r="1.4"/><circle cx="206.0" cy="66.7" r="1.8"/><circle cx="210.3" cy="57.0" r="1.2"/><circle cx="235.0" cy="53.0" r="1.3"/><circle cx="235.4" cy="35.9" r="1.7"/><circle cx="211.2" cy="32.7" r="1.3"/><circle cx="218.6" cy="40.6" r="1.7"/><circle cx="210.3" cy="80.5" r="1.6"/><circle cx="233.5" cy="46.0" r="1.7"/><circle cx="206.0" cy="53.1" r="1.4"/><circle cx="219.1" cy="40.2" r="1.5"/><circle cx="232.1" cy="66.6" r="1.2"/><circle cx="202.3" cy="68.2" r="1.7"/><circle cx="240.7" cy="45.9" r="1.4"/><circle cx="228.0" cy="79.3" r="1.7"/><circle cx="215.7" cy="46.9" r="1.7"/><circle cx="236.6" cy="63.1" r="1.5"/><circle cx="233.5" cy="45.6" r="1.8"/><circle cx="198.8" cy="39.4" r="1.3"/><circle cx="217.4" cy="63.7" r="1.6"/><circle cx="238.5" cy="79.0" r="1.8"/></g>
<path d="M252.0 32.4L253.5 32.6M252.0 32.4L251.0 34.9M249.8 40.4L247.2 41.4M249.8 40.4L252.3 42.6M249.8 40.4L247.9 41.5M249.8 40.4L250.4 37.9M250.9 44.0L249.6 46.3M250.9 44.0L249.2 42.8M250.9 44.0L251.0 46.3M250.9 44.0L253.3 42.2M249.8 47.3L247.2 45.8M249.8 47.3L251.9 49.8M251.7 54.0L252.2 51.6M251.7 54.0L249.5 54.2M251.7 54.0L253.9 54.8M251.7 54.0L250.4 53.2M249.0 58.7L249.3 61.3M249.0 58.7L246.6 58.4M249.4 61.2L248.7 63.7M249.4 61.2L247.6 61.0M249.4 61.2L246.2 61.3M249.4 61.2L249.8 59.4M250.6 65.3L251.4 68.3M250.6 65.3L251.3 68.5M252.1 72.7L254.0 72.2M252.1 72.7L254.3 72.6M252.1 72.7L249.1 71.6M252.1 72.7L253.9 70.1M251.2 75.0L248.7 73.9M251.2 75.0L252.5 73.2M251.2 75.0L251.5 76.5M253.5 34.2L254.3 32.9M253.5 34.2L255.3 36.6M254.3 39.1L256.0 40.4M254.3 39.1L252.7 40.7M254.3 39.1L256.0 41.3M254.3 39.1L256.9 37.5M254.0 45.0L255.4 43.9M254.0 45.0L256.0 44.0M254.0 45.0L252.0 45.7M255.5 46.9L255.3 45.1M255.5 46.9L257.4 49.4M254.1 51.2L255.3 49.4M254.1 51.2L256.0 52.7M254.1 51.2L255.7 51.0M254.1 51.2L255.0 49.7M254.8 56.7L256.3 56.0M254.8 56.7L256.4 59.4M255.5 62.1L254.6 63.6M255.5 62.1L257.5 61.4M255.5 62.1L257.2 61.1M255.5 62.1L256.8 64.8M253.5 65.5L253.2 62.6M253.5 65.5L251.4 63.7M253.5 65.5L254.0 67.1M253.5 65.5L255.7 64.3M256.3 73.0L258.2 74.3M256.3 73.0L255.3 71.3M256.3 73.0L255.5 70.6M256.6 78.1L258.7 80.1M256.6 78.1L258.3 76.2M258.2 34.9L255.7 34.7M258.2 34.9L260.1 34.5M258.2 34.9L257.2 37.3M261.1 39.6L263.8 39.9M261.1 39.6L260.6 38.0M261.1 39.6L262.8 40.1M260.5 42.1L259.1 43.1M260.5 42.1L262.1 44.1M260.8 49.8L259.9 47.3M260.8 49.8L263.5 48.7M260.8 49.8L262.3 47.3M260.9 51.3L262.5 53.5M260.9 51.3L258.5 52.6M260.9 51.3L261.7 53.2M260.9 51.3L262.6 51.5M261.2 58.1L263.8 58.7M261.2 58.1L259.3 56.2M258.7 62.4L258.8 64.0M258.7 62.4L257.7 61.0M258.7 62.4L255.9 60.6M258.3 66.3L256.5 65.3M258.3 66.3L257.7 68.6M258.3 66.3L259.1 69.0M258.9 71.7L261.0 72.1M258.9 71.7L257.0 73.4M258.9 71.7L260.6 74.5M259.6 75.7L258.7 78.5M259.6 75.7L257.9 74.3M265.4 33.5L262.0 33.1M265.4 33.5L264.5 32.0M265.4 39.9L268.0 41.7M265.4 39.9L263.6 37.9M265.4 39.9L267.2 41.3M265.4 39.9L267.9 39.3M263.4 43.9L261.7 45.5M263.4 43.9L262.1 45.6M262.4 49.1L260.9 50.5M262.4 49.1L260.3 49.9M262.4 49.1L264.2 48.1M263.1 52.6L265.1 52.9M263.1 52.6L261.1 52.2M264.2 58.3L262.7 58.6M264.2 58.3L265.8 58.4M264.2 58.3L262.6 59.9M265.8 62.3L266.2 59.1M265.8 62.3L265.8 60.6M265.8 62.3L268.9 61.9M265.6 67.7L267.3 66.2M265.6 67.7L266.3 66.0M265.6 67.7L268.0 68.7M265.6 67.7L268.3 67.6M262.4 69.9L261.8 68.5M262.4 69.9L263.6 70.8M262.4 69.9L259.8 70.0M262.4 69.9L264.4 68.4M263.8 75.1L261.4 74.8M263.8 75.1L265.0 77.3M269.8 32.5L268.8 30.1M269.8 32.5L268.7 33.9M270.0 40.4L268.6 42.3M270.0 40.4L270.4 42.6M269.2 42.6L270.6 44.8M269.2 42.6L271.6 40.8M267.8 49.6L267.9 51.8M267.8 49.6L265.5 51.3M267.8 51.7L266.7 52.8M267.8 51.7L266.4 53.3M267.8 51.7L265.9 49.0M268.2 56.7L266.1 57.1M268.2 56.7L267.1 54.8M267.4 61.2L268.3 59.7M267.4 61.2L267.9 59.3M267.4 61.2L267.0 59.0M267.4 61.2L265.5 61.5M270.3 68.8L272.4 67.3M270.3 68.8L268.3 70.2M270.3 68.8L272.1 70.5M270.3 68.8L270.5 67.3M268.3 70.2L268.6 68.3M268.3 70.2L270.3 71.9M269.7 75.3L268.9 77.1M269.7 75.3L267.9 76.6M269.7 75.3L272.0 73.2M269.7 75.3L270.6 77.3M271.6 34.8L271.6 37.9M271.6 34.8L273.2 36.0M271.6 34.8L271.3 31.9M273.7 38.5L275.3 40.9M273.7 38.5L276.1 37.6M273.7 38.5L273.3 36.6M273.6 45.0L275.1 42.5M273.6 45.0L275.4 43.2M273.9 46.5L274.7 49.7M273.9 46.5L273.8 43.1M273.9 46.5L276.7 48.3M272.7 52.9L274.0 50.5M272.7 52.9L271.9 51.2M272.7 52.9L273.9 56.0M272.7 52.9L274.2 55.5M272.4 56.0L271.4 57.4M272.4 56.0L271.4 53.8M272.4 56.0L272.5 58.5M273.8 63.0L275.1 61.9M273.8 63.0L274.8 60.7M272.0 68.8L272.9 67.3M272.0 68.8L270.5 68.9M272.0 68.8L273.6 70.1M273.1 72.0L273.9 73.4M273.1 72.0L275.5 71.7M273.1 72.0L271.5 71.3M273.2 77.5L276.5 77.6M273.2 77.5L275.8 76.4M273.2 77.5L275.8 78.8M279.1 33.3L281.5 32.7M279.1 33.3L278.7 31.3M278.4 38.2L276.6 40.1M278.4 38.2L278.3 39.9M278.3 44.6L277.0 45.5M278.3 44.6L276.5 44.6M278.3 44.6L277.1 43.4M278.3 44.6L275.2 45.8M279.1 48.1L278.8 46.6M279.1 48.1L280.5 48.8M276.3 51.1L277.8 50.1M276.3 51.1L277.2 48.5M278.0 57.7L281.2 57.1M278.0 57.7L280.6 57.0M278.0 57.7L276.6 60.1M277.8 62.8L279.4 61.0M277.8 62.8L278.3 65.7M277.8 62.8L275.5 61.6M276.9 66.8L278.3 68.0M276.9 66.8L279.3 68.8M276.9 66.8L278.0 69.4M277.7 71.9L279.6 73.5M277.7 71.9L276.4 69.2M277.7 71.9L275.0 71.0M277.7 71.9L280.1 71.3M277.5 75.3L274.7 74.1M277.5 75.3L275.8 73.7M280.7 34.4L279.0 34.8M280.7 34.4L282.7 32.7M283.9 40.1L281.8 42.4M283.9 40.1L285.5 41.6M280.8 43.8L279.4 45.5M280.8 43.8L282.4 42.8M282.2 49.4L279.4 50.5M282.2 49.4L282.8 47.6M282.2 49.4L280.7 46.7M282.2 49.4L281.1 46.6M281.8 51.6L280.3 51.8M281.8 51.6L279.9 49.8M281.8 51.6L284.6 51.1M281.8 51.6L283.7 49.7M282.5 56.9L281.2 56.1M282.5 56.9L282.2 54.8M281.9 60.5L280.0 60.7M281.9 60.5L283.5 60.4M281.9 60.5L283.3 62.3M281.9 60.5L281.7 63.1M280.7 67.2L282.8 65.1M280.7 67.2L280.1 70.2M281.7 72.7L279.7 75.1M281.7 72.7L279.5 72.0M281.7 72.7L280.2 69.9M281.7 72.7L284.1 70.8M281.3 77.8L279.1 78.5M281.3 77.8L279.8 76.9M281.3 77.8L278.9 76.6M281.3 77.8L282.5 80.9M286.4 33.9L283.6 35.3M286.4 33.9L285.7 35.6M286.4 33.9L286.6 31.3M286.4 33.9L286.9 36.2M286.2 38.8L287.1 41.5M286.2 38.8L288.8 40.2M285.2 42.6L287.1 40.7M285.2 42.6L283.8 45.2M285.2 42.6L284.3 40.7M285.2 42.6L285.7 41.1M288.7 47.8L289.8 46.7M288.7 47.8L290.3 47.7M288.7 47.8L290.6 48.0M286.5 52.3L284.3 51.0M286.5 52.3L284.2 50.3M286.5 52.3L286.8 50.3M286.5 52.3L284.8 54.3M285.2 57.5L286.4 54.4M285.2 57.5L285.6 60.4M285.2 57.5L284.0 56.3M285.2 57.5L286.6 60.5M288.4 63.7L286.3 63.3M288.4 63.7L289.6 62.2M286.6 66.0L288.8 67.8M286.6 66.0L288.9 64.6M287.2 71.4L289.7 70.5M287.2 71.4L290.0 71.8M287.2 71.4L288.0 74.2M288.7 75.4L289.4 73.1M288.7 75.4L290.1 77.0M288.7 75.4L285.6 75.7M288.7 75.4L286.2 73.3M292.9 33.0L291.0 35.3M292.9 33.0L295.1 30.5M292.9 33.0L293.5 31.3M292.9 33.0L292.1 35.3M290.3 39.4L288.0 40.8M290.3 39.4L291.9 39.2M292.0 41.7L290.0 41.7M292.0 41.7L291.8 40.2M290.1 49.8L288.6 49.6M290.1 49.8L291.9 52.2M292.7 54.5L291.6 56.1M292.7 54.5L292.5 56.4M293.2 56.5L291.1 57.9M293.2 56.5L292.5 57.9M291.7 63.0L291.2 60.8M291.7 63.0L290.4 64.2M291.7 63.0L292.8 60.0M291.7 63.0L288.3 63.0M292.7 67.6L294.3 65.1M292.7 67.6L290.1 66.6M290.9 73.4L288.2 73.9M290.9 73.4L288.0 71.6M292.6 77.8L292.0 75.6M292.6 77.8L291.6 75.9M292.6 77.8L292.8 75.8" stroke="#4a7a22" stroke-width="0.6"/>
<g fill="#629822"><circle cx="252.0" cy="45.7" r="1.5"/><circle cx="249.5" cy="54.2" r="1.4"/><circle cx="276.1" cy="37.6" r="1.5"/><circle cx="255.0" cy="49.7" r="1.8"/><circle cx="275.1" cy="61.9" r="1.4"/><circle cx="286.3" cy="63.3" r="1.5"/><circle cx="279.7" cy="75.1" r="1.4"/><circle cx="266.3" cy="66.0" r="1.4"/><circle cx="291.6" cy="56.1" r="1.6"/><circle cx="261.7" cy="53.2" r="1.5"/><circle cx="273.8" cy="43.1" r="1.4"/><circle cx="265.8" cy="58.4" r="1.3"/><circle cx="264.2" cy="48.1" r="1.8"/><circle cx="261.0" cy="72.1" r="1.5"/><circle cx="286.6" cy="31.3" r="1.6"/><circle cx="280.0" cy="60.7" r="1.5"/><circle cx="286.9" cy="36.2" r="1.7"/><circle cx="257.7" cy="68.6" r="1.6"/><circle cx="288.6" cy="49.6" r="1.6"/><circle cx="274.2" cy="55.5" r="1.5"/><circle cx="255.3" cy="36.6" r="1.6"/><circle cx="268.6" cy="68.3" r="1.6"/><circle cx="289.7" cy="70.5" r="1.2"/><circle cx="277.2" cy="48.5" r="1.5"/><circle cx="267.0" cy="59.0" r="1.4"/><circle cx="251.4" cy="63.7" r="1.5"/><circle cx="290.0" cy="71.8" r="1.3"/><circle cx="259.1" cy="43.1" r="1.7"/><circle cx="267.9" cy="51.8" r="1.4"/><circle cx="291.6" cy="75.9" r="1.8"/><circle cx="284.0" cy="56.3" r="1.5"/><circle cx="288.0" cy="71.6" r="1.7"/><circle cx="253.9" cy="54.8" r="1.8"/><circle cx="246.6" cy="58.4" r="1.3"/><circle cx="278.3" cy="68.0" r="1.5"/><circle cx="255.7" cy="51.0" r="1.5"/><circle cx="260.3" cy="49.9" r="1.3"/><circle cx="291.9" cy="39.2" r="1.3"/><circle cx="277.1" cy="43.4" r="1.3"/><circle cx="277.0" cy="45.5" r="1.5"/><circle cx="252.5" cy="73.2" r="1.8"/><circle cx="264.5" cy="32.0" r="1.6"/><circle cx="282.7" cy="32.7" r="1.5"/><circle cx="286.2" cy="73.3" r="1.5"/></g>
<g fill="#3e7018"><circle cx="254.6" cy="63.6" r="1.7"/><circle cx="270.4" cy="42.6" r="1.5"/><circle cx="255.5" cy="70.6" r="1.4"/><circle cx="259.9" cy="47.3" r="1.4"/><circle cx="280.3" cy="51.8" r="1.2"/><circle cx="259.3" cy="56.2" r="1.6"/><circle cx="247.2" cy="45.8" r="1.4"/><circle cx="275.4" cy="43.2" r="1.8"/><circle cx="256.0" cy="41.3" r="1.5"/><circle cx="249.8" cy="59.4" r="1.4"/><circle cx="254.3" cy="72.6" r="1.2"/><circle cx="284.3" cy="40.7" r="1.7"/><circle cx="273.9" cy="73.4" r="1.5"/><circle cx="281.8" cy="42.4" r="1.7"/><circle cx="294.3" cy="65.1" r="1.4"/><circle cx="287.1" cy="40.7" r="1.3"/><circle cx="268.3" cy="67.6" r="1.6"/><circle cx="275.8" cy="78.8" r="1.7"/><circle cx="275.8" cy="73.7" r="1.4"/><circle cx="263.6" cy="70.8" r="1.3"/><circle cx="249.6" cy="46.3" r="1.7"/><circle cx="279.4" cy="61.0" r="1.7"/><circle cx="254.0" cy="72.2" r="1.4"/><circle cx="257.2" cy="37.3" r="1.2"/><circle cx="271.3" cy="31.9" r="1.4"/><circle cx="257.0" cy="73.4" r="1.8"/><circle cx="256.0" cy="44.0" r="1.6"/><circle cx="247.6" cy="61.0" r="1.8"/><circle cx="257.9" cy="74.3" r="1.5"/><circle cx="279.5" cy="72.0" r="1.6"/><circle cx="261.4" cy="74.8" r="1.3"/><circle cx="293.5" cy="31.3" r="1.3"/><circle cx="280.6" cy="57.0" r="1.6"/><circle cx="258.3" cy="76.2" r="1.4"/><circle cx="265.5" cy="51.3" r="1.7"/><circle cx="292.8" cy="60.0" r="1.3"/></g>
<g fill="#74a82a"><circle cx="257.4" cy="49.4" r="1.5"/><circle cx="276.5" cy="44.6" r="1.6"/><circle cx="275.1" cy="42.5" r="1.7"/><circle cx="259.8" cy="70.0" r="1.7"/><circle cx="285.7" cy="35.6" r="1.5"/><circle cx="266.7" cy="52.8" r="1.4"/><circle cx="292.0" cy="75.6" r="1.6"/><circle cx="273.9" cy="56.0" r="1.3"/><circle cx="275.8" cy="76.4" r="1.6"/><circle cx="279.1" cy="78.5" r="1.8"/><circle cx="295.1" cy="30.5" r="1.6"/><circle cx="289.4" cy="73.1" r="1.8"/><circle cx="250.4" cy="37.9" r="1.4"/><circle cx="279.8" cy="76.9" r="1.4"/><circle cx="251.5" cy="76.5" r="1.8"/><circle cx="272.1" cy="70.5" r="1.6"/><circle cx="249.3" cy="61.3" r="1.7"/><circle cx="268.7" cy="33.9" r="1.6"/><circle cx="284.8" cy="54.3" r="1.3"/><circle cx="277.8" cy="50.1" r="1.2"/><circle cx="273.2" cy="36.0" r="1.7"/><circle cx="256.4" cy="59.4" r="1.3"/><circle cx="271.6" cy="40.8" r="1.5"/><circle cx="270.5" cy="68.9" r="1.4"/><circle cx="251.3" cy="68.5" r="1.5"/><circle cx="256.3" cy="56.0" r="1.4"/><circle cx="256.0" cy="40.4" r="1.4"/><circle cx="272.9" cy="67.3" r="1.2"/><circle cx="280.7" cy="46.7" r="1.5"/><circle cx="263.8" cy="58.7" r="1.8"/><circle cx="288.0" cy="74.2" r="1.4"/><circle cx="292.5" cy="56.4" r="1.4"/><circle cx="282.8" cy="47.6" r="1.7"/><circle cx="271.4" cy="57.4" r="1.3"/><circle cx="279.3" cy="68.8" r="1.6"/><circle cx="261.8" cy="68.5" r="1.4"/><circle cx="260.9" cy="50.5" r="1.7"/><circle cx="276.5" cy="77.6" r="1.6"/><circle cx="275.3" cy="40.9" r="1.6"/><circle cx="253.3" cy="42.2" r="1.6"/><circle cx="257.7" cy="61.0" r="1.3"/></g>
<g fill="#325e16"><circle cx="263.6" cy="37.9" r="1.4"/><circle cx="262.6" cy="59.9" r="1.7"/><circle cx="274.8" cy="60.7" r="1.6"/><circle cx="260.1" cy="34.5" r="1.3"/><circle cx="268.8" cy="30.1" r="1.6"/><circle cx="267.1" cy="54.8" r="1.3"/><circle cx="276.4" cy="69.2" r="1.7"/><circle cx="267.3" cy="66.2" r="1.5"/><circle cx="257.2" cy="61.1" r="1.3"/><circle cx="270.5" cy="67.3" r="1.4"/><circle cx="253.2" cy="62.6" r="1.3"/><circle cx="255.3" cy="49.4" r="1.4"/><circle cx="264.4" cy="68.4" r="1.5"/><circle cx="281.2" cy="57.1" r="1.8"/><circle cx="282.5" cy="80.9" r="1.4"/><circle cx="285.6" cy="75.7" r="1.4"/><circle cx="287.1" cy="41.5" r="1.6"/><circle cx="268.3" cy="70.2" r="1.7"/><circle cx="280.1" cy="70.2" r="1.6"/><circle cx="262.0" cy="33.1" r="1.5"/><circle cx="283.5" cy="60.4" r="1.6"/><circle cx="281.2" cy="56.1" r="1.7"/><circle cx="256.9" cy="37.5" r="1.8"/><circle cx="252.3" cy="42.6" r="1.6"/><circle cx="270.6" cy="44.8" r="1.4"/><circle cx="251.9" cy="49.8" r="1.4"/><circle cx="247.2" cy="41.4" r="1.8"/><circle cx="281.7" cy="63.1" r="1.8"/><circle cx="272.0" cy="73.2" r="1.8"/><circle cx="279.0" cy="34.8" r="1.5"/><circle cx="274.7" cy="74.1" r="1.4"/><circle cx="258.7" cy="78.5" r="1.5"/><circle cx="286.4" cy="54.4" r="1.8"/><circle cx="256.8" cy="64.8" r="1.3"/><circle cx="281.5" cy="32.7" r="1.3"/><circle cx="268.9" cy="61.9" r="1.3"/><circle cx="271.9" cy="51.2" r="1.5"/><circle cx="268.9" cy="77.1" r="1.7"/><circle cx="255.7" cy="34.7" r="1.2"/></g>
<g fill="#94bc38"><circle cx="265.5" cy="61.5" r="1.6"/><circle cx="284.2" cy="50.3" r="1.7"/><circle cx="282.2" cy="54.8" r="1.4"/><circle cx="259.1" cy="69.0" r="1.7"/><circle cx="255.9" cy="60.6" r="1.3"/><circle cx="292.8" cy="75.8" r="1.7"/><circle cx="252.7" cy="40.7" r="1.3"/><circle cx="271.4" cy="53.8" r="1.3"/><circle cx="272.5" cy="58.5" r="1.3"/><circle cx="280.2" cy="69.9" r="1.5"/><circle cx="271.5" cy="71.3" r="1.8"/><circle cx="255.3" cy="45.1" r="1.5"/><circle cx="261.7" cy="45.5" r="1.4"/><circle cx="280.1" cy="71.3" r="1.7"/><circle cx="265.1" cy="52.9" r="1.4"/><circle cx="262.8" cy="40.1" r="1.6"/><circle cx="251.0" cy="34.9" r="1.6"/><circle cx="265.0" cy="77.3" r="1.6"/><circle cx="284.6" cy="51.1" r="1.4"/><circle cx="268.3" cy="59.7" r="1.5"/><circle cx="247.9" cy="41.5" r="1.8"/><circle cx="286.8" cy="50.3" r="1.5"/><circle cx="251.4" cy="68.3" r="1.6"/><circle cx="283.8" cy="45.2" r="1.4"/><circle cx="255.4" cy="43.9" r="1.8"/><circle cx="291.0" cy="35.3" r="1.3"/><circle cx="263.8" cy="39.9" r="1.5"/><circle cx="249.1" cy="71.6" r="1.5"/><circle cx="278.0" cy="69.4" r="1.3"/><circle cx="256.0" cy="52.7" r="1.3"/><circle cx="290.1" cy="66.6" r="1.5"/><circle cx="274.0" cy="50.5" r="1.5"/><circle cx="279.4" cy="50.5" r="1.3"/><circle cx="292.5" cy="57.9" r="1.5"/><circle cx="268.0" cy="41.7" r="1.4"/><circle cx="267.9" cy="76.6" r="1.7"/><circle cx="254.3" cy="32.9" r="1.2"/><circle cx="281.1" cy="46.6" r="1.2"/><circle cx="288.2" cy="73.9" r="1.5"/><circle cx="258.2" cy="74.3" r="1.3"/></g>
<g fill="#56881e"><circle cx="291.2" cy="60.8" r="1.5"/><circle cx="260.6" cy="74.5" r="1.5"/><circle cx="291.8" cy="40.2" r="1.2"/><circle cx="288.8" cy="40.2" r="1.6"/><circle cx="265.8" cy="60.6" r="1.4"/><circle cx="270.3" cy="71.9" r="1.7"/><circle cx="267.9" cy="59.3" r="1.4"/><circle cx="262.7" cy="58.6" r="1.5"/><circle cx="263.5" cy="48.7" r="1.4"/><circle cx="290.3" cy="47.7" r="1.3"/><circle cx="272.4" cy="67.3" r="1.5"/><circle cx="258.7" cy="80.1" r="1.7"/><circle cx="282.4" cy="42.8" r="1.3"/><circle cx="288.9" cy="64.6" r="1.2"/><circle cx="262.5" cy="53.5" r="1.3"/><circle cx="246.2" cy="61.3" r="1.6"/><circle cx="258.5" cy="52.6" r="1.3"/><circle cx="291.1" cy="57.9" r="1.4"/><circle cx="276.6" cy="40.1" r="1.7"/><circle cx="285.7" cy="41.1" r="1.7"/><circle cx="289.8" cy="46.7" r="1.5"/><circle cx="262.3" cy="47.3" r="1.7"/><circle cx="292.1" cy="35.3" r="1.3"/><circle cx="248.7" cy="63.7" r="1.4"/><circle cx="255.7" cy="64.3" r="1.4"/><circle cx="257.5" cy="61.4" r="1.5"/><circle cx="266.2" cy="59.1" r="1.6"/><circle cx="255.3" cy="71.3" r="1.2"/><circle cx="289.6" cy="62.2" r="1.7"/><circle cx="278.9" cy="76.6" r="1.2"/><circle cx="284.1" cy="70.8" r="1.3"/><circle cx="275.5" cy="71.7" r="1.8"/><circle cx="284.3" cy="51.0" r="1.3"/><circle cx="285.5" cy="41.6" r="1.6"/><circle cx="286.6" cy="60.5" r="1.6"/><circle cx="271.6" cy="37.9" r="1.7"/><circle cx="278.7" cy="31.3" r="1.4"/><circle cx="270.6" cy="77.3" r="1.7"/></g>
<g fill="#4e8420"><circle cx="273.6" cy="70.1" r="1.3"/><circle cx="278.3" cy="39.9" r="1.5"/><circle cx="267.2" cy="41.3" r="1.5"/><circle cx="283.7" cy="49.7" r="1.4"/><circle cx="275.0" cy="71.0" r="1.6"/><circle cx="279.6" cy="73.5" r="1.7"/><circle cx="288.8" cy="67.8" r="1.7"/><circle cx="282.8" cy="65.1" r="1.4"/><circle cx="274.7" cy="49.7" r="1.5"/><circle cx="258.8" cy="64.0" r="1.4"/><circle cx="290.6" cy="48.0" r="1.4"/><circle cx="260.6" cy="38.0" r="1.6"/><circle cx="268.0" cy="68.7" r="1.4"/><circle cx="285.6" cy="60.4" r="1.8"/><circle cx="283.6" cy="35.3" r="1.7"/><circle cx="283.3" cy="62.3" r="1.5"/><circle cx="275.2" cy="45.8" r="1.8"/><circle cx="278.3" cy="65.7" r="1.3"/><circle cx="291.9" cy="52.2" r="1.5"/><circle cx="279.4" cy="45.5" r="1.2"/><circle cx="253.5" cy="32.6" r="1.4"/><circle cx="256.5" cy="65.3" r="1.6"/><circle cx="252.2" cy="51.6" r="1.5"/><circle cx="290.1" cy="77.0" r="1.4"/></g>
<g fill="#86b530"><circle cx="275.5" cy="61.6" r="1.4"/><circle cx="268.6" cy="42.3" r="1.2"/><circle cx="249.2" cy="42.8" r="1.8"/><circle cx="262.1" cy="45.6" r="1.6"/><circle cx="288.0" cy="40.8" r="1.7"/><circle cx="251.0" cy="46.3" r="1.6"/><circle cx="280.5" cy="48.8" r="1.7"/><circle cx="279.9" cy="49.8" r="1.7"/><circle cx="276.7" cy="48.3" r="1.5"/><circle cx="248.7" cy="73.9" r="1.3"/><circle cx="261.1" cy="52.2" r="1.5"/><circle cx="278.8" cy="46.6" r="1.3"/><circle cx="265.9" cy="49.0" r="1.7"/><circle cx="267.9" cy="39.3" r="1.7"/><circle cx="276.6" cy="60.1" r="1.8"/><circle cx="290.0" cy="41.7" r="1.6"/><circle cx="253.9" cy="70.1" r="1.8"/><circle cx="288.3" cy="63.0" r="1.8"/><circle cx="266.1" cy="57.1" r="1.2"/><circle cx="290.4" cy="64.2" r="1.7"/><circle cx="250.4" cy="53.2" r="1.5"/><circle cx="266.4" cy="53.3" r="1.4"/><circle cx="254.0" cy="67.1" r="1.7"/><circle cx="273.3" cy="36.6" r="1.6"/><circle cx="262.6" cy="51.5" r="1.7"/><circle cx="262.1" cy="44.1" r="1.3"/></g>
<path d="M197.9 89.7L200.3 88.2M197.9 89.7L199.5 88.9M197.9 89.7L197.4 91.6M197.9 89.7L197.5 87.7M200.2 91.9L202.4 91.6M200.2 91.9L201.3 93.6M200.2 91.9L201.3 93.4M200.2 91.9L202.5 93.9M197.9 98.3L195.9 98.0M197.9 98.3L198.5 95.2M197.9 98.3L197.5 100.4M197.9 98.3L195.0 98.9M198.2 102.7L200.3 102.3M198.2 102.7L200.2 103.4M198.3 106.5L198.8 104.5M198.3 106.5L195.5 107.4M199.3 111.5L201.8 112.2M199.3 111.5L201.0 113.4M199.7 117.1L201.3 120.0M199.7 117.1L197.8 114.7M199.7 117.1L202.4 118.9M198.1 121.1L196.3 121.4M198.1 121.1L196.8 122.5M198.1 121.1L201.3 120.8M197.2 127.2L197.9 124.4M197.2 127.2L197.6 130.1M197.2 127.2L199.5 127.1M200.3 128.7L200.7 130.6M200.3 128.7L202.3 129.6M200.3 128.7L198.3 126.8M200.3 128.7L201.2 126.5M204.8 88.2L207.7 88.8M204.8 88.2L204.0 86.6M204.8 88.2L205.7 91.3M201.6 91.4L204.0 91.9M201.6 91.4L201.6 88.6M201.6 91.4L203.7 92.0M204.0 97.2L204.8 94.9M204.0 97.2L205.5 94.3M204.4 103.5L205.5 105.4M204.4 103.5L202.1 102.0M204.4 103.5L205.0 100.5M204.4 103.5L202.2 102.1M204.7 108.4L202.4 110.3M204.7 108.4L203.3 109.4M204.6 111.4L207.1 111.5M204.6 111.4L206.4 109.7M204.6 111.4L202.6 112.0M202.8 116.2L202.4 117.8M202.8 116.2L204.5 114.7M203.8 119.3L202.2 120.6M203.8 119.3L204.3 122.4M202.5 126.9L203.7 129.8M202.5 126.9L205.6 127.1M202.5 126.9L199.6 127.8M202.5 126.9L201.0 123.9M204.1 129.3L206.5 130.5M204.1 129.3L203.5 131.3M204.1 129.3L204.7 127.8M208.1 86.8L209.7 88.3M208.1 86.8L210.4 85.0M208.1 86.8L207.3 88.3M208.1 86.8L205.9 85.4M206.2 93.5L204.9 92.1M206.2 93.5L209.0 93.1M206.2 93.5L208.4 93.1M208.6 97.8L209.2 95.7M208.6 97.8L209.2 96.2M206.2 101.7L203.4 100.0M206.2 101.7L207.0 103.7M206.8 106.8L205.9 104.8M206.8 106.8L208.7 106.4M207.9 111.7L205.9 109.4M207.9 111.7L207.4 114.1M207.9 111.7L207.5 113.8M206.7 116.8L205.2 117.2M206.7 116.8L208.5 116.0M206.7 116.8L207.9 115.6M208.2 122.5L206.1 119.8M208.2 122.5L205.6 124.5M207.4 125.0L207.0 123.2M207.4 125.0L208.9 124.0M209.0 128.6L210.6 126.4M209.0 128.6L207.1 127.7M212.3 89.4L213.7 90.9M212.3 89.4L213.5 87.0M212.3 89.4L211.5 86.7M212.3 89.4L212.6 86.8M213.1 92.5L211.6 89.5M213.1 92.5L212.6 90.9M213.1 92.5L210.3 93.2M210.1 97.6L208.8 96.7M210.1 97.6L210.5 100.2M210.1 97.6L208.2 97.2M210.1 97.6L212.7 97.2M210.5 103.5L209.1 104.3M210.5 103.5L208.6 102.4M210.5 103.5L212.8 101.0M211.1 108.8L209.4 106.8M211.1 108.8L209.9 106.2M212.1 110.3L211.7 112.1M212.1 110.3L213.0 113.0M210.6 117.2L210.6 113.9M210.6 117.2L211.0 118.7M210.6 117.2L208.8 115.4M211.0 119.3L210.1 117.1M211.0 119.3L209.3 119.8M211.2 126.9L214.4 126.7M211.2 126.9L211.9 125.4M211.2 126.9L211.2 129.2M210.0 131.7L209.4 134.7M210.0 131.7L209.7 129.9M210.0 131.7L211.9 131.8M210.0 131.7L211.2 128.6M214.3 89.9L217.0 88.3M214.3 89.9L216.1 88.3M214.3 89.9L214.9 92.0M214.3 89.9L216.6 87.6M216.2 93.6L218.8 92.1M216.2 93.6L217.6 96.0M216.2 93.6L213.1 94.2M216.2 93.6L214.0 93.7M217.3 96.0L218.1 93.0M217.3 96.0L218.9 95.0M217.3 96.0L219.2 96.6M217.3 96.0L219.8 96.7M214.7 100.7L214.9 97.5M214.7 100.7L215.3 99.0M217.0 108.4L218.4 109.1M217.0 108.4L215.0 106.6M216.5 112.1L215.3 113.0M216.5 112.1L218.0 109.4M216.5 112.1L215.8 109.3M216.3 114.8L215.3 116.1M216.3 114.8L217.3 113.4M216.3 114.8L215.6 116.7M216.3 114.8L219.3 114.4M214.3 121.6L214.8 123.8M214.3 121.6L212.6 120.7M214.3 121.6L215.8 119.1M214.3 121.6L216.4 124.0M217.5 125.3L219.5 127.6M217.5 125.3L216.2 126.6M217.5 125.3L215.7 122.7M217.5 125.3L217.5 127.6M216.1 129.7L219.0 129.7M216.1 129.7L216.8 127.3M216.1 129.7L217.5 127.8M220.3 90.2L220.7 91.7M220.3 90.2L217.6 92.0M219.2 94.1L218.6 91.8M219.2 94.1L220.2 96.1M221.1 98.7L219.2 101.5M221.1 98.7L221.6 100.6M220.5 103.1L223.1 104.5M220.5 103.1L222.8 104.3M220.5 103.1L217.4 102.9M218.7 106.3L218.1 104.6M218.7 106.3L216.7 106.8M218.7 106.3L219.7 104.6M220.8 110.9L221.7 109.5M220.8 110.9L219.4 108.7M218.9 114.8L216.9 116.7M218.9 114.8L218.3 116.8M219.7 121.1L221.6 123.4M219.7 121.1L221.0 123.5M219.0 126.5L219.3 128.3M219.0 126.5L220.2 124.9M218.4 128.7L219.4 127.1M218.4 128.7L216.7 128.9M218.4 128.7L220.2 130.4M224.2 86.9L226.1 87.8M224.2 86.9L223.3 88.3M223.4 93.5L225.9 95.6M223.4 93.5L224.9 96.3M223.4 93.5L221.0 93.9M223.1 98.9L222.3 100.6M223.1 98.9L222.4 96.6M223.1 98.9L225.8 99.1M223.1 98.9L222.5 97.4M225.0 101.1L226.9 103.5M225.0 101.1L226.4 99.4M225.0 101.1L227.4 101.3M225.7 106.3L226.8 104.5M225.7 106.3L227.8 105.4M226.0 110.7L223.9 112.9M226.0 110.7L226.8 113.8M226.0 110.7L227.1 113.9M226.1 117.2L224.3 118.4M226.1 117.2L226.4 115.3M225.5 121.3L222.9 120.2M225.5 121.3L223.7 120.5M225.5 121.3L227.2 123.2M222.8 124.6L225.5 126.1M222.8 124.6L221.1 123.8M223.6 131.8L225.5 133.1M223.6 131.8L224.9 130.8M223.6 131.8L221.4 133.0M229.2 88.6L226.9 89.4M229.2 88.6L231.0 88.1M227.8 92.7L230.4 92.0M227.8 92.7L225.0 92.3M227.8 92.7L230.4 93.7M227.8 92.7L228.3 91.3M229.6 99.4L227.5 99.9M229.6 99.4L232.4 101.2M227.4 103.3L227.2 101.1M227.4 103.3L228.7 104.7M227.4 103.3L229.2 104.9M229.2 106.9L231.6 106.0M229.2 106.9L229.3 104.8M229.2 106.9L227.9 104.3M230.3 112.6L228.6 110.5M230.3 112.6L232.0 110.4M230.3 112.6L227.8 110.8M230.3 112.6L232.8 112.9M229.7 117.5L229.2 116.1M229.7 117.5L232.2 115.8M227.3 122.5L228.6 124.2M227.3 122.5L225.2 123.7M230.2 124.7L232.5 126.2M230.2 124.7L231.6 123.1M230.2 124.7L227.5 122.6M229.9 129.9L229.5 128.0M229.9 129.9L232.1 131.4M229.9 129.9L227.6 130.6M234.1 88.4L235.3 89.8M234.1 88.4L232.8 87.0M234.1 88.4L232.0 88.1M233.7 92.1L234.4 94.9M233.7 92.1L235.3 91.0M233.7 92.1L235.1 91.1M233.9 99.0L232.7 96.4M233.9 99.0L231.8 98.7M233.9 99.0L236.3 99.7M233.9 99.0L232.6 97.5M231.6 102.4L233.5 100.4M231.6 102.4L231.8 100.7M231.6 102.4L230.1 103.1M231.6 102.4L233.5 99.8M232.5 106.8L234.9 105.8M232.5 106.8L235.2 108.5M232.5 106.8L235.7 106.5M232.5 106.8L231.8 105.4M233.5 111.1L235.4 112.2M233.5 111.1L233.4 109.5M233.5 111.1L232.9 109.1M233.5 111.1L234.9 113.7M232.4 117.7L234.1 117.4M232.4 117.7L235.1 116.6M232.4 117.7L235.0 117.0M232.5 119.9L232.5 116.6M232.5 119.9L233.4 117.9M233.0 126.7L234.8 129.2M233.0 126.7L232.6 123.6M233.0 126.7L234.4 127.2M233.0 126.7L235.9 126.9M234.6 129.6L235.4 127.7M234.6 129.6L232.9 128.0M234.6 129.6L235.0 132.8M238.1 88.8L239.3 86.3M238.1 88.8L237.7 85.8M237.7 92.7L239.4 94.6M237.7 92.7L240.8 93.8M237.7 92.7L239.0 91.5M238.4 99.5L236.1 99.9M238.4 99.5L237.4 100.7M238.4 99.5L241.4 100.0M237.6 102.4L238.3 104.7M237.6 102.4L235.4 102.7M236.6 108.3L238.4 106.4M236.6 108.3L239.8 108.2M236.6 108.3L233.9 109.8M236.6 108.3L235.2 109.9M237.4 111.5L234.8 112.7M237.4 111.5L238.3 113.4M237.4 111.5L238.1 109.0M237.4 111.5L239.9 109.3M237.7 114.8L238.3 116.8M237.7 114.8L240.1 114.4M237.7 114.8L239.7 117.4M238.7 121.1L240.1 119.5M238.7 121.1L241.1 121.5M238.7 125.8L240.1 127.7M238.7 125.8L237.1 124.6M236.2 130.6L237.4 131.5M236.2 130.6L237.7 133.2" stroke="#4a7a22" stroke-width="0.6"/>
<g fill="#629822"><circle cx="215.3" cy="116.1" r="1.7"/><circle cx="217.6" cy="96.0" r="1.6"/><circle cx="214.0" cy="93.7" r="1.7"/><circle cx="195.0" cy="98.9" r="1.5"/><circle cx="227.5" cy="99.9" r="1.8"/><circle cx="228.7" cy="104.7" r="1.7"/><circle cx="204.5" cy="114.7" r="1.3"/><circle cx="222.5" cy="97.4" r="1.7"/><circle cx="201.6" cy="88.6" r="1.7"/><circle cx="216.9" cy="116.7" r="1.2"/><circle cx="241.1" cy="121.5" r="1.5"/><circle cx="221.0" cy="123.5" r="1.7"/><circle cx="226.8" cy="113.8" r="1.7"/><circle cx="216.1" cy="88.3" r="1.2"/><circle cx="216.7" cy="106.8" r="1.2"/><circle cx="234.4" cy="127.2" r="1.5"/><circle cx="233.9" cy="109.8" r="1.3"/><circle cx="208.7" cy="106.4" r="1.8"/><circle cx="219.0" cy="129.7" r="1.7"/><circle cx="230.4" cy="93.7" r="1.6"/><circle cx="202.6" cy="112.0" r="1.2"/><circle cx="232.2" cy="115.8" r="1.2"/><circle cx="219.7" cy="104.6" r="1.7"/><circle cx="233.4" cy="117.9" r="1.2"/><circle cx="227.6" cy="130.6" r="1.6"/><circle cx="223.3" cy="88.3" r="1.5"/><circle cx="213.0" cy="113.0" r="1.7"/><circle cx="236.1" cy="99.9" r="1.6"/><circle cx="224.9" cy="96.3" r="1.3"/><circle cx="219.2" cy="96.6" r="1.7"/><circle cx="215.3" cy="113.0" r="1.2"/><circle cx="219.3" cy="128.3" r="1.7"/><circle cx="229.2" cy="116.1" r="1.3"/><circle cx="208.5" cy="116.0" r="1.7"/><circle cx="197.9" cy="124.4" r="1.6"/><circle cx="235.3" cy="89.8" r="1.3"/><circle cx="208.2" cy="97.2" r="1.4"/><circle cx="241.4" cy="100.0" r="1.4"/><circle cx="201.3" cy="120.8" r="1.7"/><circle cx="220.7" cy="91.7" r="1.8"/><circle cx="230.1" cy="103.1" r="1.5"/><circle cx="205.0" cy="100.5" r="1.3"/><circle cx="228.6" cy="110.5" r="1.4"/><circle cx="232.1" cy="131.4" r="1.7"/><circle cx="232.6" cy="123.6" r="1.6"/></g>
<g fill="#86b530"><circle cx="214.8" cy="123.8" r="1.8"/><circle cx="210.6" cy="126.4" r="1.4"/><circle cx="203.7" cy="92.0" r="1.3"/><circle cx="201.8" cy="112.2" r="1.6"/><circle cx="219.8" cy="96.7" r="1.4"/><circle cx="209.7" cy="129.9" r="1.3"/><circle cx="211.9" cy="131.8" r="1.2"/><circle cx="225.5" cy="126.1" r="1.4"/><circle cx="215.8" cy="109.3" r="1.8"/><circle cx="234.8" cy="112.7" r="1.8"/><circle cx="234.9" cy="113.7" r="1.6"/><circle cx="204.3" cy="122.4" r="1.4"/><circle cx="229.2" cy="104.9" r="1.6"/><circle cx="230.4" cy="92.0" r="1.4"/><circle cx="207.4" cy="114.1" r="1.7"/><circle cx="206.4" cy="109.7" r="1.6"/><circle cx="207.9" cy="115.6" r="1.7"/><circle cx="233.5" cy="99.8" r="1.7"/><circle cx="232.4" cy="101.2" r="1.4"/><circle cx="196.8" cy="122.5" r="1.5"/><circle cx="227.9" cy="104.3" r="1.4"/><circle cx="238.3" cy="104.7" r="1.4"/><circle cx="203.5" cy="131.3" r="1.8"/><circle cx="209.0" cy="93.1" r="1.5"/><circle cx="209.4" cy="106.8" r="1.5"/><circle cx="235.1" cy="116.6" r="1.5"/><circle cx="208.6" cy="102.4" r="1.3"/><circle cx="201.0" cy="123.9" r="1.3"/><circle cx="223.7" cy="120.5" r="1.3"/><circle cx="235.0" cy="132.8" r="1.7"/><circle cx="209.4" cy="134.7" r="1.7"/><circle cx="207.0" cy="123.2" r="1.6"/><circle cx="232.9" cy="109.1" r="1.3"/><circle cx="207.5" cy="113.8" r="1.5"/><circle cx="239.9" cy="109.3" r="1.3"/></g>
<g fill="#325e16"><circle cx="209.2" cy="95.7" r="1.3"/><circle cx="239.7" cy="117.4" r="1.3"/><circle cx="220.2" cy="96.1" r="1.6"/><circle cx="207.1" cy="127.7" r="1.3"/><circle cx="235.2" cy="108.5" r="1.2"/><circle cx="218.3" cy="116.8" r="1.8"/><circle cx="200.3" cy="102.3" r="1.6"/><circle cx="224.9" cy="130.8" r="1.7"/><circle cx="226.4" cy="99.4" r="1.6"/><circle cx="236.3" cy="99.7" r="1.3"/><circle cx="235.7" cy="106.5" r="1.2"/><circle cx="216.2" cy="126.6" r="1.8"/><circle cx="221.6" cy="100.6" r="1.6"/><circle cx="220.2" cy="130.4" r="1.7"/><circle cx="203.7" cy="129.8" r="1.4"/><circle cx="221.1" cy="123.8" r="1.8"/><circle cx="197.6" cy="130.1" r="1.7"/><circle cx="201.2" cy="126.5" r="1.2"/><circle cx="207.7" cy="88.8" r="1.6"/><circle cx="202.2" cy="120.6" r="1.4"/><circle cx="213.1" cy="94.2" r="1.3"/><circle cx="199.5" cy="88.9" r="1.7"/><circle cx="233.4" cy="109.5" r="1.5"/><circle cx="227.8" cy="105.4" r="1.2"/><circle cx="222.9" cy="120.2" r="1.4"/><circle cx="232.0" cy="110.4" r="1.7"/><circle cx="200.3" cy="88.2" r="1.7"/><circle cx="240.8" cy="93.8" r="1.7"/></g>
<g fill="#56881e"><circle cx="217.3" cy="113.4" r="1.4"/><circle cx="231.8" cy="98.7" r="1.3"/><circle cx="211.2" cy="129.2" r="1.4"/><circle cx="228.6" cy="124.2" r="1.4"/><circle cx="208.9" cy="124.0" r="1.6"/><circle cx="215.7" cy="122.7" r="1.4"/><circle cx="231.6" cy="106.0" r="1.4"/><circle cx="237.4" cy="131.5" r="1.7"/><circle cx="238.3" cy="116.8" r="1.5"/><circle cx="227.2" cy="123.2" r="1.7"/><circle cx="235.4" cy="127.7" r="1.4"/><circle cx="195.9" cy="98.0" r="1.2"/><circle cx="226.8" cy="104.5" r="1.5"/><circle cx="201.3" cy="120.0" r="1.2"/><circle cx="219.5" cy="127.6" r="1.2"/><circle cx="212.8" cy="101.0" r="1.8"/><circle cx="217.5" cy="127.8" r="1.4"/><circle cx="234.8" cy="129.2" r="1.4"/><circle cx="204.0" cy="86.6" r="1.7"/><circle cx="197.4" cy="91.6" r="1.6"/><circle cx="205.9" cy="104.8" r="1.4"/><circle cx="238.3" cy="113.4" r="1.3"/><circle cx="239.4" cy="94.6" r="1.6"/><circle cx="205.7" cy="91.3" r="1.6"/><circle cx="201.3" cy="93.4" r="1.6"/><circle cx="208.8" cy="115.4" r="1.8"/><circle cx="205.9" cy="109.4" r="1.2"/><circle cx="203.4" cy="100.0" r="1.8"/><circle cx="226.9" cy="89.4" r="1.7"/><circle cx="212.6" cy="90.9" r="1.3"/><circle cx="203.3" cy="109.4" r="1.6"/><circle cx="215.3" cy="99.0" r="1.3"/><circle cx="214.4" cy="126.7" r="1.5"/><circle cx="201.0" cy="113.4" r="1.2"/><circle cx="217.0" cy="88.3" r="1.6"/><circle cx="202.4" cy="110.3" r="1.7"/><circle cx="222.3" cy="100.6" r="1.2"/><circle cx="205.6" cy="124.5" r="1.4"/><circle cx="204.0" cy="91.9" r="1.7"/><circle cx="210.5" cy="100.2" r="1.8"/><circle cx="226.9" cy="103.5" r="1.6"/></g>
<g fill="#94bc38"><circle cx="210.3" cy="93.2" r="1.4"/><circle cx="226.1" cy="87.8" r="1.3"/><circle cx="223.9" cy="112.9" r="1.6"/><circle cx="228.3" cy="91.3" r="1.4"/><circle cx="218.0" cy="109.4" r="1.3"/><circle cx="234.4" cy="94.9" r="1.6"/><circle cx="210.4" cy="85.0" r="1.2"/><circle cx="229.3" cy="104.8" r="1.6"/><circle cx="221.0" cy="93.9" r="1.7"/><circle cx="207.0" cy="103.7" r="1.3"/><circle cx="220.2" cy="124.9" r="1.4"/><circle cx="233.5" cy="100.4" r="1.5"/><circle cx="227.2" cy="101.1" r="1.7"/><circle cx="227.1" cy="113.9" r="1.4"/><circle cx="204.8" cy="94.9" r="1.3"/><circle cx="216.6" cy="87.6" r="1.5"/><circle cx="235.4" cy="102.7" r="1.4"/><circle cx="231.6" cy="123.1" r="1.3"/><circle cx="209.9" cy="106.2" r="1.3"/><circle cx="217.4" cy="102.9" r="1.3"/><circle cx="204.7" cy="127.8" r="1.5"/><circle cx="202.2" cy="102.1" r="1.5"/><circle cx="216.7" cy="128.9" r="1.3"/><circle cx="208.8" cy="96.7" r="1.3"/><circle cx="200.2" cy="103.4" r="1.5"/><circle cx="215.6" cy="116.7" r="1.6"/><circle cx="206.5" cy="130.5" r="1.4"/><circle cx="232.5" cy="116.6" r="1.3"/><circle cx="222.8" cy="104.3" r="1.6"/></g>
<g fill="#74a82a"><circle cx="198.3" cy="126.8" r="1.4"/><circle cx="197.5" cy="87.7" r="1.4"/><circle cx="209.2" cy="96.2" r="1.6"/><circle cx="208.4" cy="93.1" r="1.4"/><circle cx="211.0" cy="118.7" r="1.5"/><circle cx="232.5" cy="126.2" r="1.3"/><circle cx="232.9" cy="128.0" r="1.3"/><circle cx="211.5" cy="86.7" r="1.6"/><circle cx="221.4" cy="133.0" r="1.7"/><circle cx="199.6" cy="127.8" r="1.6"/><circle cx="221.6" cy="123.4" r="1.4"/><circle cx="234.1" cy="117.4" r="1.8"/><circle cx="235.0" cy="117.0" r="1.7"/><circle cx="232.8" cy="87.0" r="1.5"/><circle cx="232.7" cy="96.4" r="1.4"/><circle cx="237.1" cy="124.6" r="1.3"/><circle cx="202.4" cy="117.8" r="1.3"/><circle cx="209.1" cy="104.3" r="1.6"/><circle cx="235.3" cy="91.0" r="1.8"/><circle cx="207.3" cy="88.3" r="1.3"/><circle cx="237.7" cy="133.2" r="1.3"/><circle cx="219.4" cy="108.7" r="1.3"/><circle cx="237.7" cy="85.8" r="1.4"/><circle cx="225.2" cy="123.7" r="1.4"/><circle cx="197.8" cy="114.7" r="1.3"/><circle cx="209.7" cy="88.3" r="1.7"/><circle cx="213.5" cy="87.0" r="1.3"/><circle cx="205.2" cy="117.2" r="1.4"/><circle cx="212.6" cy="86.8" r="1.6"/><circle cx="222.4" cy="96.6" r="1.3"/><circle cx="205.5" cy="105.4" r="1.6"/><circle cx="232.8" cy="112.9" r="1.2"/></g>
<g fill="#4e8420"><circle cx="237.4" cy="100.7" r="1.4"/><circle cx="195.5" cy="107.4" r="1.7"/><circle cx="205.6" cy="127.1" r="1.8"/><circle cx="199.5" cy="127.1" r="1.4"/><circle cx="206.1" cy="119.8" r="1.7"/><circle cx="234.9" cy="105.8" r="1.7"/><circle cx="214.9" cy="92.0" r="1.3"/><circle cx="211.9" cy="125.4" r="1.5"/><circle cx="198.8" cy="104.5" r="1.6"/><circle cx="201.3" cy="93.6" r="1.3"/><circle cx="202.1" cy="102.0" r="1.2"/><circle cx="225.0" cy="92.3" r="1.6"/><circle cx="211.2" cy="128.6" r="1.5"/><circle cx="218.4" cy="109.1" r="1.5"/><circle cx="202.4" cy="118.9" r="1.3"/><circle cx="221.7" cy="109.5" r="1.3"/><circle cx="216.8" cy="127.3" r="1.2"/><circle cx="235.2" cy="109.9" r="1.6"/><circle cx="231.8" cy="100.7" r="1.6"/><circle cx="215.0" cy="106.6" r="1.6"/><circle cx="225.5" cy="133.1" r="1.8"/><circle cx="217.6" cy="92.0" r="1.6"/><circle cx="238.4" cy="106.4" r="1.6"/><circle cx="229.5" cy="128.0" r="1.7"/><circle cx="231.0" cy="88.1" r="1.6"/><circle cx="197.5" cy="100.4" r="1.3"/><circle cx="212.6" cy="120.7" r="1.7"/><circle cx="235.4" cy="112.2" r="1.6"/><circle cx="218.6" cy="91.8" r="1.8"/><circle cx="198.5" cy="95.2" r="1.3"/><circle cx="202.3" cy="129.6" r="1.2"/><circle cx="227.4" cy="101.3" r="1.5"/><circle cx="239.8" cy="108.2" r="1.5"/><circle cx="209.3" cy="119.8" r="1.7"/><circle cx="211.6" cy="89.5" r="1.4"/><circle cx="219.2" cy="101.5" r="1.6"/><circle cx="214.9" cy="97.5" r="1.3"/><circle cx="231.8" cy="105.4" r="1.7"/><circle cx="218.1" cy="104.6" r="1.7"/><circle cx="202.5" cy="93.9" r="1.6"/></g>
<g fill="#3e7018"><circle cx="207.1" cy="111.5" r="1.8"/><circle cx="225.8" cy="99.1" r="1.6"/><circle cx="218.9" cy="95.0" r="1.2"/><circle cx="205.5" cy="94.3" r="1.6"/><circle cx="238.1" cy="109.0" r="1.3"/><circle cx="210.6" cy="113.9" r="1.2"/><circle cx="235.9" cy="126.9" r="1.7"/><circle cx="215.8" cy="119.1" r="1.6"/><circle cx="204.9" cy="92.1" r="1.5"/><circle cx="227.5" cy="122.6" r="1.7"/><circle cx="218.8" cy="92.1" r="1.7"/><circle cx="212.7" cy="97.2" r="1.3"/><circle cx="240.1" cy="114.4" r="1.6"/><circle cx="240.1" cy="127.7" r="1.5"/><circle cx="240.1" cy="119.5" r="1.3"/><circle cx="239.0" cy="91.5" r="1.7"/><circle cx="227.8" cy="110.8" r="1.3"/><circle cx="196.3" cy="121.4" r="1.5"/><circle cx="217.5" cy="127.6" r="1.4"/><circle cx="213.7" cy="90.9" r="1.6"/><circle cx="232.0" cy="88.1" r="1.2"/><circle cx="232.6" cy="97.5" r="1.3"/><circle cx="239.3" cy="86.3" r="1.8"/><circle cx="223.1" cy="104.5" r="1.2"/><circle cx="219.4" cy="127.1" r="1.5"/><circle cx="224.3" cy="118.4" r="1.5"/><circle cx="210.1" cy="117.1" r="1.7"/><circle cx="225.9" cy="95.6" r="1.3"/><circle cx="205.9" cy="85.4" r="1.8"/><circle cx="235.1" cy="91.1" r="1.3"/><circle cx="218.1" cy="93.0" r="1.3"/><circle cx="219.3" cy="114.4" r="1.2"/><circle cx="202.4" cy="91.6" r="1.4"/><circle cx="226.4" cy="115.3" r="1.3"/><circle cx="211.7" cy="112.1" r="1.5"/><circle cx="200.7" cy="130.6" r="1.7"/><circle cx="216.4" cy="124.0" r="1.3"/></g>
<path d="M249.3 91.0L250.1 88.1M249.3 91.0L248.5 89.1M249.8 93.6L247.8 93.7M249.8 93.6L250.5 92.2M249.8 93.6L246.9 92.1M249.8 93.6L252.4 93.6M249.6 96.0L246.9 97.0M249.6 96.0L247.5 96.7M249.6 96.0L249.2 94.1M249.9 102.9L252.2 102.9M249.9 102.9L251.4 101.2M249.9 102.9L252.9 103.8M249.9 102.9L252.4 102.7M251.6 106.8L252.3 105.3M251.6 106.8L254.3 108.2M251.6 106.8L249.1 104.9M249.8 111.1L252.4 110.4M249.8 111.1L250.9 109.4M251.9 113.5L251.9 116.7M251.9 113.5L254.0 113.5M250.5 118.9L251.0 121.2M250.5 118.9L249.3 116.3M250.5 118.9L248.0 119.2M249.2 122.4L247.8 125.3M249.2 122.4L245.9 123.0M249.2 122.4L245.8 122.4M249.2 122.4L250.8 120.9M249.1 126.1L247.2 127.7M249.1 126.1L248.1 128.2M249.1 126.1L247.1 128.2M256.3 88.1L255.2 86.2M256.3 88.1L258.2 87.8M256.3 88.1L256.7 89.7M256.3 88.1L256.4 89.8M256.5 93.9L255.5 92.2M256.5 93.9L255.9 97.1M256.5 93.9L254.8 96.2M256.5 93.9L257.1 95.7M256.3 96.5L254.2 96.3M256.3 96.5L255.8 95.0M256.3 96.5L256.2 94.5M256.3 96.5L257.4 95.4M256.5 101.9L254.9 103.3M256.5 101.9L254.5 104.3M256.5 101.9L257.5 103.4M256.5 101.9L257.1 100.1M254.4 105.6L254.2 103.7M254.4 105.6L254.5 103.7M253.3 109.4L251.1 110.5M253.3 109.4L251.8 106.7M253.3 109.4L253.4 111.0M253.9 114.6L253.0 116.0M253.9 114.6L254.3 112.3M254.5 119.2L253.9 117.0M254.5 119.2L251.1 119.3M255.8 120.9L254.9 122.4M255.8 120.9L257.1 123.3M254.6 124.8L256.5 124.9M254.6 124.8L252.5 126.2M254.6 124.8L253.6 126.6M258.7 89.9L260.2 90.6M258.7 89.9L262.0 89.7M258.7 89.9L257.9 88.1M259.1 94.4L261.5 95.4M259.1 94.4L261.2 95.4M259.1 94.4L256.1 92.8M260.1 95.8L260.3 97.7M260.1 95.8L259.4 93.8M260.1 95.8L258.4 96.5M259.9 102.7L262.2 101.2M259.9 102.7L261.6 104.2M259.9 102.7L262.0 103.3M259.9 102.7L258.6 105.7M259.6 107.1L257.6 106.6M259.6 107.1L258.5 109.0M259.6 107.1L258.7 105.6M259.6 107.1L258.7 105.5M260.1 110.3L258.1 110.0M260.1 110.3L259.2 113.2M260.1 110.3L257.2 110.6M260.4 114.3L258.5 116.6M260.4 114.3L262.7 114.1M260.4 114.3L259.7 112.5M258.8 117.4L256.0 117.0M258.8 117.4L259.1 119.5M258.8 117.4L258.6 115.6M258.8 117.4L258.5 119.8M260.4 123.0L259.9 124.8M260.4 123.0L261.1 124.7M260.4 123.0L259.5 121.3M260.5 125.5L262.2 128.0M260.5 125.5L260.2 128.0M263.1 88.1L262.9 86.4M263.1 88.1L261.9 85.7M263.7 93.6L263.2 95.4M263.7 93.6L261.5 92.2M263.7 97.4L265.7 98.7M263.7 97.4L262.9 99.5M263.7 97.4L264.0 99.5M263.7 97.4L264.9 95.9M261.8 102.5L261.4 105.4M261.8 102.5L264.5 102.7M261.8 102.5L259.7 100.4M263.1 106.5L266.0 106.2M263.1 106.5L264.6 105.1M261.9 111.0L260.3 112.7M261.9 111.0L261.2 108.6M263.6 112.2L264.8 110.7M263.6 112.2L262.2 114.5M263.6 112.2L266.4 113.9M263.0 119.4L262.0 121.3M263.0 119.4L260.1 121.0M263.0 119.4L266.4 119.5M263.0 119.4L260.8 120.1M264.2 120.5L264.8 119.0M264.2 120.5L266.9 119.8M264.2 120.5L262.3 120.8M262.3 124.6L259.5 124.6M262.3 124.6L263.7 123.1M262.3 124.6L262.1 122.9M262.3 124.6L261.2 122.4M268.7 88.6L268.7 86.4M268.7 88.6L269.5 90.0M268.3 93.6L271.1 93.1M268.3 93.6L271.2 95.0M268.3 93.6L270.1 92.1M268.3 93.6L269.5 92.2M266.5 96.9L269.3 97.3M266.5 96.9L266.0 98.8M269.6 101.2L268.2 100.7M269.6 101.2L269.8 102.9M269.6 101.2L270.7 99.8M268.9 106.7L268.4 109.5M268.9 106.7L268.4 108.1M269.5 109.1L268.1 111.0M269.5 109.1L270.8 111.1M269.5 109.1L269.7 106.8M269.5 109.1L266.5 108.9M266.9 113.8L266.7 116.0M266.9 113.8L265.1 115.7M268.9 119.0L268.9 122.1M268.9 119.0L270.3 121.4M268.9 119.0L267.6 116.2M268.6 121.5L269.6 123.0M268.6 121.5L267.2 119.7M266.7 126.0L268.1 128.3M266.7 126.0L263.6 126.0M273.5 89.0L271.2 88.0M273.5 89.0L276.2 88.8M273.5 89.0L274.5 90.9M273.5 89.0L276.0 90.1M272.4 94.1L274.8 95.1M272.4 94.1L272.9 96.0M271.0 95.6L271.4 97.5M271.0 95.6L271.3 97.0M271.0 95.6L268.7 96.3M271.1 99.7L268.4 101.5M271.1 99.7L268.8 101.1M271.1 99.7L269.0 98.5M273.4 106.9L273.7 108.5M273.4 106.9L271.6 106.0M273.4 106.9L271.2 109.3M272.6 110.0L270.9 110.3M272.6 110.0L270.5 107.5M272.7 114.2L270.6 116.1M272.7 114.2L274.7 116.2M271.4 118.7L272.1 117.1M271.4 118.7L270.5 121.6M271.4 118.7L269.4 116.9M271.4 118.7L273.2 120.3M271.8 121.5L270.4 122.8M271.8 121.5L272.9 119.5M272.5 126.3L273.8 125.0M272.5 126.3L270.8 124.9M272.5 126.3L275.5 125.1M274.8 87.7L271.8 88.8M274.8 87.7L272.1 88.8M274.8 87.7L276.4 89.0M274.8 87.7L272.8 90.0M275.3 92.3L276.3 90.0M275.3 92.3L276.3 90.2M275.9 99.0L275.8 97.3M275.9 99.0L277.5 99.6M275.9 99.0L275.0 96.6M275.9 99.0L275.2 101.5M276.8 100.7L275.3 98.8M276.8 100.7L274.9 100.7M276.8 100.7L277.9 98.9M276.2 106.9L274.0 105.4M276.2 106.9L278.1 106.2M276.2 106.9L274.6 106.4M277.8 108.4L276.6 105.3M277.8 108.4L277.5 106.7M277.8 108.4L276.3 106.4M275.4 115.2L274.7 113.5M275.4 115.2L273.2 114.2M275.4 115.2L277.0 117.2M276.4 118.9L275.7 117.4M276.4 118.9L277.9 117.5M275.9 121.2L277.4 118.9M275.9 121.2L277.8 119.7M275.1 124.5L271.9 123.5M275.1 124.5L274.7 126.1M275.1 124.5L277.4 124.7M275.1 124.5L272.6 125.5M282.5 88.9L284.2 89.1M282.5 88.9L280.5 88.8M279.3 93.6L280.6 92.4M279.3 93.6L276.6 91.9M282.0 96.1L279.9 96.6M282.0 96.1L281.4 93.6M282.0 96.1L284.7 94.7M282.0 96.1L279.6 96.1M281.6 103.0L281.5 105.0M281.6 103.0L279.4 103.8M281.6 103.0L281.0 101.3M281.6 103.0L280.3 100.0M279.9 106.1L283.1 105.0M279.9 106.1L282.8 107.0M279.4 109.4L281.5 107.4M279.4 109.4L281.1 106.9M280.2 113.6L283.2 114.7M280.2 113.6L277.5 111.4M280.2 113.6L281.7 113.4M282.2 117.6L285.2 117.0M282.2 117.6L284.4 117.8M282.2 117.6L284.6 117.0M279.5 122.3L279.1 119.3M279.5 122.3L276.9 120.4M279.5 122.3L281.4 120.4M279.1 125.7L277.7 127.6M279.1 125.7L279.3 123.0M284.3 90.4L286.5 89.1M284.3 90.4L286.3 88.6M284.3 90.4L281.6 90.8M286.9 91.5L286.2 88.8M286.9 91.5L285.1 89.1M286.9 91.5L288.4 89.1M284.0 98.4L284.0 100.9M284.0 98.4L285.3 100.4M283.5 100.6L285.2 101.1M283.5 100.6L280.4 99.6M283.5 100.6L285.5 101.5M283.6 106.8L281.8 106.8M283.6 106.8L286.4 105.7M283.6 106.8L286.7 107.9M286.2 110.5L283.2 110.1M286.2 110.5L287.5 111.9M286.2 110.5L287.7 108.4M286.2 110.5L284.8 109.4M284.3 114.3L285.6 113.0M284.3 114.3L283.7 115.9M284.3 114.3L283.0 111.6M284.3 114.3L286.2 115.5M283.7 118.6L285.6 117.3M283.7 118.6L282.1 115.9M283.9 121.3L284.0 124.3M283.9 121.3L281.1 120.8M283.7 125.5L283.6 123.6M283.7 125.5L284.9 128.4M283.7 125.5L282.5 124.3M289.9 90.5L287.6 90.6M289.9 90.5L290.1 88.7M289.9 90.5L293.0 90.7M288.3 93.8L290.2 94.9M288.3 93.8L286.2 93.6M288.3 93.8L287.5 96.8M288.3 93.8L286.9 92.5M291.0 97.0L290.6 99.5M291.0 97.0L291.9 95.4M289.3 100.3L289.1 98.7M289.3 100.3L289.9 102.4M289.3 100.3L288.2 101.6M289.3 100.3L291.5 102.2M289.9 105.9L292.3 105.0M289.9 105.9L287.3 108.2M289.6 109.6L291.3 110.2M289.6 109.6L291.3 110.5M289.6 109.6L287.3 110.5M289.6 109.6L292.2 110.7M291.1 114.7L290.0 116.1M291.1 114.7L291.4 116.3M291.1 114.7L292.6 113.0M291.4 116.8L292.6 119.6M291.4 116.8L293.8 115.1M291.4 116.8L290.1 115.0M291.3 122.3L291.6 125.4M291.3 122.3L289.8 120.9M291.3 122.3L293.4 120.1M291.3 122.3L291.6 125.2M290.1 126.0L287.4 124.6M290.1 126.0L291.8 124.0M290.1 126.0L289.1 123.5" stroke="#4a7a22" stroke-width="0.6"/>
<g fill="#629822"><circle cx="275.5" cy="125.1" r="1.3"/><circle cx="266.5" cy="108.9" r="1.6"/><circle cx="273.2" cy="114.2" r="1.4"/><circle cx="264.6" cy="105.1" r="1.6"/><circle cx="249.3" cy="116.3" r="1.6"/><circle cx="287.6" cy="90.6" r="1.5"/><circle cx="261.9" cy="85.7" r="1.3"/><circle cx="270.6" cy="116.1" r="1.4"/><circle cx="265.1" cy="115.7" r="1.4"/><circle cx="254.9" cy="122.4" r="1.5"/><circle cx="258.5" cy="109.0" r="1.6"/><circle cx="257.2" cy="110.6" r="1.6"/><circle cx="264.9" cy="95.9" r="1.4"/><circle cx="286.2" cy="88.8" r="1.2"/><circle cx="268.1" cy="128.3" r="1.5"/><circle cx="286.4" cy="105.7" r="1.7"/><circle cx="277.5" cy="111.4" r="1.3"/><circle cx="276.2" cy="88.8" r="1.8"/><circle cx="285.1" cy="89.1" r="1.6"/><circle cx="258.5" cy="116.6" r="1.7"/><circle cx="257.6" cy="106.6" r="1.5"/><circle cx="260.8" cy="120.1" r="1.3"/><circle cx="255.2" cy="86.2" r="1.4"/><circle cx="248.0" cy="119.2" r="1.8"/><circle cx="274.7" cy="126.1" r="1.4"/><circle cx="263.2" cy="95.4" r="1.3"/><circle cx="271.2" cy="88.0" r="1.7"/><circle cx="273.7" cy="108.5" r="1.5"/><circle cx="266.4" cy="119.5" r="1.6"/><circle cx="265.7" cy="98.7" r="1.3"/><circle cx="289.1" cy="98.7" r="1.4"/><circle cx="261.6" cy="104.2" r="1.2"/><circle cx="278.1" cy="106.2" r="1.3"/><circle cx="257.1" cy="95.7" r="1.3"/><circle cx="268.4" cy="109.5" r="1.3"/><circle cx="261.2" cy="122.4" r="1.6"/><circle cx="274.0" cy="105.4" r="1.8"/><circle cx="251.9" cy="116.7" r="1.3"/></g>
<g fill="#56881e"><circle cx="262.9" cy="86.4" r="1.4"/><circle cx="245.8" cy="122.4" r="1.3"/><circle cx="290.0" cy="116.1" r="1.6"/><circle cx="291.3" cy="110.2" r="1.4"/><circle cx="266.4" cy="113.9" r="1.7"/><circle cx="283.2" cy="110.1" r="1.8"/><circle cx="254.5" cy="103.7" r="1.3"/><circle cx="247.2" cy="127.7" r="1.7"/><circle cx="271.9" cy="123.5" r="1.8"/><circle cx="283.6" cy="123.6" r="1.5"/><circle cx="293.4" cy="120.1" r="1.4"/><circle cx="260.1" cy="121.0" r="1.3"/><circle cx="284.8" cy="109.4" r="1.7"/><circle cx="247.1" cy="128.2" r="1.5"/><circle cx="277.0" cy="117.2" r="1.8"/><circle cx="284.0" cy="124.3" r="1.7"/><circle cx="279.4" cy="103.8" r="1.8"/><circle cx="262.9" cy="99.5" r="1.2"/><circle cx="289.1" cy="123.5" r="1.5"/><circle cx="245.9" cy="123.0" r="1.3"/><circle cx="269.5" cy="92.2" r="1.6"/><circle cx="291.6" cy="125.4" r="1.4"/><circle cx="288.4" cy="89.1" r="1.6"/><circle cx="271.3" cy="97.0" r="1.6"/><circle cx="270.5" cy="121.6" r="1.6"/><circle cx="253.6" cy="126.6" r="1.3"/><circle cx="293.0" cy="90.7" r="1.4"/><circle cx="284.7" cy="94.7" r="1.2"/><circle cx="281.4" cy="93.6" r="1.6"/><circle cx="261.5" cy="92.2" r="1.3"/><circle cx="254.9" cy="103.3" r="1.5"/><circle cx="268.1" cy="111.0" r="1.4"/><circle cx="279.3" cy="123.0" r="1.4"/></g>
<g fill="#74a82a"><circle cx="270.9" cy="110.3" r="1.5"/><circle cx="249.2" cy="94.1" r="1.4"/><circle cx="274.7" cy="113.5" r="1.4"/><circle cx="253.0" cy="116.0" r="1.2"/><circle cx="258.7" cy="105.5" r="1.4"/><circle cx="252.9" cy="103.8" r="1.2"/><circle cx="262.1" cy="122.9" r="1.4"/><circle cx="248.5" cy="89.1" r="1.7"/><circle cx="248.1" cy="128.2" r="1.5"/><circle cx="260.3" cy="97.7" r="1.4"/><circle cx="285.3" cy="100.4" r="1.8"/><circle cx="291.6" cy="125.2" r="1.3"/><circle cx="285.5" cy="101.5" r="1.5"/><circle cx="292.6" cy="113.0" r="1.4"/><circle cx="262.7" cy="114.1" r="1.6"/><circle cx="252.2" cy="102.9" r="1.5"/><circle cx="276.9" cy="120.4" r="1.2"/><circle cx="256.4" cy="89.8" r="1.8"/><circle cx="287.7" cy="108.4" r="1.7"/><circle cx="256.0" cy="117.0" r="1.7"/><circle cx="260.2" cy="128.0" r="1.8"/><circle cx="285.6" cy="113.0" r="1.7"/><circle cx="254.5" cy="104.3" r="1.5"/><circle cx="246.9" cy="97.0" r="1.2"/><circle cx="259.4" cy="93.8" r="1.3"/><circle cx="272.9" cy="119.5" r="1.7"/><circle cx="276.0" cy="90.1" r="1.3"/><circle cx="275.0" cy="96.6" r="1.6"/><circle cx="274.7" cy="116.2" r="1.2"/><circle cx="283.7" cy="115.9" r="1.8"/><circle cx="271.8" cy="88.8" r="1.7"/><circle cx="252.5" cy="126.2" r="1.8"/><circle cx="261.1" cy="124.7" r="1.2"/><circle cx="286.9" cy="92.5" r="1.6"/><circle cx="277.9" cy="98.9" r="1.4"/><circle cx="262.0" cy="103.3" r="1.8"/><circle cx="271.1" cy="93.1" r="1.7"/><circle cx="262.2" cy="114.5" r="1.4"/><circle cx="276.3" cy="90.2" r="1.6"/><circle cx="281.4" cy="120.4" r="1.6"/><circle cx="280.5" cy="88.8" r="1.3"/><circle cx="267.2" cy="119.7" r="1.3"/><circle cx="286.7" cy="107.9" r="1.3"/><circle cx="262.2" cy="101.2" r="1.6"/><circle cx="284.4" cy="117.8" r="1.4"/></g>
<g fill="#325e16"><circle cx="252.4" cy="102.7" r="1.4"/><circle cx="250.9" cy="109.4" r="1.3"/><circle cx="293.8" cy="115.1" r="1.6"/><circle cx="258.4" cy="96.5" r="1.3"/><circle cx="280.3" cy="100.0" r="1.3"/><circle cx="263.7" cy="123.1" r="1.6"/><circle cx="247.8" cy="125.3" r="1.7"/><circle cx="262.3" cy="120.8" r="1.2"/><circle cx="261.2" cy="108.6" r="1.3"/><circle cx="268.9" cy="122.1" r="1.6"/><circle cx="286.2" cy="115.5" r="1.3"/><circle cx="286.3" cy="88.6" r="1.6"/><circle cx="283.0" cy="111.6" r="1.5"/><circle cx="259.5" cy="124.6" r="1.6"/><circle cx="254.2" cy="103.7" r="1.3"/><circle cx="279.9" cy="96.6" r="1.3"/><circle cx="290.2" cy="94.9" r="1.4"/><circle cx="253.4" cy="111.0" r="1.3"/><circle cx="256.2" cy="94.5" r="1.5"/><circle cx="270.8" cy="124.9" r="1.5"/><circle cx="277.4" cy="118.9" r="1.3"/><circle cx="270.5" cy="107.5" r="1.6"/><circle cx="285.6" cy="117.3" r="1.3"/><circle cx="254.3" cy="112.3" r="1.3"/><circle cx="251.1" cy="119.3" r="1.7"/><circle cx="281.1" cy="120.8" r="1.7"/><circle cx="259.9" cy="124.8" r="1.8"/><circle cx="269.7" cy="106.8" r="1.5"/><circle cx="253.9" cy="117.0" r="1.6"/><circle cx="252.4" cy="93.6" r="1.3"/><circle cx="275.7" cy="117.4" r="1.7"/><circle cx="269.6" cy="123.0" r="1.4"/><circle cx="254.8" cy="96.2" r="1.2"/><circle cx="258.5" cy="119.8" r="1.7"/></g>
<g fill="#86b530"><circle cx="282.1" cy="115.9" r="1.6"/><circle cx="292.3" cy="105.0" r="1.4"/><circle cx="275.8" cy="97.3" r="1.4"/><circle cx="284.6" cy="117.0" r="1.3"/><circle cx="246.9" cy="92.1" r="1.6"/><circle cx="270.8" cy="111.1" r="1.3"/><circle cx="277.5" cy="99.6" r="1.2"/><circle cx="291.5" cy="102.2" r="1.6"/><circle cx="276.6" cy="105.3" r="1.5"/><circle cx="277.4" cy="124.7" r="1.5"/><circle cx="258.1" cy="110.0" r="1.5"/><circle cx="276.3" cy="106.4" r="1.2"/><circle cx="287.4" cy="124.6" r="1.2"/><circle cx="281.5" cy="105.0" r="1.7"/><circle cx="268.4" cy="101.5" r="1.3"/><circle cx="254.2" cy="96.3" r="1.4"/><circle cx="250.5" cy="92.2" r="1.7"/><circle cx="271.4" cy="97.5" r="1.3"/><circle cx="255.5" cy="92.2" r="1.3"/><circle cx="255.8" cy="95.0" r="1.3"/><circle cx="269.4" cy="116.9" r="1.7"/><circle cx="267.6" cy="116.2" r="1.7"/><circle cx="257.1" cy="123.3" r="1.4"/><circle cx="284.0" cy="100.9" r="1.8"/><circle cx="264.0" cy="99.5" r="1.3"/><circle cx="284.2" cy="89.1" r="1.5"/><circle cx="264.8" cy="110.7" r="1.4"/><circle cx="256.5" cy="124.9" r="1.3"/><circle cx="285.2" cy="117.0" r="1.5"/><circle cx="290.1" cy="88.7" r="1.3"/><circle cx="281.1" cy="106.9" r="1.3"/><circle cx="287.5" cy="111.9" r="1.6"/><circle cx="264.8" cy="119.0" r="1.3"/></g>
<g fill="#94bc38"><circle cx="291.3" cy="110.5" r="1.7"/><circle cx="266.0" cy="106.2" r="1.8"/><circle cx="287.3" cy="108.2" r="1.2"/><circle cx="268.7" cy="86.4" r="1.5"/><circle cx="259.7" cy="100.4" r="1.5"/><circle cx="286.2" cy="93.6" r="1.7"/><circle cx="251.4" cy="101.2" r="1.8"/><circle cx="292.6" cy="119.6" r="1.8"/><circle cx="269.8" cy="102.9" r="1.6"/><circle cx="289.9" cy="102.4" r="1.6"/><circle cx="277.9" cy="117.5" r="1.5"/><circle cx="277.8" cy="119.7" r="1.4"/><circle cx="291.4" cy="116.3" r="1.4"/><circle cx="273.2" cy="120.3" r="1.8"/><circle cx="287.5" cy="96.8" r="1.6"/><circle cx="270.1" cy="92.1" r="1.5"/><circle cx="252.3" cy="105.3" r="1.2"/><circle cx="290.6" cy="99.5" r="1.4"/><circle cx="270.4" cy="122.8" r="1.6"/><circle cx="261.5" cy="95.4" r="1.3"/><circle cx="251.8" cy="106.7" r="1.8"/><circle cx="264.5" cy="102.7" r="1.3"/><circle cx="269.0" cy="98.5" r="1.4"/><circle cx="273.8" cy="125.0" r="1.4"/><circle cx="283.1" cy="105.0" r="1.5"/><circle cx="284.9" cy="128.4" r="1.4"/><circle cx="268.8" cy="101.1" r="1.6"/><circle cx="260.3" cy="112.7" r="1.4"/><circle cx="261.4" cy="105.4" r="1.5"/><circle cx="258.6" cy="105.7" r="1.8"/><circle cx="251.0" cy="121.2" r="1.7"/><circle cx="276.6" cy="91.9" r="1.5"/><circle cx="270.7" cy="99.8" r="1.4"/></g>
<g fill="#3e7018"><circle cx="261.2" cy="95.4" r="1.6"/><circle cx="257.4" cy="95.4" r="1.8"/><circle cx="282.8" cy="107.0" r="1.3"/><circle cx="274.6" cy="106.4" r="1.2"/><circle cx="286.5" cy="89.1" r="1.5"/><circle cx="247.5" cy="96.7" r="1.5"/><circle cx="258.7" cy="105.6" r="1.5"/><circle cx="263.6" cy="126.0" r="1.8"/><circle cx="291.8" cy="124.0" r="1.6"/><circle cx="254.3" cy="108.2" r="1.3"/><circle cx="268.2" cy="100.7" r="1.6"/><circle cx="279.6" cy="96.1" r="1.4"/><circle cx="266.9" cy="119.8" r="1.5"/><circle cx="268.7" cy="96.3" r="1.8"/><circle cx="259.5" cy="121.3" r="1.7"/><circle cx="283.2" cy="114.7" r="1.4"/><circle cx="269.3" cy="97.3" r="1.3"/><circle cx="251.1" cy="110.5" r="1.3"/><circle cx="271.2" cy="109.3" r="1.2"/><circle cx="281.6" cy="90.8" r="1.6"/><circle cx="272.6" cy="125.5" r="1.3"/><circle cx="276.4" cy="89.0" r="1.7"/><circle cx="271.2" cy="95.0" r="1.2"/><circle cx="285.2" cy="101.1" r="1.4"/><circle cx="256.1" cy="92.8" r="1.7"/><circle cx="280.6" cy="92.4" r="1.6"/><circle cx="291.9" cy="95.4" r="1.5"/><circle cx="259.2" cy="113.2" r="1.7"/><circle cx="275.2" cy="101.5" r="1.4"/><circle cx="279.1" cy="119.3" r="1.3"/><circle cx="281.7" cy="113.4" r="1.7"/><circle cx="289.8" cy="120.9" r="1.5"/><circle cx="260.2" cy="90.6" r="1.5"/><circle cx="255.9" cy="97.1" r="1.5"/><circle cx="259.7" cy="112.5" r="1.4"/><circle cx="250.1" cy="88.1" r="1.8"/><circle cx="274.8" cy="95.1" r="1.3"/></g>
<g fill="#4e8420"><circle cx="274.5" cy="90.9" r="1.5"/><circle cx="281.0" cy="101.3" r="1.3"/><circle cx="272.1" cy="88.8" r="1.8"/><circle cx="280.4" cy="99.6" r="1.4"/><circle cx="271.6" cy="106.0" r="1.2"/><circle cx="288.2" cy="101.6" r="1.4"/><circle cx="272.9" cy="96.0" r="1.4"/><circle cx="257.1" cy="100.1" r="1.5"/><circle cx="262.0" cy="89.7" r="1.4"/><circle cx="282.5" cy="124.3" r="1.5"/><circle cx="249.1" cy="104.9" r="1.6"/><circle cx="287.3" cy="110.5" r="1.2"/><circle cx="281.5" cy="107.4" r="1.4"/><circle cx="257.9" cy="88.1" r="1.6"/><circle cx="266.7" cy="116.0" r="1.5"/><circle cx="269.5" cy="90.0" r="1.2"/><circle cx="268.4" cy="108.1" r="1.3"/><circle cx="250.8" cy="120.9" r="1.8"/><circle cx="292.2" cy="110.7" r="1.4"/><circle cx="254.0" cy="113.5" r="1.6"/><circle cx="262.0" cy="121.3" r="1.4"/><circle cx="276.3" cy="90.0" r="1.3"/><circle cx="262.2" cy="128.0" r="1.3"/><circle cx="257.5" cy="103.4" r="1.6"/><circle cx="290.1" cy="115.0" r="1.3"/><circle cx="277.7" cy="127.6" r="1.4"/><circle cx="275.3" cy="98.8" r="1.7"/><circle cx="259.1" cy="119.5" r="1.6"/><circle cx="274.9" cy="100.7" r="1.4"/><circle cx="247.8" cy="93.7" r="1.5"/><circle cx="252.4" cy="110.4" r="1.6"/><circle cx="258.2" cy="87.8" r="1.5"/><circle cx="281.8" cy="106.8" r="1.3"/><circle cx="256.7" cy="89.7" r="1.7"/><circle cx="266.0" cy="98.8" r="1.7"/><circle cx="270.3" cy="121.4" r="1.7"/><circle cx="258.6" cy="115.6" r="1.4"/><circle cx="272.1" cy="117.1" r="1.8"/><circle cx="277.5" cy="106.7" r="1.3"/><circle cx="272.8" cy="90.0" r="1.2"/></g>
<line x1="243.8" y1="25.0" x2="243.8" y2="139.0" stroke="#a4a6b4" stroke-width="0.8"/>
<line x1="186.5" y1="82.0" x2="301.0" y2="82.0" stroke="#a4a6b4" stroke-width="0.8"/>
<text x="191.70" y="37.60" font-size="10.5" text-anchor="start" fill="#f4f4f4" stroke="#f4f4f4" stroke-width="0.25">WT</text>
<text x="294.50" y="38.10" font-size="10.5" text-anchor="end" fill="#f4f4f4" stroke="#f4f4f4" stroke-width="0.25">#3</text>
<text x="191.30" y="134.70" font-size="10.5" text-anchor="start" fill="#f4f4f4" stroke="#f4f4f4" stroke-width="0.25">#1</text>
<text x="293.50" y="134.70" font-size="10.5" text-anchor="end" fill="#f4f4f4" stroke="#f4f4f4" stroke-width="0.25">#4</text>
<line x1="266.3" y1="136.4" x2="286.7" y2="136.4" stroke="#e8e8e8" stroke-width="1"/>
<rect x="303.0" y="25.0" width="114.7" height="114.0" fill="#181b3a"/>
<rect x="303.5" y="25.5" width="113.7" height="113.0" fill="none" stroke="#6a6c7c" stroke-width="0.9" rx="2.5"/>
<path d="M317.2 39.2C316.3 43.4 315.7 27.5 315.3 32.6M317.2 39.2C323.3 45.5 311.2 38.1 313.2 40.4M317.4 43.9C313.3 50.3 312.5 43.1 311.9 38.3M319.4 49.4C320.4 45.1 317.9 58.7 313.8 53.8M317.9 56.6C317.0 62.1 324.6 55.3 321.0 50.5M316.6 61.1C312.6 59.5 315.1 58.8 309.8 60.0M319.5 68.5C323.7 73.7 312.6 60.4 318.1 64.1M324.1 39.0C322.7 35.7 320.1 30.7 317.6 34.5M324.1 39.0C320.9 35.8 327.3 44.2 329.6 39.0M324.2 43.1C325.9 48.0 326.1 47.6 322.2 49.4M326.3 49.7C324.3 53.9 328.5 55.3 332.7 50.6M326.3 49.7C329.2 49.8 329.4 48.4 333.3 49.8M323.8 58.4C325.7 53.3 324.0 65.9 323.0 64.9M327.4 63.0C328.3 66.0 335.2 62.7 332.4 60.9M326.1 70.3C329.9 76.3 325.3 71.0 328.6 66.1M329.9 39.8C326.0 45.1 329.3 37.0 333.9 39.4M333.4 43.2C333.4 42.2 336.0 38.9 337.4 42.6M331.2 50.0C324.8 52.2 338.6 50.9 335.3 51.4M332.0 56.3C332.0 54.9 334.3 62.9 335.4 59.7M330.5 61.6C330.2 67.8 337.1 55.6 331.8 56.7M333.8 68.7C339.1 68.7 330.6 61.7 329.0 63.9M333.8 68.7C335.4 74.2 336.3 67.4 339.8 72.4M338.0 37.4C337.1 33.9 334.3 42.6 332.0 41.4M339.7 45.6C343.3 50.2 351.0 42.1 346.9 43.2M339.0 51.3C333.0 47.6 339.6 49.9 335.7 55.9M339.0 51.3C337.2 56.0 345.0 50.6 343.1 50.8M339.6 58.2C345.1 56.1 351.8 59.2 345.8 54.5M339.6 58.2C343.0 59.3 342.6 56.6 342.4 51.4M337.6 63.0C341.6 64.7 333.6 60.3 332.9 60.5M339.1 67.7C338.5 68.8 336.3 74.2 335.7 73.4M343.3 37.2C346.5 40.1 335.1 42.1 336.0 39.3M345.6 44.5C351.0 49.7 345.0 41.5 345.5 40.2M344.5 51.3C347.2 55.8 345.9 50.6 349.6 51.6M344.5 51.3C340.5 47.4 345.6 47.4 349.9 47.3M343.3 57.3C349.4 53.0 346.3 66.0 341.7 63.7M343.3 57.3C347.0 63.0 335.9 66.3 337.1 61.8M346.3 63.6C341.7 67.8 348.8 69.8 343.5 68.0M342.8 67.8C348.6 73.0 350.9 67.4 347.9 67.2M342.8 67.8C347.2 67.2 341.1 58.1 339.0 63.0M352.4 39.4C349.0 37.8 357.2 40.6 352.3 45.3M352.4 39.4C346.4 44.6 353.9 41.1 359.5 36.9M350.6 47.2C357.6 51.6 355.7 45.0 350.2 40.8M350.4 51.3C354.8 44.5 342.1 50.9 345.9 48.7M350.4 51.3C351.7 48.1 348.4 40.7 350.6 46.4M353.4 58.7C359.8 55.6 349.2 53.5 346.5 58.0M353.4 58.7C355.2 54.6 347.9 58.8 348.9 62.8M350.9 61.5C352.0 62.0 349.2 64.8 344.3 61.6M353.5 69.0C356.6 71.8 348.5 64.2 353.5 61.7" stroke="#8e8e88" stroke-width="0.7" fill="none" opacity="0.65"/>
<g fill="#b4b09c"><ellipse cx="317.6" cy="40.5" rx="1.4" ry="0.9" transform="rotate(73 317.6 40.5)"/><ellipse cx="316.8" cy="38.0" rx="1.4" ry="0.9" transform="rotate(253 316.8 38.0)"/><ellipse cx="318.1" cy="45.0" rx="1.4" ry="0.9" transform="rotate(57 318.1 45.0)"/><ellipse cx="316.7" cy="42.8" rx="1.4" ry="0.9" transform="rotate(237 316.7 42.8)"/><ellipse cx="315.7" cy="60.2" rx="1.4" ry="0.9" transform="rotate(222 315.7 60.2)"/><ellipse cx="317.6" cy="61.9" rx="1.4" ry="0.9" transform="rotate(402 317.6 61.9)"/><ellipse cx="322.8" cy="38.6" rx="1.4" ry="0.9" transform="rotate(201 322.8 38.6)"/><ellipse cx="325.3" cy="39.5" rx="1.4" ry="0.9" transform="rotate(381 325.3 39.5)"/><ellipse cx="322.9" cy="43.5" rx="1.4" ry="0.9" transform="rotate(159 322.9 43.5)"/><ellipse cx="325.4" cy="42.6" rx="1.4" ry="0.9" transform="rotate(339 325.4 42.6)"/><ellipse cx="326.6" cy="51.0" rx="1.4" ry="0.9" transform="rotate(76 326.6 51.0)"/><ellipse cx="326.0" cy="48.4" rx="1.4" ry="0.9" transform="rotate(256 326.0 48.4)"/><ellipse cx="326.8" cy="64.2" rx="1.4" ry="0.9" transform="rotate(116 326.8 64.2)"/><ellipse cx="328.0" cy="61.8" rx="1.4" ry="0.9" transform="rotate(296 328.0 61.8)"/><ellipse cx="331.9" cy="49.0" rx="1.4" ry="0.9" transform="rotate(302 331.9 49.0)"/><ellipse cx="330.5" cy="51.1" rx="1.4" ry="0.9" transform="rotate(482 330.5 51.1)"/><ellipse cx="330.8" cy="56.1" rx="1.4" ry="0.9" transform="rotate(191 330.8 56.1)"/><ellipse cx="333.3" cy="56.6" rx="1.4" ry="0.9" transform="rotate(371 333.3 56.6)"/><ellipse cx="334.5" cy="69.8" rx="1.4" ry="0.9" transform="rotate(56 334.5 69.8)"/><ellipse cx="333.1" cy="67.7" rx="1.4" ry="0.9" transform="rotate(236 333.1 67.7)"/><ellipse cx="343.2" cy="35.9" rx="1.4" ry="0.9" transform="rotate(265 343.2 35.9)"/><ellipse cx="343.4" cy="38.5" rx="1.4" ry="0.9" transform="rotate(445 343.4 38.5)"/><ellipse cx="345.3" cy="43.3" rx="1.4" ry="0.9" transform="rotate(255 345.3 43.3)"/><ellipse cx="345.9" cy="45.8" rx="1.4" ry="0.9" transform="rotate(435 345.9 45.8)"/><ellipse cx="344.8" cy="50.0" rx="1.4" ry="0.9" transform="rotate(282 344.8 50.0)"/><ellipse cx="344.2" cy="52.6" rx="1.4" ry="0.9" transform="rotate(462 344.2 52.6)"/><ellipse cx="342.7" cy="56.1" rx="1.4" ry="0.9" transform="rotate(246 342.7 56.1)"/><ellipse cx="343.8" cy="58.5" rx="1.4" ry="0.9" transform="rotate(426 343.8 58.5)"/><ellipse cx="345.4" cy="64.5" rx="1.4" ry="0.9" transform="rotate(135 345.4 64.5)"/><ellipse cx="347.2" cy="62.7" rx="1.4" ry="0.9" transform="rotate(315 347.2 62.7)"/><ellipse cx="351.9" cy="47.0" rx="1.4" ry="0.9" transform="rotate(351 351.9 47.0)"/><ellipse cx="349.3" cy="47.4" rx="1.4" ry="0.9" transform="rotate(531 349.3 47.4)"/></g>
<g fill="#3e7018"><ellipse cx="320.5" cy="48.1" rx="1.9" ry="1.6" transform="rotate(307 320.5 48.1)"/><ellipse cx="324.9" cy="57.5" rx="2.1" ry="1.2" transform="rotate(321 324.9 57.5)"/><ellipse cx="329.7" cy="38.2" rx="1.6" ry="1.5" transform="rotate(624 329.7 38.2)"/><ellipse cx="349.8" cy="62.8" rx="1.8" ry="1.3" transform="rotate(488 349.8 62.8)"/></g>
<g fill="#9ab848"><ellipse cx="321.4" cy="50.2" rx="2.1" ry="1.5" transform="rotate(382 321.4 50.2)"/><ellipse cx="317.6" cy="49.1" rx="1.5" ry="1.2" transform="rotate(551 317.6 49.1)"/><ellipse cx="317.6" cy="55.2" rx="1.7" ry="1.4" transform="rotate(259 317.6 55.2)"/><ellipse cx="319.0" cy="66.6" rx="1.7" ry="1.2" transform="rotate(255 319.0 66.6)"/><ellipse cx="327.2" cy="71.8" rx="2.0" ry="1.4" transform="rotate(415 327.2 71.8)"/><ellipse cx="333.7" cy="41.8" rx="1.9" ry="1.3" transform="rotate(281 333.7 41.8)"/><ellipse cx="330.5" cy="63.0" rx="1.7" ry="1.3" transform="rotate(450 330.5 63.0)"/><ellipse cx="337.8" cy="50.6" rx="2.1" ry="1.5" transform="rotate(572 337.8 50.6)"/><ellipse cx="335.8" cy="63.8" rx="1.9" ry="1.3" transform="rotate(514 335.8 63.8)"/><ellipse cx="338.2" cy="65.6" rx="1.8" ry="1.4" transform="rotate(246 338.2 65.6)"/><ellipse cx="342.4" cy="69.3" rx="1.5" ry="1.2" transform="rotate(107 342.4 69.3)"/><ellipse cx="349.6" cy="53.2" rx="2.1" ry="1.1" transform="rotate(473 349.6 53.2)"/><ellipse cx="348.8" cy="50.4" rx="1.5" ry="1.2" transform="rotate(570 348.8 50.4)"/><ellipse cx="350.2" cy="59.7" rx="1.9" ry="1.4" transform="rotate(249 350.2 59.7)"/><ellipse cx="351.7" cy="70.4" rx="1.9" ry="1.5" transform="rotate(140 351.7 70.4)"/></g>
<g fill="#86b43c"><ellipse cx="318.7" cy="50.9" rx="1.7" ry="1.5" transform="rotate(476 318.7 50.9)"/><ellipse cx="317.1" cy="58.7" rx="1.9" ry="1.3" transform="rotate(470 317.1 58.7)"/><ellipse cx="327.4" cy="69.0" rx="2.1" ry="1.4" transform="rotate(316 327.4 69.0)"/><ellipse cx="328.6" cy="40.7" rx="1.6" ry="1.6" transform="rotate(502 328.6 40.7)"/><ellipse cx="328.2" cy="61.6" rx="1.6" ry="1.2" transform="rotate(180 328.2 61.6)"/><ellipse cx="339.1" cy="44.4" rx="1.5" ry="1.4" transform="rotate(241 339.1 44.4)"/><ellipse cx="340.6" cy="68.9" rx="1.7" ry="1.4" transform="rotate(36 340.6 68.9)"/><ellipse cx="337.0" cy="68.8" rx="1.6" ry="1.5" transform="rotate(153 337.0 68.8)"/><ellipse cx="352.7" cy="51.5" rx="1.7" ry="1.5" transform="rotate(364 352.7 51.5)"/><ellipse cx="354.6" cy="70.0" rx="1.7" ry="1.2" transform="rotate(43 354.6 70.0)"/><ellipse cx="354.6" cy="67.0" rx="2.0" ry="1.4" transform="rotate(299 354.6 67.0)"/></g>
<g fill="#5a9226"><ellipse cx="320.0" cy="57.1" rx="2.1" ry="1.4" transform="rotate(373 320.0 57.1)"/><ellipse cx="331.2" cy="43.6" rx="1.5" ry="1.3" transform="rotate(170 331.2 43.6)"/><ellipse cx="336.2" cy="37.2" rx="2.1" ry="1.2" transform="rotate(544 336.2 37.2)"/><ellipse cx="341.2" cy="46.7" rx="2.1" ry="1.3" transform="rotate(397 341.2 46.7)"/><ellipse cx="338.7" cy="53.5" rx="2.0" ry="1.2" transform="rotate(456 338.7 53.5)"/><ellipse cx="338.3" cy="59.3" rx="2.0" ry="1.2" transform="rotate(499 338.3 59.3)"/><ellipse cx="344.7" cy="66.6" rx="2.0" ry="1.3" transform="rotate(326 344.7 66.6)"/><ellipse cx="351.1" cy="37.9" rx="1.9" ry="1.4" transform="rotate(587 351.1 37.9)"/><ellipse cx="353.8" cy="60.6" rx="2.1" ry="1.5" transform="rotate(78 353.8 60.6)"/><ellipse cx="354.8" cy="57.6" rx="1.8" ry="1.5" transform="rotate(322 354.8 57.6)"/></g>
<g fill="#6a9e2c"><ellipse cx="320.9" cy="68.5" rx="1.5" ry="1.6" transform="rotate(0 320.9 68.5)"/><ellipse cx="331.0" cy="38.9" rx="1.9" ry="1.4" transform="rotate(322 331.0 38.9)"/><ellipse cx="330.4" cy="60.2" rx="2.2" ry="1.3" transform="rotate(266 330.4 60.2)"/><ellipse cx="341.1" cy="51.1" rx="1.7" ry="1.1" transform="rotate(353 341.1 51.1)"/><ellipse cx="340.8" cy="57.4" rx="2.2" ry="1.6" transform="rotate(325 340.8 57.4)"/><ellipse cx="340.0" cy="59.7" rx="1.6" ry="1.3" transform="rotate(432 340.0 59.7)"/><ellipse cx="339.3" cy="56.1" rx="1.7" ry="1.6" transform="rotate(623 339.3 56.1)"/><ellipse cx="339.1" cy="62.5" rx="1.8" ry="1.4" transform="rotate(342 339.1 62.5)"/></g>
<g fill="#78aa34"><ellipse cx="318.3" cy="69.9" rx="1.8" ry="1.4" transform="rotate(129 318.3 69.9)"/><ellipse cx="322.4" cy="57.2" rx="1.6" ry="1.1" transform="rotate(221 322.4 57.2)"/><ellipse cx="330.8" cy="40.9" rx="1.6" ry="1.3" transform="rotate(410 330.8 40.9)"/><ellipse cx="332.8" cy="44.8" rx="1.7" ry="1.1" transform="rotate(111 332.8 44.8)"/><ellipse cx="335.2" cy="43.7" rx="2.2" ry="1.3" transform="rotate(373 335.2 43.7)"/><ellipse cx="339.5" cy="36.4" rx="2.1" ry="1.4" transform="rotate(324 339.5 36.4)"/><ellipse cx="338.0" cy="39.6" rx="1.9" ry="1.4" transform="rotate(451 338.0 39.6)"/><ellipse cx="338.0" cy="46.9" rx="1.6" ry="1.4" transform="rotate(141 338.0 46.9)"/><ellipse cx="336.6" cy="61.4" rx="2.0" ry="1.6" transform="rotate(238 336.6 61.4)"/><ellipse cx="351.2" cy="39.8" rx="1.7" ry="1.4" transform="rotate(518 351.2 39.8)"/><ellipse cx="351.2" cy="49.9" rx="1.9" ry="1.2" transform="rotate(297 351.2 49.9)"/><ellipse cx="352.1" cy="57.9" rx="1.8" ry="1.3" transform="rotate(212 352.1 57.9)"/></g>
<g fill="#4a8220"><ellipse cx="325.6" cy="59.3" rx="1.8" ry="1.3" transform="rotate(27 325.6 59.3)"/><ellipse cx="322.0" cy="59.7" rx="1.5" ry="1.6" transform="rotate(144 322.0 59.7)"/><ellipse cx="324.1" cy="70.3" rx="2.0" ry="1.3" transform="rotate(180 324.1 70.3)"/><ellipse cx="332.5" cy="60.5" rx="1.9" ry="1.5" transform="rotate(330 332.5 60.5)"/><ellipse cx="336.7" cy="35.4" rx="2.0" ry="1.6" transform="rotate(595 336.7 35.4)"/><ellipse cx="340.8" cy="44.5" rx="1.6" ry="1.4" transform="rotate(313 340.8 44.5)"/><ellipse cx="337.4" cy="64.4" rx="1.6" ry="1.2" transform="rotate(456 337.4 64.4)"/><ellipse cx="342.2" cy="66.4" rx="1.6" ry="1.6" transform="rotate(244 342.2 66.4)"/><ellipse cx="353.9" cy="38.2" rx="1.7" ry="1.3" transform="rotate(319 353.9 38.2)"/><ellipse cx="353.0" cy="40.6" rx="1.7" ry="1.2" transform="rotate(427 353.0 40.6)"/><ellipse cx="352.3" cy="61.6" rx="1.8" ry="1.4" transform="rotate(366 352.3 61.6)"/></g>
<path d="M369.6 39.2C371.9 35.2 371.4 33.9 374.8 36.5M369.6 39.2C376.2 33.1 364.2 29.7 367.9 34.6M368.0 44.7C364.6 49.2 370.0 47.8 364.2 48.7M368.0 44.7C366.6 51.6 370.7 56.4 366.7 51.7M369.7 53.0C375.6 48.8 370.5 48.4 365.3 47.8M367.4 57.0C368.1 63.9 363.9 56.3 364.4 60.0M369.9 64.7C367.0 67.2 370.7 70.2 366.0 71.4M368.4 71.3C367.8 68.4 363.2 71.6 368.7 77.0M368.4 71.3C367.6 73.6 372.6 73.5 375.4 71.0M375.8 42.6C375.1 39.5 382.5 40.4 381.1 44.6M375.8 42.6C369.6 45.3 372.8 36.9 375.7 35.2M374.6 46.6C370.7 47.9 385.1 41.6 379.8 43.6M374.6 46.6C375.6 46.3 377.0 38.7 381.5 43.4M376.9 53.4C375.3 49.8 372.2 47.6 375.2 48.7M376.9 53.4C376.7 49.1 369.3 44.3 372.0 50.0M373.9 57.7C370.5 62.2 376.8 57.6 374.1 52.2M376.8 65.8C380.0 68.4 373.2 72.4 375.8 73.6M376.8 65.8C376.6 71.7 376.1 64.0 377.1 59.7M378.1 68.6C376.5 72.2 378.0 70.7 377.4 73.9M378.1 68.6C378.7 72.3 377.4 59.6 378.4 60.6M381.1 40.8C381.1 38.0 380.1 39.8 384.4 43.9M381.1 40.8C376.5 45.0 369.6 41.0 374.7 44.0M383.0 45.6C378.2 51.4 392.9 36.7 390.3 42.6M383.5 51.2C387.4 46.6 382.8 44.0 388.2 45.6M383.5 51.2C388.7 56.2 384.9 46.3 382.5 46.5M382.5 57.6C378.4 64.1 384.2 62.3 384.0 64.8M380.7 63.7C384.7 57.7 385.3 68.0 383.1 70.3M380.7 63.7C378.6 66.9 375.8 62.8 378.9 68.4M382.8 69.5C382.3 75.0 390.3 60.4 385.9 62.4M382.8 69.5C378.0 73.1 392.8 70.0 390.5 68.6M389.5 39.8C382.9 34.8 395.2 43.8 393.4 41.8M388.1 45.3C391.6 41.8 396.9 46.2 392.7 46.8M390.3 51.9C391.7 51.1 384.5 53.4 388.3 56.2M389.4 59.1C393.0 62.2 397.7 63.9 393.9 63.0M389.4 59.1C390.3 54.7 387.9 59.6 388.6 54.2M389.8 63.8C384.3 67.4 384.9 66.3 384.6 63.0M388.4 71.2C392.3 77.4 385.6 60.2 390.8 64.9M394.8 42.2C396.7 44.9 402.9 43.8 401.3 41.6M396.1 44.8C395.6 49.9 386.7 48.1 392.4 48.9M396.1 44.8C398.8 46.3 392.8 47.8 393.0 51.6M395.6 53.0C392.1 58.0 393.4 43.7 395.6 45.2M395.6 53.0C395.1 46.8 386.3 51.7 387.9 50.9M396.0 57.7C389.8 59.6 408.8 55.1 403.2 58.1M396.3 63.2C391.8 61.9 395.8 74.8 394.4 69.4M396.3 63.2C401.6 60.6 395.7 59.4 392.3 58.8M396.6 69.8C396.5 76.3 400.0 64.2 399.1 62.6M403.2 38.9C405.8 40.8 410.7 49.7 405.4 44.1M403.9 47.8C399.8 52.5 403.7 50.4 398.7 45.5M403.8 50.7C406.1 49.3 410.3 51.7 407.5 54.9M403.8 50.7C401.7 47.2 412.3 44.7 411.0 49.6M403.7 59.0C398.6 53.2 402.0 59.3 399.0 65.1M402.6 66.1C395.6 63.2 407.9 56.6 407.5 59.8M405.0 72.4C403.5 73.3 406.6 75.8 409.1 76.3M405.0 72.4C399.3 72.9 402.6 67.9 408.4 69.5" stroke="#8e8e88" stroke-width="0.7" fill="none" opacity="0.65"/>
<g fill="#b4b09c"><ellipse cx="371.0" cy="52.7" rx="1.4" ry="0.9" transform="rotate(348 371.0 52.7)"/><ellipse cx="368.4" cy="53.2" rx="1.4" ry="0.9" transform="rotate(528 368.4 53.2)"/><ellipse cx="368.6" cy="70.0" rx="1.4" ry="0.9" transform="rotate(278 368.6 70.0)"/><ellipse cx="368.2" cy="72.6" rx="1.4" ry="0.9" transform="rotate(458 368.2 72.6)"/><ellipse cx="376.2" cy="54.6" rx="1.4" ry="0.9" transform="rotate(118 376.2 54.6)"/><ellipse cx="377.5" cy="52.3" rx="1.4" ry="0.9" transform="rotate(298 377.5 52.3)"/><ellipse cx="389.4" cy="45.3" rx="1.4" ry="0.9" transform="rotate(358 389.4 45.3)"/><ellipse cx="386.8" cy="45.4" rx="1.4" ry="0.9" transform="rotate(538 386.8 45.4)"/><ellipse cx="393.7" cy="42.9" rx="1.4" ry="0.9" transform="rotate(147 393.7 42.9)"/><ellipse cx="395.9" cy="41.5" rx="1.4" ry="0.9" transform="rotate(327 395.9 41.5)"/><ellipse cx="404.5" cy="38.6" rx="1.4" ry="0.9" transform="rotate(346 404.5 38.6)"/><ellipse cx="401.9" cy="39.2" rx="1.4" ry="0.9" transform="rotate(526 401.9 39.2)"/></g>
<g fill="#9ab848"><ellipse cx="369.8" cy="40.7" rx="1.8" ry="1.2" transform="rotate(82 369.8 40.7)"/><ellipse cx="366.4" cy="44.2" rx="1.6" ry="1.4" transform="rotate(196 366.4 44.2)"/><ellipse cx="368.4" cy="46.9" rx="2.1" ry="1.4" transform="rotate(439 368.4 46.9)"/><ellipse cx="380.0" cy="41.9" rx="1.6" ry="1.2" transform="rotate(493 380.0 41.9)"/><ellipse cx="380.6" cy="39.2" rx="2.0" ry="1.3" transform="rotate(613 380.6 39.2)"/><ellipse cx="380.7" cy="57.2" rx="2.1" ry="1.3" transform="rotate(554 380.7 57.2)"/><ellipse cx="382.0" cy="64.2" rx="2.1" ry="1.3" transform="rotate(22 382.0 64.2)"/><ellipse cx="390.9" cy="53.5" rx="2.1" ry="1.4" transform="rotate(429 390.9 53.5)"/><ellipse cx="388.1" cy="58.3" rx="1.5" ry="1.3" transform="rotate(211 388.1 58.3)"/><ellipse cx="389.3" cy="62.3" rx="1.6" ry="1.1" transform="rotate(609 389.3 62.3)"/><ellipse cx="390.1" cy="69.8" rx="2.0" ry="1.6" transform="rotate(319 390.1 69.8)"/><ellipse cx="395.0" cy="43.4" rx="1.8" ry="1.2" transform="rotate(232 395.0 43.4)"/><ellipse cx="394.5" cy="59.5" rx="1.8" ry="1.3" transform="rotate(131 394.5 59.5)"/><ellipse cx="396.9" cy="60.9" rx="2.1" ry="1.4" transform="rotate(285 396.9 60.9)"/><ellipse cx="398.1" cy="68.7" rx="2.0" ry="1.2" transform="rotate(324 398.1 68.7)"/><ellipse cx="403.3" cy="49.2" rx="1.5" ry="1.5" transform="rotate(251 403.3 49.2)"/><ellipse cx="403.2" cy="52.6" rx="2.0" ry="1.2" transform="rotate(467 403.2 52.6)"/><ellipse cx="406.0" cy="70.4" rx="1.7" ry="1.4" transform="rotate(294 406.0 70.4)"/></g>
<g fill="#4a8220"><ellipse cx="368.1" cy="39.8" rx="2.0" ry="1.4" transform="rotate(155 368.1 39.8)"/><ellipse cx="369.7" cy="43.1" rx="1.5" ry="1.3" transform="rotate(316 369.7 43.1)"/><ellipse cx="376.0" cy="46.4" rx="1.6" ry="1.4" transform="rotate(353 376.0 46.4)"/><ellipse cx="372.9" cy="55.7" rx="1.8" ry="1.3" transform="rotate(244 372.9 55.7)"/><ellipse cx="374.5" cy="58.9" rx="1.7" ry="1.3" transform="rotate(422 374.5 58.9)"/><ellipse cx="372.8" cy="59.0" rx="2.1" ry="1.2" transform="rotate(491 372.8 59.0)"/><ellipse cx="375.8" cy="66.8" rx="1.9" ry="1.3" transform="rotate(494 375.8 66.8)"/><ellipse cx="384.8" cy="50.3" rx="1.5" ry="1.5" transform="rotate(325 384.8 50.3)"/><ellipse cx="383.6" cy="55.9" rx="2.2" ry="1.4" transform="rotate(302 383.6 55.9)"/><ellipse cx="379.1" cy="65.0" rx="1.9" ry="1.2" transform="rotate(140 379.1 65.0)"/><ellipse cx="378.9" cy="62.5" rx="1.8" ry="1.2" transform="rotate(211 378.9 62.5)"/><ellipse cx="381.2" cy="62.2" rx="1.9" ry="1.2" transform="rotate(287 381.2 62.2)"/><ellipse cx="397.6" cy="53.5" rx="1.6" ry="1.1" transform="rotate(372 397.6 53.5)"/><ellipse cx="395.1" cy="62.3" rx="1.8" ry="1.1" transform="rotate(215 395.1 62.3)"/><ellipse cx="396.6" cy="71.3" rx="1.8" ry="1.1" transform="rotate(449 396.6 71.3)"/><ellipse cx="395.0" cy="69.3" rx="1.6" ry="1.3" transform="rotate(557 395.0 69.3)"/><ellipse cx="404.6" cy="45.7" rx="2.0" ry="1.1" transform="rotate(287 404.6 45.7)"/><ellipse cx="403.5" cy="72.4" rx="2.0" ry="1.2" transform="rotate(183 403.5 72.4)"/></g>
<g fill="#6a9e2c"><ellipse cx="368.5" cy="37.2" rx="1.8" ry="1.3" transform="rotate(241 368.5 37.2)"/><ellipse cx="368.2" cy="55.9" rx="1.7" ry="1.2" transform="rotate(309 368.2 55.9)"/><ellipse cx="374.4" cy="48.0" rx="1.7" ry="1.5" transform="rotate(457 374.4 48.0)"/><ellipse cx="375.6" cy="64.1" rx="1.8" ry="1.3" transform="rotate(234 375.6 64.1)"/><ellipse cx="377.7" cy="66.7" rx="1.9" ry="1.4" transform="rotate(256 377.7 66.7)"/><ellipse cx="382.2" cy="47.6" rx="1.6" ry="1.2" transform="rotate(471 382.2 47.6)"/><ellipse cx="382.7" cy="59.6" rx="1.9" ry="1.5" transform="rotate(446 382.7 59.6)"/><ellipse cx="384.5" cy="70.7" rx="2.2" ry="1.5" transform="rotate(34 384.5 70.7)"/><ellipse cx="390.8" cy="57.4" rx="1.6" ry="1.3" transform="rotate(309 390.8 57.4)"/><ellipse cx="391.9" cy="64.6" rx="1.7" ry="1.4" transform="rotate(380 391.9 64.6)"/><ellipse cx="389.5" cy="66.0" rx="2.1" ry="1.3" transform="rotate(457 389.5 66.0)"/><ellipse cx="398.4" cy="64.2" rx="1.5" ry="1.2" transform="rotate(386 398.4 64.2)"/><ellipse cx="405.3" cy="58.9" rx="2.1" ry="1.3" transform="rotate(356 405.3 58.9)"/><ellipse cx="403.9" cy="66.3" rx="2.0" ry="1.3" transform="rotate(368 403.9 66.3)"/></g>
<g fill="#86b43c"><ellipse cx="371.2" cy="38.4" rx="1.8" ry="1.5" transform="rotate(335 371.2 38.4)"/><ellipse cx="366.5" cy="55.9" rx="1.8" ry="1.4" transform="rotate(230 366.5 55.9)"/><ellipse cx="371.0" cy="63.0" rx="2.0" ry="1.5" transform="rotate(303 371.0 63.0)"/><ellipse cx="374.8" cy="43.7" rx="2.2" ry="1.2" transform="rotate(132 374.8 43.7)"/><ellipse cx="374.1" cy="42.4" rx="2.1" ry="1.1" transform="rotate(189 374.1 42.4)"/><ellipse cx="382.5" cy="40.0" rx="1.6" ry="1.5" transform="rotate(333 382.5 40.0)"/><ellipse cx="381.5" cy="44.7" rx="1.9" ry="1.4" transform="rotate(570 381.5 44.7)"/><ellipse cx="384.5" cy="53.1" rx="2.0" ry="1.3" transform="rotate(61 384.5 53.1)"/><ellipse cx="382.3" cy="51.9" rx="1.8" ry="1.5" transform="rotate(149 382.3 51.9)"/><ellipse cx="388.1" cy="51.5" rx="1.6" ry="1.4" transform="rotate(550 388.1 51.5)"/><ellipse cx="393.9" cy="54.1" rx="1.8" ry="1.3" transform="rotate(146 393.9 54.1)"/><ellipse cx="405.9" cy="48.5" rx="2.2" ry="1.6" transform="rotate(19 405.9 48.5)"/><ellipse cx="401.5" cy="51.1" rx="1.6" ry="1.4" transform="rotate(529 401.5 51.1)"/><ellipse cx="402.5" cy="57.4" rx="2.2" ry="1.1" transform="rotate(233 402.5 57.4)"/><ellipse cx="402.5" cy="60.1" rx="1.9" ry="1.3" transform="rotate(494 402.5 60.1)"/><ellipse cx="405.9" cy="74.5" rx="2.0" ry="1.4" transform="rotate(67 405.9 74.5)"/></g>
<g fill="#5a9226"><ellipse cx="368.3" cy="58.2" rx="1.8" ry="1.4" transform="rotate(52 368.3 58.2)"/><ellipse cx="365.7" cy="58.6" rx="1.6" ry="1.4" transform="rotate(136 365.7 58.6)"/><ellipse cx="367.9" cy="65.0" rx="1.7" ry="1.3" transform="rotate(172 367.9 65.0)"/><ellipse cx="370.7" cy="66.6" rx="1.6" ry="1.4" transform="rotate(426 370.7 66.6)"/><ellipse cx="376.3" cy="41.2" rx="1.6" ry="1.6" transform="rotate(289 376.3 41.2)"/><ellipse cx="377.3" cy="44.1" rx="1.8" ry="1.1" transform="rotate(404 377.3 44.1)"/><ellipse cx="373.4" cy="45.1" rx="2.1" ry="1.5" transform="rotate(592 373.4 45.1)"/><ellipse cx="376.9" cy="69.3" rx="1.7" ry="1.5" transform="rotate(150 376.9 69.3)"/><ellipse cx="383.9" cy="44.4" rx="1.8" ry="1.6" transform="rotate(309 383.9 44.4)"/><ellipse cx="382.9" cy="70.9" rx="1.8" ry="1.4" transform="rotate(84 382.9 70.9)"/><ellipse cx="391.0" cy="40.0" rx="2.0" ry="1.1" transform="rotate(371 391.0 40.0)"/><ellipse cx="390.7" cy="50.6" rx="2.2" ry="1.5" transform="rotate(287 390.7 50.6)"/><ellipse cx="396.8" cy="56.5" rx="1.9" ry="1.3" transform="rotate(301 396.8 56.5)"/><ellipse cx="405.7" cy="50.9" rx="2.0" ry="1.4" transform="rotate(365 405.7 50.9)"/></g>
<g fill="#78aa34"><ellipse cx="374.5" cy="56.5" rx="2.1" ry="1.1" transform="rotate(297 374.5 56.5)"/><ellipse cx="378.5" cy="66.0" rx="1.7" ry="1.2" transform="rotate(367 378.5 66.0)"/><ellipse cx="384.4" cy="45.9" rx="2.1" ry="1.5" transform="rotate(373 384.4 45.9)"/><ellipse cx="382.0" cy="49.9" rx="1.5" ry="1.1" transform="rotate(221 382.0 49.9)"/><ellipse cx="382.6" cy="67.8" rx="1.6" ry="1.5" transform="rotate(265 382.6 67.8)"/><ellipse cx="388.3" cy="38.2" rx="2.0" ry="1.2" transform="rotate(232 388.3 38.2)"/><ellipse cx="390.0" cy="60.6" rx="1.7" ry="1.3" transform="rotate(426 390.0 60.6)"/><ellipse cx="387.6" cy="70.3" rx="1.6" ry="1.6" transform="rotate(228 387.6 70.3)"/><ellipse cx="389.2" cy="72.9" rx="2.2" ry="1.3" transform="rotate(426 389.2 72.9)"/><ellipse cx="402.7" cy="48.9" rx="1.8" ry="1.5" transform="rotate(139 402.7 48.9)"/></g>
<g fill="#3e7018"><ellipse cx="379.6" cy="69.2" rx="2.0" ry="1.1" transform="rotate(383 379.6 69.2)"/><ellipse cx="381.6" cy="68.9" rx="1.6" ry="1.2" transform="rotate(210 381.6 68.9)"/><ellipse cx="387.8" cy="41.0" rx="2.0" ry="1.2" transform="rotate(502 387.8 41.0)"/><ellipse cx="395.0" cy="46.9" rx="2.1" ry="1.5" transform="rotate(115 395.0 46.9)"/><ellipse cx="398.3" cy="45.1" rx="1.5" ry="1.1" transform="rotate(368 398.3 45.1)"/><ellipse cx="395.7" cy="50.9" rx="2.0" ry="1.4" transform="rotate(272 395.7 50.9)"/><ellipse cx="397.4" cy="58.2" rx="2.0" ry="1.3" transform="rotate(19 397.4 58.2)"/><ellipse cx="394.9" cy="56.8" rx="1.5" ry="1.2" transform="rotate(218 394.9 56.8)"/><ellipse cx="395.1" cy="64.6" rx="1.9" ry="1.6" transform="rotate(130 395.1 64.6)"/><ellipse cx="401.1" cy="66.9" rx="2.1" ry="1.1" transform="rotate(149 401.1 66.9)"/><ellipse cx="402.3" cy="63.8" rx="1.8" ry="1.5" transform="rotate(264 402.3 63.8)"/></g>
<path d="M318.1 91.2C316.5 92.8 317.4 79.4 316.6 84.9M318.6 95.2C322.0 94.2 315.1 94.5 316.3 89.6M320.5 102.9C322.2 103.3 320.0 98.7 314.3 98.3M320.5 102.9C326.7 98.3 309.1 111.8 314.3 107.5M319.5 110.7C322.0 104.0 312.8 107.4 316.6 104.0M318.5 114.5C313.7 117.2 317.7 113.8 321.7 117.6M320.1 121.4C326.4 115.3 328.4 121.7 325.3 118.7M326.1 90.9C331.8 96.2 323.5 97.3 321.1 91.8M325.5 99.0C320.0 101.7 318.7 99.4 320.7 99.5M324.8 104.3C321.3 99.9 328.3 107.8 331.0 102.3M324.8 104.3C320.5 98.9 318.3 99.0 321.8 97.3M326.0 109.7C326.1 115.9 330.4 109.9 333.5 110.8M326.0 109.7C332.5 108.7 330.5 102.2 327.6 102.2M324.3 116.1C330.3 114.5 321.3 103.1 322.3 108.7M324.3 116.1C323.9 119.8 334.1 120.4 328.3 115.3M327.6 122.2C331.5 128.0 322.0 116.3 323.5 121.9M327.6 122.2C334.4 127.3 336.6 133.2 333.2 127.5M333.9 90.3C329.4 88.0 327.8 83.9 332.7 83.6M333.9 90.3C327.9 93.8 331.4 85.6 329.2 90.9M332.8 96.1C329.2 98.1 337.4 88.0 335.8 90.4M332.8 96.1C327.7 98.4 329.0 92.3 327.6 97.2M331.2 104.6C330.5 105.8 331.0 99.2 326.7 103.3M334.3 107.9C338.3 105.0 339.2 97.9 339.3 103.7M332.4 117.4C325.5 122.6 329.0 123.1 332.4 122.1M332.4 117.4C338.6 119.6 321.9 115.5 325.9 116.3M333.5 121.3C337.5 125.6 340.8 125.6 336.5 128.5M337.6 91.0C336.6 92.4 328.9 96.9 332.3 93.0M337.6 91.0C337.9 87.5 341.1 91.0 344.1 93.8M340.7 96.1C335.0 102.4 344.2 96.4 345.6 93.6M340.7 96.1C341.4 92.4 343.8 104.0 345.3 99.3M337.5 104.4C342.0 98.1 340.2 101.3 342.1 107.1M336.8 108.0C333.2 109.2 334.4 99.5 330.2 105.4M339.2 114.7C336.5 112.0 342.0 118.1 345.9 115.2M339.2 114.7C346.2 120.7 338.4 114.9 342.5 118.5M339.4 120.4C345.5 122.0 339.0 111.4 341.1 113.7M339.4 120.4C333.4 123.2 342.2 119.1 337.3 116.8M345.8 90.3C344.9 85.3 345.4 90.5 350.2 89.6M345.8 90.3C347.0 91.1 347.5 88.7 347.5 94.4M345.5 96.6C347.4 97.8 340.3 89.1 340.1 92.1M344.3 105.4C348.8 105.3 334.6 104.2 337.0 106.2M344.6 109.6C342.9 111.2 341.2 103.7 345.0 103.9M344.6 109.6C347.2 103.9 339.9 114.2 342.3 113.0M347.1 116.4C350.5 116.1 346.5 108.5 345.6 112.5M347.1 116.4C343.9 122.9 349.7 115.4 353.7 117.3M344.4 122.7C347.1 117.5 335.9 132.9 339.1 126.9M344.4 122.7C347.0 123.3 344.0 122.7 347.8 117.2M350.9 89.4C344.4 86.2 358.0 86.4 358.6 90.3M353.8 98.2C352.1 99.7 357.9 87.5 358.7 93.0M351.8 101.2C358.5 104.0 353.0 102.5 357.4 100.1M351.8 101.2C357.5 95.3 352.8 102.5 357.6 104.6M353.0 111.0C353.5 114.6 353.0 107.7 350.0 105.7M353.0 111.0C350.7 109.6 353.6 109.8 356.5 107.2M351.0 115.5C348.7 120.7 348.9 116.7 346.8 117.2M351.2 122.3C350.1 115.7 346.6 117.0 349.4 117.6" stroke="#8e8e88" stroke-width="0.7" fill="none" opacity="0.65"/>
<g fill="#b4b09c"><ellipse cx="321.3" cy="121.6" rx="1.4" ry="0.9" transform="rotate(11 321.3 121.6)"/><ellipse cx="318.8" cy="121.1" rx="1.4" ry="0.9" transform="rotate(191 318.8 121.1)"/><ellipse cx="333.3" cy="89.1" rx="1.4" ry="0.9" transform="rotate(244 333.3 89.1)"/><ellipse cx="334.4" cy="91.5" rx="1.4" ry="0.9" transform="rotate(424 334.4 91.5)"/></g>
<g fill="#5a9226"><ellipse cx="317.9" cy="89.7" rx="1.6" ry="1.1" transform="rotate(259 317.9 89.7)"/><ellipse cx="320.2" cy="95.6" rx="1.9" ry="1.3" transform="rotate(13 320.2 95.6)"/><ellipse cx="320.0" cy="100.6" rx="1.6" ry="1.3" transform="rotate(257 320.0 100.6)"/><ellipse cx="320.7" cy="104.2" rx="1.8" ry="1.2" transform="rotate(442 320.7 104.2)"/><ellipse cx="318.4" cy="109.9" rx="2.1" ry="1.5" transform="rotate(218 318.4 109.9)"/><ellipse cx="327.3" cy="91.6" rx="2.1" ry="1.3" transform="rotate(388 327.3 91.6)"/><ellipse cx="324.2" cy="97.7" rx="1.5" ry="1.3" transform="rotate(226 324.2 97.7)"/><ellipse cx="326.1" cy="111.1" rx="1.6" ry="1.3" transform="rotate(447 326.1 111.1)"/><ellipse cx="325.4" cy="114.8" rx="2.0" ry="1.2" transform="rotate(310 325.4 114.8)"/><ellipse cx="322.2" cy="115.7" rx="1.7" ry="1.4" transform="rotate(550 322.2 115.7)"/><ellipse cx="328.9" cy="123.6" rx="1.6" ry="1.4" transform="rotate(408 328.9 123.6)"/><ellipse cx="331.3" cy="106.4" rx="1.6" ry="1.6" transform="rotate(447 331.3 106.4)"/><ellipse cx="331.8" cy="119.4" rx="1.7" ry="1.3" transform="rotate(467 331.8 119.4)"/><ellipse cx="341.6" cy="94.5" rx="2.1" ry="1.5" transform="rotate(300 341.6 94.5)"/><ellipse cx="354.0" cy="96.8" rx="1.6" ry="1.4" transform="rotate(278 354.0 96.8)"/><ellipse cx="353.0" cy="109.1" rx="2.0" ry="1.3" transform="rotate(270 353.0 109.1)"/></g>
<g fill="#3e7018"><ellipse cx="320.1" cy="91.5" rx="2.1" ry="1.5" transform="rotate(370 320.1 91.5)"/><ellipse cx="326.2" cy="105.0" rx="2.0" ry="1.5" transform="rotate(384 326.2 105.0)"/><ellipse cx="325.4" cy="122.5" rx="2.1" ry="1.2" transform="rotate(172 325.4 122.5)"/><ellipse cx="331.4" cy="94.4" rx="1.7" ry="1.5" transform="rotate(231 331.4 94.4)"/><ellipse cx="333.8" cy="95.0" rx="2.0" ry="1.4" transform="rotate(312 333.8 95.0)"/><ellipse cx="330.2" cy="103.5" rx="1.8" ry="1.5" transform="rotate(588 330.2 103.5)"/><ellipse cx="339.7" cy="94.2" rx="1.7" ry="1.3" transform="rotate(603 339.7 94.2)"/><ellipse cx="335.9" cy="104.7" rx="1.7" ry="1.5" transform="rotate(527 335.9 104.7)"/><ellipse cx="338.4" cy="113.0" rx="2.2" ry="1.3" transform="rotate(245 338.4 113.0)"/><ellipse cx="341.3" cy="115.2" rx="2.0" ry="1.4" transform="rotate(373 341.3 115.2)"/><ellipse cx="342.7" cy="105.0" rx="1.9" ry="1.3" transform="rotate(558 342.7 105.0)"/><ellipse cx="344.9" cy="124.7" rx="1.9" ry="1.2" transform="rotate(435 344.9 124.7)"/><ellipse cx="342.7" cy="122.1" rx="1.6" ry="1.2" transform="rotate(559 342.7 122.1)"/><ellipse cx="349.5" cy="89.5" rx="2.2" ry="1.2" transform="rotate(174 349.5 89.5)"/><ellipse cx="350.5" cy="87.2" rx="1.8" ry="1.2" transform="rotate(260 350.5 87.2)"/><ellipse cx="351.5" cy="98.5" rx="1.8" ry="1.5" transform="rotate(172 351.5 98.5)"/><ellipse cx="350.3" cy="120.6" rx="1.8" ry="1.2" transform="rotate(603 350.3 120.6)"/></g>
<g fill="#78aa34"><ellipse cx="316.6" cy="92.2" rx="1.9" ry="1.4" transform="rotate(505 316.6 92.2)"/><ellipse cx="322.0" cy="102.8" rx="1.6" ry="1.4" transform="rotate(358 322.0 102.8)"/><ellipse cx="319.2" cy="103.5" rx="1.7" ry="1.2" transform="rotate(513 319.2 103.5)"/><ellipse cx="327.6" cy="120.7" rx="2.0" ry="1.3" transform="rotate(272 327.6 120.7)"/><ellipse cx="333.0" cy="104.5" rx="2.0" ry="1.1" transform="rotate(356 333.0 104.5)"/><ellipse cx="335.1" cy="120.4" rx="1.9" ry="1.4" transform="rotate(331 335.1 120.4)"/><ellipse cx="339.2" cy="91.1" rx="1.8" ry="1.4" transform="rotate(365 339.2 91.1)"/><ellipse cx="336.7" cy="106.6" rx="2.2" ry="1.4" transform="rotate(265 336.7 106.6)"/><ellipse cx="336.0" cy="109.7" rx="2.1" ry="1.3" transform="rotate(475 336.0 109.7)"/><ellipse cx="343.7" cy="96.0" rx="1.9" ry="1.4" transform="rotate(558 343.7 96.0)"/><ellipse cx="346.1" cy="117.4" rx="2.1" ry="1.6" transform="rotate(495 346.1 117.4)"/><ellipse cx="346.5" cy="114.7" rx="2.0" ry="1.5" transform="rotate(610 346.5 114.7)"/><ellipse cx="351.8" cy="99.2" rx="1.6" ry="1.5" transform="rotate(270 351.8 99.2)"/><ellipse cx="351.7" cy="102.8" rx="1.6" ry="1.4" transform="rotate(450 351.7 102.8)"/></g>
<g fill="#9ab848"><ellipse cx="316.5" cy="96.2" rx="1.7" ry="1.5" transform="rotate(153 316.5 96.2)"/><ellipse cx="318.7" cy="93.3" rx="1.9" ry="1.5" transform="rotate(272 318.7 93.3)"/><ellipse cx="317.1" cy="116.0" rx="1.6" ry="1.1" transform="rotate(494 317.1 116.0)"/><ellipse cx="326.7" cy="89.6" rx="2.0" ry="1.2" transform="rotate(293 326.7 89.6)"/><ellipse cx="324.4" cy="91.2" rx="1.7" ry="1.3" transform="rotate(531 324.4 91.2)"/><ellipse cx="326.0" cy="100.8" rx="2.0" ry="1.1" transform="rotate(434 326.0 100.8)"/><ellipse cx="322.7" cy="104.3" rx="1.7" ry="1.6" transform="rotate(181 322.7 104.3)"/><ellipse cx="324.5" cy="102.8" rx="1.8" ry="1.6" transform="rotate(261 324.5 102.8)"/><ellipse cx="324.8" cy="108.6" rx="2.1" ry="1.4" transform="rotate(582 324.8 108.6)"/><ellipse cx="331.3" cy="97.7" rx="1.5" ry="1.4" transform="rotate(494 331.3 97.7)"/><ellipse cx="332.3" cy="108.2" rx="1.5" ry="1.5" transform="rotate(170 332.3 108.2)"/><ellipse cx="333.7" cy="116.5" rx="2.1" ry="1.6" transform="rotate(323 333.7 116.5)"/><ellipse cx="332.9" cy="119.1" rx="1.6" ry="1.3" transform="rotate(255 332.9 119.1)"/><ellipse cx="338.7" cy="107.7" rx="2.2" ry="1.3" transform="rotate(350 338.7 107.7)"/><ellipse cx="338.0" cy="121.5" rx="1.5" ry="1.1" transform="rotate(140 338.0 121.5)"/><ellipse cx="347.5" cy="90.5" rx="2.0" ry="1.5" transform="rotate(4 347.5 90.5)"/><ellipse cx="346.3" cy="88.8" rx="2.0" ry="1.2" transform="rotate(285 346.3 88.8)"/><ellipse cx="343.8" cy="111.3" rx="2.2" ry="1.5" transform="rotate(476 343.8 111.3)"/><ellipse cx="343.0" cy="108.8" rx="1.8" ry="1.2" transform="rotate(566 343.0 108.8)"/><ellipse cx="355.1" cy="98.5" rx="1.7" ry="1.1" transform="rotate(12 355.1 98.5)"/><ellipse cx="353.4" cy="99.9" rx="2.1" ry="1.4" transform="rotate(100 353.4 99.9)"/><ellipse cx="351.7" cy="112.3" rx="1.5" ry="1.6" transform="rotate(135 351.7 112.3)"/><ellipse cx="351.1" cy="117.4" rx="2.0" ry="1.3" transform="rotate(87 351.1 117.4)"/></g>
<g fill="#86b43c"><ellipse cx="321.6" cy="110.7" rx="1.8" ry="1.1" transform="rotate(359 321.6 110.7)"/><ellipse cx="319.2" cy="112.2" rx="1.8" ry="1.6" transform="rotate(461 319.2 112.2)"/><ellipse cx="318.3" cy="113.1" rx="1.9" ry="1.3" transform="rotate(260 318.3 113.1)"/><ellipse cx="323.9" cy="117.8" rx="1.7" ry="1.5" transform="rotate(462 323.9 117.8)"/><ellipse cx="333.9" cy="97.0" rx="1.8" ry="1.3" transform="rotate(397 333.9 97.0)"/><ellipse cx="333.6" cy="106.0" rx="2.2" ry="1.3" transform="rotate(250 333.6 106.0)"/><ellipse cx="335.9" cy="107.2" rx="2.1" ry="1.4" transform="rotate(336 335.9 107.2)"/><ellipse cx="334.4" cy="118.1" rx="1.6" ry="1.5" transform="rotate(379 334.4 118.1)"/><ellipse cx="334.2" cy="123.6" rx="2.1" ry="1.3" transform="rotate(74 334.2 123.6)"/><ellipse cx="335.9" cy="90.4" rx="2.1" ry="1.6" transform="rotate(558 335.9 90.4)"/><ellipse cx="339.1" cy="97.2" rx="2.1" ry="1.3" transform="rotate(504 339.1 97.2)"/><ellipse cx="341.0" cy="120.1" rx="2.0" ry="1.5" transform="rotate(-9 341.0 120.1)"/><ellipse cx="338.5" cy="118.8" rx="2.2" ry="1.6" transform="rotate(239 338.5 118.8)"/><ellipse cx="345.0" cy="91.5" rx="2.1" ry="1.3" transform="rotate(125 345.0 91.5)"/><ellipse cx="346.4" cy="108.3" rx="2.0" ry="1.1" transform="rotate(322 346.4 108.3)"/><ellipse cx="354.4" cy="111.6" rx="2.0" ry="1.2" transform="rotate(384 354.4 111.6)"/><ellipse cx="353.3" cy="115.8" rx="1.8" ry="1.3" transform="rotate(367 353.3 115.8)"/></g>
<g fill="#6a9e2c"><ellipse cx="320.8" cy="115.2" rx="1.9" ry="1.3" transform="rotate(378 320.8 115.2)"/><ellipse cx="327.7" cy="98.9" rx="1.9" ry="1.6" transform="rotate(357 327.7 98.9)"/><ellipse cx="327.5" cy="109.0" rx="2.1" ry="1.3" transform="rotate(332 327.5 109.0)"/><ellipse cx="338.2" cy="89.4" rx="1.7" ry="1.2" transform="rotate(292 338.2 89.4)"/><ellipse cx="342.4" cy="97.1" rx="1.7" ry="1.3" transform="rotate(390 342.4 97.1)"/><ellipse cx="337.9" cy="102.3" rx="1.6" ry="1.6" transform="rotate(282 337.9 102.3)"/><ellipse cx="339.6" cy="104.8" rx="1.7" ry="1.4" transform="rotate(371 339.6 104.8)"/><ellipse cx="337.7" cy="116.2" rx="1.8" ry="1.5" transform="rotate(135 337.7 116.2)"/><ellipse cx="343.8" cy="89.7" rx="1.6" ry="1.3" transform="rotate(197 343.8 89.7)"/><ellipse cx="346.2" cy="98.8" rx="1.6" ry="1.6" transform="rotate(430 346.2 98.8)"/><ellipse cx="345.0" cy="103.5" rx="1.8" ry="1.1" transform="rotate(291 345.0 103.5)"/><ellipse cx="345.5" cy="121.9" rx="1.9" ry="1.3" transform="rotate(325 345.5 121.9)"/><ellipse cx="352.6" cy="90.4" rx="2.0" ry="1.3" transform="rotate(389 352.6 90.4)"/><ellipse cx="349.1" cy="115.5" rx="2.1" ry="1.1" transform="rotate(179 349.1 115.5)"/></g>
<g fill="#4a8220"><ellipse cx="324.4" cy="105.8" rx="1.5" ry="1.2" transform="rotate(104 324.4 105.8)"/><ellipse cx="329.3" cy="105.6" rx="1.7" ry="1.3" transform="rotate(513 329.3 105.6)"/><ellipse cx="334.4" cy="109.4" rx="2.0" ry="1.3" transform="rotate(85 334.4 109.4)"/><ellipse cx="330.1" cy="116.9" rx="1.7" ry="1.4" transform="rotate(553 330.1 116.9)"/><ellipse cx="331.4" cy="121.3" rx="1.9" ry="1.3" transform="rotate(178 331.4 121.3)"/><ellipse cx="337.0" cy="92.2" rx="2.0" ry="1.4" transform="rotate(473 337.0 92.2)"/><ellipse cx="346.1" cy="95.0" rx="1.9" ry="1.2" transform="rotate(290 346.1 95.0)"/><ellipse cx="345.0" cy="107.6" rx="2.0" ry="1.3" transform="rotate(431 345.0 107.6)"/><ellipse cx="349.1" cy="116.4" rx="1.8" ry="1.3" transform="rotate(359 349.1 116.4)"/><ellipse cx="350.3" cy="101.0" rx="1.6" ry="1.4" transform="rotate(186 350.3 101.0)"/><ellipse cx="354.0" cy="102.1" rx="1.8" ry="1.1" transform="rotate(381 354.0 102.1)"/><ellipse cx="351.3" cy="113.8" rx="1.8" ry="1.3" transform="rotate(279 351.3 113.8)"/><ellipse cx="353.3" cy="121.8" rx="1.9" ry="1.3" transform="rotate(345 353.3 121.8)"/><ellipse cx="349.9" cy="124.1" rx="2.0" ry="1.1" transform="rotate(485 349.9 124.1)"/></g>
<path d="M372.2 92.1C366.2 93.5 367.2 85.8 371.7 87.2M372.2 92.1C366.8 86.2 374.6 91.2 377.9 87.3M372.0 98.3C368.0 105.1 376.6 108.1 372.0 103.4M370.6 102.7C366.0 106.6 367.9 107.8 370.0 110.3M370.6 102.7C366.9 98.8 380.7 98.9 375.5 103.0M370.0 107.1C371.7 105.5 372.7 98.7 369.9 99.8M370.0 107.1C374.4 108.5 378.2 101.3 373.2 100.8M369.5 112.6C372.1 113.2 367.1 103.1 365.7 107.4M369.5 112.6C373.7 106.2 377.4 117.6 372.8 116.8M369.6 120.7C365.1 124.5 360.3 117.9 365.1 121.1M369.6 120.7C367.2 115.4 362.7 132.7 367.9 127.1M374.9 90.1C380.8 92.1 378.7 91.2 380.5 85.6M375.2 96.8C376.4 101.8 379.3 96.9 379.7 91.9M375.6 102.0C374.2 105.1 377.9 108.7 381.7 102.9M375.6 102.0C381.4 101.3 376.2 91.1 380.6 96.1M377.4 106.6C374.7 102.3 385.1 100.6 379.6 99.5M378.6 115.6C381.4 117.4 386.3 117.9 381.9 113.0M378.2 121.8C384.0 120.2 377.7 121.8 373.2 117.8M384.8 90.8C389.6 90.3 384.8 82.2 380.2 87.7M380.8 97.9C387.3 104.1 384.9 92.5 385.5 96.7M380.8 97.9C375.5 98.5 381.1 89.4 377.3 92.1M381.1 103.0C381.4 101.8 374.6 102.7 376.8 101.7M384.5 107.2C387.4 100.3 378.3 105.6 380.2 105.5M384.5 107.2C381.6 106.7 386.8 100.6 386.4 101.8M383.5 112.5C387.7 109.2 390.3 118.9 387.0 116.5M383.5 112.5C380.4 112.1 385.3 101.3 383.8 107.0M383.2 119.9C385.7 118.2 385.6 117.6 386.1 113.6M383.2 119.9C381.8 116.6 376.4 128.3 382.0 126.2M390.0 90.1C395.4 92.9 398.0 92.0 393.0 95.6M390.2 95.7C383.2 90.2 394.3 90.0 394.5 95.5M388.5 102.8C385.6 96.4 393.2 111.0 395.3 105.9M387.7 108.1C387.9 112.8 385.1 102.0 384.6 104.8M387.7 108.1C386.1 103.9 386.8 116.7 389.5 115.5M389.9 116.1C390.9 109.3 391.5 116.1 386.1 121.7M387.4 119.3C382.2 119.8 389.2 118.1 391.2 120.8M396.9 94.2C390.3 94.6 394.1 99.3 399.8 99.9M393.4 97.1C390.5 92.0 396.7 98.3 395.7 100.4M393.4 97.1C391.7 102.9 401.0 95.9 396.6 90.7M397.5 103.1C390.8 110.0 398.9 104.3 396.7 109.7M397.5 103.1C396.2 103.0 409.5 106.6 403.9 101.6M396.8 109.5C402.0 112.9 390.3 106.5 392.7 108.6M393.9 114.6C393.0 114.5 393.6 108.4 394.1 108.2M397.3 119.1C398.0 112.2 402.4 112.4 398.9 115.3M397.3 119.1C399.6 114.0 403.9 113.5 398.3 115.0M403.3 92.7C400.7 90.9 397.1 89.6 400.8 89.3M403.3 92.7C401.2 91.9 414.5 90.3 409.7 89.5M401.8 98.4C395.9 99.6 399.5 102.7 397.2 98.8M401.8 98.4C396.2 98.5 408.0 100.0 404.4 101.9M402.2 103.4C395.6 101.4 404.6 97.8 407.1 101.3M400.5 110.2C404.4 113.4 394.3 120.6 397.5 115.8M404.2 115.9C401.0 115.4 395.8 113.3 400.9 119.1M404.2 115.9C398.2 121.8 404.0 109.3 402.1 110.5M403.3 118.5C401.1 111.7 397.0 110.8 397.3 114.1" stroke="#8e8e88" stroke-width="0.7" fill="none" opacity="0.65"/>
<g fill="#b4b09c"><ellipse cx="389.4" cy="94.7" rx="1.4" ry="0.9" transform="rotate(235 389.4 94.7)"/><ellipse cx="390.9" cy="96.8" rx="1.4" ry="0.9" transform="rotate(415 390.9 96.8)"/><ellipse cx="390.7" cy="115.1" rx="1.4" ry="0.9" transform="rotate(310 390.7 115.1)"/><ellipse cx="389.0" cy="117.1" rx="1.4" ry="0.9" transform="rotate(490 389.0 117.1)"/><ellipse cx="387.8" cy="120.6" rx="1.4" ry="0.9" transform="rotate(69 387.8 120.6)"/><ellipse cx="386.9" cy="118.1" rx="1.4" ry="0.9" transform="rotate(249 386.9 118.1)"/><ellipse cx="394.4" cy="96.3" rx="1.4" ry="0.9" transform="rotate(322 394.4 96.3)"/><ellipse cx="392.4" cy="97.9" rx="1.4" ry="0.9" transform="rotate(502 392.4 97.9)"/></g>
<g fill="#6a9e2c"><ellipse cx="374.1" cy="91.9" rx="1.6" ry="1.3" transform="rotate(355 374.1 91.9)"/><ellipse cx="373.0" cy="96.4" rx="1.5" ry="1.3" transform="rotate(297 373.0 96.4)"/><ellipse cx="369.1" cy="102.6" rx="1.8" ry="1.5" transform="rotate(185 369.1 102.6)"/><ellipse cx="368.0" cy="107.0" rx="2.1" ry="1.5" transform="rotate(183 368.0 107.0)"/><ellipse cx="371.0" cy="112.0" rx="1.6" ry="1.2" transform="rotate(340 371.0 112.0)"/><ellipse cx="370.2" cy="114.5" rx="1.6" ry="1.3" transform="rotate(431 370.2 114.5)"/><ellipse cx="374.8" cy="94.9" rx="2.0" ry="1.4" transform="rotate(258 374.8 94.9)"/><ellipse cx="376.7" cy="96.8" rx="1.7" ry="1.2" transform="rotate(359 376.7 96.8)"/><ellipse cx="382.5" cy="102.1" rx="1.9" ry="1.3" transform="rotate(326 382.5 102.1)"/><ellipse cx="385.0" cy="108.5" rx="1.6" ry="1.4" transform="rotate(69 385.0 108.5)"/><ellipse cx="385.5" cy="112.8" rx="1.9" ry="1.3" transform="rotate(7 385.5 112.8)"/><ellipse cx="396.4" cy="111.3" rx="2.1" ry="1.5" transform="rotate(461 396.4 111.3)"/><ellipse cx="394.3" cy="113.0" rx="1.6" ry="1.1" transform="rotate(283 394.3 113.0)"/><ellipse cx="401.9" cy="92.3" rx="1.6" ry="1.3" transform="rotate(192 401.9 92.3)"/><ellipse cx="401.3" cy="118.5" rx="1.7" ry="1.4" transform="rotate(180 401.3 118.5)"/></g>
<g fill="#78aa34"><ellipse cx="371.2" cy="93.9" rx="1.7" ry="1.4" transform="rotate(476 371.2 93.9)"/><ellipse cx="369.7" cy="105.4" rx="2.1" ry="1.4" transform="rotate(261 369.7 105.4)"/><ellipse cx="375.7" cy="88.9" rx="1.7" ry="1.6" transform="rotate(302 375.7 88.9)"/><ellipse cx="379.6" cy="113.5" rx="1.6" ry="1.4" transform="rotate(295 379.6 113.5)"/><ellipse cx="378.5" cy="119.9" rx="1.6" ry="1.4" transform="rotate(279 378.5 119.9)"/><ellipse cx="384.9" cy="105.5" rx="1.5" ry="1.4" transform="rotate(283 384.9 105.5)"/><ellipse cx="386.0" cy="107.2" rx="1.9" ry="1.4" transform="rotate(569 386.0 107.2)"/><ellipse cx="395.1" cy="108.1" rx="1.7" ry="1.2" transform="rotate(218 395.1 108.1)"/><ellipse cx="399.5" cy="119.6" rx="2.2" ry="1.3" transform="rotate(13 399.5 119.6)"/><ellipse cx="398.7" cy="117.7" rx="2.1" ry="1.6" transform="rotate(313 398.7 117.7)"/><ellipse cx="403.2" cy="96.8" rx="1.9" ry="1.5" transform="rotate(311 403.2 96.8)"/><ellipse cx="404.2" cy="120.6" rx="2.0" ry="1.2" transform="rotate(427 404.2 120.6)"/></g>
<g fill="#4a8220"><ellipse cx="371.1" cy="90.4" rx="1.8" ry="1.4" transform="rotate(598 371.1 90.4)"/><ellipse cx="370.0" cy="98.1" rx="2.2" ry="1.4" transform="rotate(186 370.0 98.1)"/><ellipse cx="371.4" cy="119.7" rx="2.0" ry="1.3" transform="rotate(332 371.4 119.7)"/><ellipse cx="375.3" cy="100.1" rx="1.8" ry="1.4" transform="rotate(258 375.3 100.1)"/><ellipse cx="375.7" cy="105.5" rx="2.1" ry="1.5" transform="rotate(210 375.7 105.5)"/><ellipse cx="380.0" cy="117.0" rx="1.9" ry="1.6" transform="rotate(406 380.0 117.0)"/><ellipse cx="376.3" cy="122.8" rx="2.1" ry="1.4" transform="rotate(152 376.3 122.8)"/><ellipse cx="382.9" cy="90.2" rx="1.9" ry="1.4" transform="rotate(199 382.9 90.2)"/><ellipse cx="379.4" cy="96.4" rx="2.1" ry="1.3" transform="rotate(225 379.4 96.4)"/><ellipse cx="382.6" cy="104.3" rx="1.5" ry="1.6" transform="rotate(401 382.6 104.3)"/><ellipse cx="391.6" cy="90.3" rx="2.0" ry="1.4" transform="rotate(368 391.6 90.3)"/><ellipse cx="390.4" cy="102.7" rx="2.1" ry="1.1" transform="rotate(357 390.4 102.7)"/><ellipse cx="388.5" cy="110.2" rx="2.1" ry="1.3" transform="rotate(428 388.5 110.2)"/><ellipse cx="398.5" cy="95.0" rx="1.7" ry="1.2" transform="rotate(388 398.5 95.0)"/><ellipse cx="396.3" cy="121.2" rx="2.2" ry="1.4" transform="rotate(116 396.3 121.2)"/><ellipse cx="402.0" cy="109.7" rx="1.9" ry="1.1" transform="rotate(342 402.0 109.7)"/><ellipse cx="400.7" cy="111.6" rx="2.1" ry="1.5" transform="rotate(439 400.7 111.6)"/><ellipse cx="406.1" cy="117.0" rx="2.0" ry="1.2" transform="rotate(390 406.1 117.0)"/></g>
<g fill="#3e7018"><ellipse cx="373.3" cy="99.0" rx="1.7" ry="1.1" transform="rotate(30 373.3 99.0)"/><ellipse cx="369.9" cy="104.8" rx="1.6" ry="1.3" transform="rotate(108 369.9 104.8)"/><ellipse cx="372.2" cy="107.5" rx="1.5" ry="1.3" transform="rotate(369 372.2 107.5)"/><ellipse cx="376.3" cy="103.2" rx="1.8" ry="1.4" transform="rotate(59 376.3 103.2)"/><ellipse cx="376.9" cy="108.2" rx="2.0" ry="1.4" transform="rotate(108 376.9 108.2)"/><ellipse cx="378.9" cy="107.7" rx="1.6" ry="1.2" transform="rotate(398 378.9 107.7)"/><ellipse cx="380.5" cy="122.5" rx="2.0" ry="1.5" transform="rotate(377 380.5 122.5)"/><ellipse cx="383.8" cy="92.8" rx="1.7" ry="1.3" transform="rotate(475 383.8 92.8)"/><ellipse cx="380.3" cy="105.1" rx="1.9" ry="1.2" transform="rotate(110 380.3 105.1)"/><ellipse cx="389.0" cy="107.0" rx="1.7" ry="1.5" transform="rotate(320 389.0 107.0)"/><ellipse cx="398.1" cy="101.0" rx="2.0" ry="1.4" transform="rotate(285 398.1 101.0)"/><ellipse cx="392.0" cy="115.8" rx="1.6" ry="1.4" transform="rotate(147 392.0 115.8)"/><ellipse cx="395.8" cy="118.2" rx="1.9" ry="1.5" transform="rotate(209 395.8 118.2)"/><ellipse cx="399.8" cy="98.4" rx="2.1" ry="1.4" transform="rotate(181 399.8 98.4)"/><ellipse cx="400.8" cy="104.0" rx="2.1" ry="1.5" transform="rotate(156 400.8 104.0)"/><ellipse cx="404.9" cy="114.0" rx="1.9" ry="1.1" transform="rotate(289 404.9 114.0)"/></g>
<g fill="#9ab848"><ellipse cx="371.2" cy="99.4" rx="2.0" ry="1.5" transform="rotate(124 371.2 99.4)"/><ellipse cx="370.2" cy="100.8" rx="2.0" ry="1.4" transform="rotate(258 370.2 100.8)"/><ellipse cx="367.4" cy="113.0" rx="1.8" ry="1.5" transform="rotate(168 367.4 113.0)"/><ellipse cx="373.7" cy="102.5" rx="1.8" ry="1.6" transform="rotate(166 373.7 102.5)"/><ellipse cx="378.4" cy="105.4" rx="1.8" ry="1.3" transform="rotate(308 378.4 105.4)"/><ellipse cx="381.3" cy="95.7" rx="1.8" ry="1.4" transform="rotate(282 381.3 95.7)"/><ellipse cx="383.0" cy="107.3" rx="1.6" ry="1.4" transform="rotate(175 383.0 107.3)"/><ellipse cx="383.4" cy="118.2" rx="1.8" ry="1.6" transform="rotate(277 383.4 118.2)"/><ellipse cx="396.2" cy="92.6" rx="1.8" ry="1.5" transform="rotate(247 396.2 92.6)"/><ellipse cx="398.2" cy="108.9" rx="2.1" ry="1.4" transform="rotate(338 398.2 108.9)"/><ellipse cx="395.2" cy="115.6" rx="1.8" ry="1.5" transform="rotate(38 395.2 115.6)"/><ellipse cx="403.4" cy="104.2" rx="1.7" ry="1.3" transform="rotate(30 403.4 104.2)"/><ellipse cx="403.0" cy="101.9" rx="1.9" ry="1.2" transform="rotate(296 403.0 101.9)"/><ellipse cx="400.7" cy="108.2" rx="1.9" ry="1.6" transform="rotate(275 400.7 108.2)"/><ellipse cx="402.5" cy="115.2" rx="1.9" ry="1.4" transform="rotate(203 402.5 115.2)"/><ellipse cx="404.0" cy="116.6" rx="1.9" ry="1.3" transform="rotate(290 404.0 116.6)"/></g>
<g fill="#5a9226"><ellipse cx="372.0" cy="102.9" rx="2.0" ry="1.3" transform="rotate(8 372.0 102.9)"/><ellipse cx="370.4" cy="108.8" rx="1.9" ry="1.5" transform="rotate(435 370.4 108.8)"/><ellipse cx="373.0" cy="91.5" rx="1.8" ry="1.1" transform="rotate(145 373.0 91.5)"/><ellipse cx="377.1" cy="101.0" rx="2.1" ry="1.2" transform="rotate(324 377.1 101.0)"/><ellipse cx="386.5" cy="89.8" rx="2.1" ry="1.5" transform="rotate(329 386.5 89.8)"/><ellipse cx="380.0" cy="99.1" rx="2.1" ry="1.3" transform="rotate(486 380.0 99.1)"/><ellipse cx="379.7" cy="101.8" rx="2.2" ry="1.3" transform="rotate(219 379.7 101.8)"/><ellipse cx="383.4" cy="111.1" rx="1.9" ry="1.5" transform="rotate(265 383.4 111.1)"/><ellipse cx="381.4" cy="119.8" rx="1.7" ry="1.4" transform="rotate(184 381.4 119.8)"/><ellipse cx="389.0" cy="100.5" rx="1.6" ry="1.2" transform="rotate(282 389.0 100.5)"/><ellipse cx="386.5" cy="110.1" rx="1.9" ry="1.3" transform="rotate(480 386.5 110.1)"/><ellipse cx="395.6" cy="95.0" rx="1.9" ry="1.4" transform="rotate(507 395.6 95.0)"/><ellipse cx="403.8" cy="94.7" rx="2.1" ry="1.2" transform="rotate(76 403.8 94.7)"/><ellipse cx="401.5" cy="99.8" rx="1.8" ry="1.4" transform="rotate(99 401.5 99.8)"/></g>
<g fill="#86b43c"><ellipse cx="368.5" cy="111.1" rx="1.9" ry="1.3" transform="rotate(236 368.5 111.1)"/><ellipse cx="370.4" cy="122.8" rx="2.0" ry="1.1" transform="rotate(70 370.4 122.8)"/><ellipse cx="368.5" cy="121.6" rx="2.2" ry="1.2" transform="rotate(138 368.5 121.6)"/><ellipse cx="368.9" cy="119.2" rx="1.9" ry="1.5" transform="rotate(243 368.9 119.2)"/><ellipse cx="377.0" cy="91.2" rx="2.2" ry="1.4" transform="rotate(28 377.0 91.2)"/><ellipse cx="373.0" cy="89.0" rx="1.5" ry="1.4" transform="rotate(208 373.0 89.0)"/><ellipse cx="373.9" cy="97.6" rx="2.1" ry="1.4" transform="rotate(149 373.9 97.6)"/><ellipse cx="376.0" cy="98.6" rx="2.0" ry="1.4" transform="rotate(424 376.0 98.6)"/><ellipse cx="376.9" cy="115.4" rx="2.0" ry="1.4" transform="rotate(186 376.9 115.4)"/><ellipse cx="383.1" cy="98.1" rx="1.9" ry="1.6" transform="rotate(365 383.1 98.1)"/><ellipse cx="383.0" cy="114.7" rx="2.1" ry="1.4" transform="rotate(103 383.0 114.7)"/><ellipse cx="381.8" cy="111.9" rx="1.6" ry="1.5" transform="rotate(199 381.8 111.9)"/><ellipse cx="384.4" cy="121.6" rx="2.1" ry="1.5" transform="rotate(412 384.4 121.6)"/><ellipse cx="389.5" cy="88.1" rx="2.2" ry="1.2" transform="rotate(254 389.5 88.1)"/><ellipse cx="389.6" cy="92.1" rx="1.5" ry="1.1" transform="rotate(462 389.6 92.1)"/><ellipse cx="386.7" cy="103.8" rx="1.8" ry="1.5" transform="rotate(510 386.7 103.8)"/><ellipse cx="399.1" cy="104.2" rx="1.9" ry="1.4" transform="rotate(34 399.1 104.2)"/><ellipse cx="395.5" cy="103.8" rx="1.9" ry="1.5" transform="rotate(159 395.5 103.8)"/><ellipse cx="404.4" cy="91.5" rx="1.6" ry="1.2" transform="rotate(312 404.4 91.5)"/><ellipse cx="399.0" cy="109.6" rx="2.0" ry="1.5" transform="rotate(561 399.0 109.6)"/><ellipse cx="403.5" cy="117.3" rx="2.1" ry="1.4" transform="rotate(476 403.5 117.3)"/></g>
<line x1="360.4" y1="25.0" x2="360.4" y2="139.0" stroke="#a4a6b4" stroke-width="0.8"/>
<line x1="303.0" y1="82.0" x2="417.7" y2="82.0" stroke="#a4a6b4" stroke-width="0.8"/>
<text x="308.20" y="37.60" font-size="10.5" text-anchor="start" fill="#f4f4f4" stroke="#f4f4f4" stroke-width="0.25">WT</text>
<text x="411.20" y="38.10" font-size="10.5" text-anchor="end" fill="#f4f4f4" stroke="#f4f4f4" stroke-width="0.25">#3</text>
<text x="307.80" y="134.70" font-size="10.5" text-anchor="start" fill="#f4f4f4" stroke="#f4f4f4" stroke-width="0.25">#1</text>
<text x="410.20" y="134.70" font-size="10.5" text-anchor="end" fill="#f4f4f4" stroke="#f4f4f4" stroke-width="0.25">#4</text>
<line x1="383.5" y1="136.4" x2="402.9" y2="136.4" stroke="#e8e8e8" stroke-width="1"/>
<rect x="420.0" y="25.0" width="114.7" height="114.0" fill="#181b3a"/>
<rect x="420.5" y="25.5" width="113.7" height="113.0" fill="none" stroke="#6a6c7c" stroke-width="0.9" rx="2.5"/>
<path d="M433.8 38.1C430.5 31.3 437.7 39.9 438.4 43.9M433.8 38.1C433.2 33.8 443.1 36.2 438.9 38.6M434.0 45.0C428.7 39.9 423.0 45.4 427.5 45.5M434.0 45.0C438.5 39.5 434.3 42.8 437.6 40.7M434.2 51.3C436.9 55.2 440.0 44.5 434.2 44.9M437.5 55.2C435.5 59.7 446.2 54.0 442.4 51.4M437.5 55.2C430.5 55.6 431.7 62.3 434.0 60.2M436.4 63.8C441.3 61.0 447.1 61.9 443.5 64.9M436.4 63.8C442.3 66.7 434.1 57.1 437.9 58.2M436.4 70.7C431.9 64.9 441.2 67.8 435.7 63.9M441.9 38.9C445.4 39.3 451.6 41.4 446.1 39.3M441.9 38.9C438.3 33.7 442.3 25.9 439.7 31.3M443.7 46.3C443.4 41.6 442.8 46.5 447.0 51.2M443.7 46.3C448.0 47.4 441.4 45.9 439.2 45.5M444.4 49.5C447.5 50.0 455.7 49.0 450.2 44.4M442.8 59.1C439.6 59.2 440.8 52.3 442.9 52.6M442.8 59.1C447.1 60.6 448.3 63.1 449.0 58.6M442.0 63.5C444.0 60.5 441.8 70.0 445.9 65.3M442.0 63.5C448.0 62.6 432.5 55.1 438.3 60.7M443.8 70.2C446.8 74.4 443.6 78.1 445.6 75.4M449.9 39.4C453.9 43.9 442.4 36.7 442.9 38.9M447.6 46.5C448.8 42.5 442.7 50.4 440.0 47.1M448.6 49.0C446.2 44.6 446.5 53.1 449.8 56.2M447.7 55.1C450.3 58.5 444.8 59.3 443.6 55.0M449.7 63.8C454.9 62.6 450.1 63.1 449.7 58.2M448.3 70.7C447.4 69.5 458.6 65.4 453.9 65.6M448.3 70.7C452.8 75.1 453.3 64.0 455.2 67.0M456.0 40.5C450.4 40.1 456.2 46.3 453.8 44.1M456.0 40.5C461.3 45.9 458.1 32.9 452.6 37.1M453.7 46.1C451.8 40.1 450.4 39.9 449.2 39.8M455.9 51.5C461.2 51.2 464.4 54.1 462.6 51.1M455.9 51.5C458.3 49.7 454.4 52.8 459.4 54.5M454.5 56.6C453.9 60.9 455.6 60.9 455.6 62.1M455.2 61.7C449.5 68.2 453.0 67.3 448.2 64.4M456.5 67.5C458.5 73.7 457.2 73.6 461.1 69.2M461.6 41.6C462.0 39.5 452.4 41.8 456.8 44.8M460.1 44.2C461.6 37.5 459.1 38.2 456.4 40.2M462.3 50.0C466.9 47.5 462.1 58.6 464.7 55.6M462.3 50.0C467.1 45.7 458.9 57.8 460.9 54.6M462.9 55.4C458.8 55.8 470.8 53.3 468.8 50.3M462.5 63.3C466.2 68.7 466.5 61.8 465.1 59.5M461.5 66.8C467.7 64.8 454.5 65.2 456.8 66.0M461.5 66.8C462.0 72.1 450.5 75.7 456.0 72.6M469.1 38.4C475.6 37.2 481.1 33.2 475.6 37.0M470.3 47.4C463.6 53.3 481.5 47.2 476.8 44.4M468.1 50.5C475.0 56.1 471.0 44.9 468.4 45.6M469.5 58.6C465.7 60.8 469.9 57.0 466.3 54.6M469.5 58.6C473.5 52.0 470.6 51.4 474.8 54.5M468.7 62.0C468.6 57.1 470.5 59.1 464.7 64.6M468.7 62.0C467.5 64.7 465.1 58.2 469.2 57.0M469.2 66.6C470.7 71.8 475.8 68.4 474.5 70.8" stroke="#8e8e88" stroke-width="0.7" fill="none" opacity="0.65"/>
<g fill="#b4b09c"><ellipse cx="433.0" cy="39.2" rx="1.4" ry="0.9" transform="rotate(126 433.0 39.2)"/><ellipse cx="434.6" cy="37.1" rx="1.4" ry="0.9" transform="rotate(306 434.6 37.1)"/><ellipse cx="434.4" cy="43.7" rx="1.4" ry="0.9" transform="rotate(285 434.4 43.7)"/><ellipse cx="433.7" cy="46.2" rx="1.4" ry="0.9" transform="rotate(465 433.7 46.2)"/><ellipse cx="433.9" cy="52.5" rx="1.4" ry="0.9" transform="rotate(104 433.9 52.5)"/><ellipse cx="434.5" cy="50.0" rx="1.4" ry="0.9" transform="rotate(284 434.5 50.0)"/><ellipse cx="436.3" cy="69.4" rx="1.4" ry="0.9" transform="rotate(265 436.3 69.4)"/><ellipse cx="436.5" cy="72.0" rx="1.4" ry="0.9" transform="rotate(445 436.5 72.0)"/><ellipse cx="441.0" cy="39.8" rx="1.4" ry="0.9" transform="rotate(136 441.0 39.8)"/><ellipse cx="442.9" cy="38.0" rx="1.4" ry="0.9" transform="rotate(316 442.9 38.0)"/><ellipse cx="442.0" cy="60.1" rx="1.4" ry="0.9" transform="rotate(127 442.0 60.1)"/><ellipse cx="443.6" cy="58.1" rx="1.4" ry="0.9" transform="rotate(307 443.6 58.1)"/><ellipse cx="443.8" cy="71.5" rx="1.4" ry="0.9" transform="rotate(88 443.8 71.5)"/><ellipse cx="443.8" cy="68.9" rx="1.4" ry="0.9" transform="rotate(268 443.8 68.9)"/><ellipse cx="446.5" cy="45.9" rx="1.4" ry="0.9" transform="rotate(210 446.5 45.9)"/><ellipse cx="448.7" cy="47.2" rx="1.4" ry="0.9" transform="rotate(390 448.7 47.2)"/><ellipse cx="449.4" cy="50.0" rx="1.4" ry="0.9" transform="rotate(54 449.4 50.0)"/><ellipse cx="447.9" cy="47.9" rx="1.4" ry="0.9" transform="rotate(234 447.9 47.9)"/><ellipse cx="448.8" cy="54.3" rx="1.4" ry="0.9" transform="rotate(326 448.8 54.3)"/><ellipse cx="446.6" cy="55.8" rx="1.4" ry="0.9" transform="rotate(506 446.6 55.8)"/><ellipse cx="449.8" cy="65.1" rx="1.4" ry="0.9" transform="rotate(86 449.8 65.1)"/><ellipse cx="449.6" cy="62.5" rx="1.4" ry="0.9" transform="rotate(266 449.6 62.5)"/><ellipse cx="447.3" cy="71.5" rx="1.4" ry="0.9" transform="rotate(142 447.3 71.5)"/><ellipse cx="449.3" cy="69.9" rx="1.4" ry="0.9" transform="rotate(322 449.3 69.9)"/><ellipse cx="454.7" cy="40.9" rx="1.4" ry="0.9" transform="rotate(160 454.7 40.9)"/><ellipse cx="457.2" cy="40.1" rx="1.4" ry="0.9" transform="rotate(340 457.2 40.1)"/><ellipse cx="455.1" cy="52.6" rx="1.4" ry="0.9" transform="rotate(127 455.1 52.6)"/><ellipse cx="456.7" cy="50.5" rx="1.4" ry="0.9" transform="rotate(307 456.7 50.5)"/><ellipse cx="454.5" cy="57.9" rx="1.4" ry="0.9" transform="rotate(94 454.5 57.9)"/><ellipse cx="454.6" cy="55.3" rx="1.4" ry="0.9" transform="rotate(274 454.6 55.3)"/><ellipse cx="455.5" cy="68.3" rx="1.4" ry="0.9" transform="rotate(145 455.5 68.3)"/><ellipse cx="457.6" cy="66.8" rx="1.4" ry="0.9" transform="rotate(325 457.6 66.8)"/><ellipse cx="462.7" cy="51.2" rx="1.4" ry="0.9" transform="rotate(67 462.7 51.2)"/><ellipse cx="461.8" cy="48.8" rx="1.4" ry="0.9" transform="rotate(247 461.8 48.8)"/><ellipse cx="462.0" cy="54.4" rx="1.4" ry="0.9" transform="rotate(227 462.0 54.4)"/><ellipse cx="463.8" cy="56.3" rx="1.4" ry="0.9" transform="rotate(407 463.8 56.3)"/><ellipse cx="463.3" cy="62.3" rx="1.4" ry="0.9" transform="rotate(309 463.3 62.3)"/><ellipse cx="461.6" cy="64.3" rx="1.4" ry="0.9" transform="rotate(489 461.6 64.3)"/><ellipse cx="461.3" cy="68.1" rx="1.4" ry="0.9" transform="rotate(98 461.3 68.1)"/><ellipse cx="461.7" cy="65.6" rx="1.4" ry="0.9" transform="rotate(278 461.7 65.6)"/><ellipse cx="470.3" cy="39.0" rx="1.4" ry="0.9" transform="rotate(27 470.3 39.0)"/><ellipse cx="468.0" cy="37.8" rx="1.4" ry="0.9" transform="rotate(207 468.0 37.8)"/><ellipse cx="467.5" cy="49.4" rx="1.4" ry="0.9" transform="rotate(242 467.5 49.4)"/><ellipse cx="468.7" cy="51.7" rx="1.4" ry="0.9" transform="rotate(422 468.7 51.7)"/><ellipse cx="469.7" cy="61.2" rx="1.4" ry="0.9" transform="rotate(321 469.7 61.2)"/><ellipse cx="467.6" cy="62.8" rx="1.4" ry="0.9" transform="rotate(501 467.6 62.8)"/></g>
<g fill="#4a8220"><ellipse cx="436.8" cy="57.4" rx="1.9" ry="1.4" transform="rotate(106 436.8 57.4)"/><ellipse cx="436.1" cy="54.7" rx="1.8" ry="1.5" transform="rotate(198 436.1 54.7)"/><ellipse cx="443.3" cy="63.0" rx="1.7" ry="1.5" transform="rotate(339 443.3 63.0)"/><ellipse cx="452.9" cy="62.3" rx="1.5" ry="1.4" transform="rotate(526 452.9 62.3)"/><ellipse cx="460.1" cy="42.8" rx="1.6" ry="1.4" transform="rotate(271 460.1 42.8)"/></g>
<g fill="#78aa34"><ellipse cx="438.4" cy="53.7" rx="2.1" ry="1.2" transform="rotate(303 438.4 53.7)"/><ellipse cx="439.3" cy="55.3" rx="2.0" ry="1.5" transform="rotate(364 439.3 55.3)"/><ellipse cx="437.1" cy="65.0" rx="1.4" ry="1.4" transform="rotate(61 437.1 65.0)"/><ellipse cx="442.8" cy="44.8" rx="2.0" ry="1.4" transform="rotate(237 442.8 44.8)"/><ellipse cx="445.7" cy="45.6" rx="1.7" ry="1.5" transform="rotate(342 445.7 45.6)"/><ellipse cx="450.1" cy="40.9" rx="2.0" ry="1.4" transform="rotate(85 450.1 40.9)"/><ellipse cx="453.0" cy="47.4" rx="2.0" ry="1.3" transform="rotate(478 453.0 47.4)"/><ellipse cx="460.0" cy="41.6" rx="1.5" ry="1.4" transform="rotate(540 460.0 41.6)"/><ellipse cx="458.5" cy="43.8" rx="1.9" ry="1.4" transform="rotate(190 458.5 43.8)"/><ellipse cx="469.8" cy="45.6" rx="1.8" ry="1.6" transform="rotate(254 469.8 45.6)"/><ellipse cx="467.2" cy="58.3" rx="1.6" ry="1.4" transform="rotate(186 467.2 58.3)"/></g>
<g fill="#86b43c"><ellipse cx="434.2" cy="63.8" rx="1.9" ry="1.2" transform="rotate(179 434.2 63.8)"/><ellipse cx="445.6" cy="51.3" rx="1.6" ry="1.6" transform="rotate(414 445.6 51.3)"/><ellipse cx="441.3" cy="61.6" rx="1.5" ry="1.2" transform="rotate(248 441.3 61.6)"/><ellipse cx="449.4" cy="37.6" rx="1.9" ry="1.1" transform="rotate(252 449.4 37.6)"/><ellipse cx="471.8" cy="47.9" rx="2.1" ry="1.4" transform="rotate(377 471.8 47.9)"/><ellipse cx="468.4" cy="65.3" rx="1.8" ry="1.2" transform="rotate(241 468.4 65.3)"/><ellipse cx="470.9" cy="65.2" rx="1.7" ry="1.4" transform="rotate(319 470.9 65.2)"/></g>
<g fill="#9ab848"><ellipse cx="437.0" cy="62.5" rx="1.7" ry="1.6" transform="rotate(295 437.0 62.5)"/><ellipse cx="456.0" cy="46.0" rx="1.7" ry="1.5" transform="rotate(359 456.0 46.0)"/><ellipse cx="463.2" cy="40.7" rx="2.0" ry="1.4" transform="rotate(331 463.2 40.7)"/><ellipse cx="459.3" cy="46.2" rx="1.9" ry="1.2" transform="rotate(110 459.3 46.2)"/><ellipse cx="469.9" cy="49.1" rx="1.5" ry="1.5" transform="rotate(461 469.9 49.1)"/><ellipse cx="470.8" cy="59.7" rx="1.7" ry="1.3" transform="rotate(400 470.8 59.7)"/></g>
<g fill="#6a9e2c"><ellipse cx="444.3" cy="47.8" rx="1.6" ry="1.6" transform="rotate(427 444.3 47.8)"/><ellipse cx="443.0" cy="49.4" rx="1.9" ry="1.4" transform="rotate(543 443.0 49.4)"/><ellipse cx="468.3" cy="48.0" rx="1.9" ry="1.5" transform="rotate(163 468.3 48.0)"/><ellipse cx="467.4" cy="67.4" rx="2.0" ry="1.2" transform="rotate(156 467.4 67.4)"/></g>
<g fill="#5a9226"><ellipse cx="441.9" cy="47.0" rx="1.8" ry="1.4" transform="rotate(518 441.9 47.0)"/><ellipse cx="448.5" cy="39.8" rx="2.1" ry="1.3" transform="rotate(163 448.5 39.8)"/><ellipse cx="451.4" cy="39.3" rx="1.5" ry="1.2" transform="rotate(355 451.4 39.3)"/><ellipse cx="451.6" cy="44.9" rx="1.8" ry="1.2" transform="rotate(210 451.6 44.9)"/><ellipse cx="455.1" cy="63.4" rx="1.6" ry="1.3" transform="rotate(452 455.1 63.4)"/><ellipse cx="462.2" cy="43.2" rx="1.9" ry="1.2" transform="rotate(428 462.2 43.2)"/><ellipse cx="462.0" cy="44.9" rx="2.0" ry="1.1" transform="rotate(382 462.0 44.9)"/></g>
<g fill="#3e7018"><ellipse cx="444.8" cy="47.3" rx="1.7" ry="1.3" transform="rotate(280 444.8 47.3)"/><ellipse cx="441.6" cy="65.3" rx="1.7" ry="1.2" transform="rotate(463 441.6 65.3)"/><ellipse cx="454.4" cy="44.4" rx="1.5" ry="1.2" transform="rotate(293 454.4 44.4)"/><ellipse cx="455.1" cy="59.9" rx="2.0" ry="1.3" transform="rotate(269 455.1 59.9)"/><ellipse cx="456.4" cy="61.2" rx="1.6" ry="1.6" transform="rotate(337 456.4 61.2)"/><ellipse cx="470.4" cy="57.4" rx="1.5" ry="1.3" transform="rotate(306 470.4 57.4)"/><ellipse cx="470.4" cy="68.5" rx="1.6" ry="1.1" transform="rotate(57 470.4 68.5)"/></g>
<path d="M484.3 39.7C487.0 39.3 485.9 46.0 482.9 46.6M484.6 46.8C487.4 42.4 477.5 42.6 479.9 45.7M485.5 52.8C479.1 58.1 488.4 50.3 491.2 53.8M486.3 60.3C486.7 58.4 489.9 57.0 490.5 62.6M486.6 64.6C482.0 58.4 488.6 51.6 489.1 57.4M486.0 70.2C482.5 65.6 488.9 62.9 487.7 62.8M491.4 41.0C491.6 35.9 483.7 47.9 489.2 47.8M491.4 41.0C488.4 37.9 489.1 45.1 487.0 39.1M491.5 46.2C496.5 48.9 502.2 50.2 497.1 46.7M491.5 46.2C488.3 45.9 498.5 49.3 494.8 52.6M492.3 51.6C490.9 45.5 496.4 48.7 498.3 53.9M492.7 59.1C497.1 62.0 491.4 65.0 492.6 65.7M492.7 59.1C487.8 64.4 503.0 62.3 498.1 61.2M491.1 63.4C486.3 61.6 488.5 67.6 486.7 66.6M491.8 70.8C492.5 72.4 489.8 68.7 491.4 66.3M491.8 70.8C485.7 71.9 485.4 69.9 490.2 66.5M499.7 42.1C501.3 41.8 506.7 53.5 501.1 49.7M501.3 46.5C497.2 41.5 509.3 50.6 507.8 47.4M500.6 51.9C497.5 49.1 493.3 49.2 494.2 53.9M501.4 57.2C504.3 59.1 508.5 69.0 504.2 63.5M501.4 57.2C507.6 58.3 495.0 48.7 500.0 50.9M498.1 63.6C498.6 65.1 497.0 59.5 491.8 63.6M498.1 63.6C498.4 70.2 504.6 73.3 500.6 68.9M497.9 69.0C502.8 71.8 501.1 66.2 496.1 65.4M497.9 69.0C494.1 67.1 492.9 58.8 497.8 63.3M506.6 38.5C506.9 38.2 500.3 47.3 505.8 43.7M506.6 38.5C505.2 35.5 510.3 39.5 508.7 34.5M508.3 47.3C506.5 44.5 508.9 46.7 503.3 43.6M508.3 47.3C512.5 44.8 504.4 42.7 506.1 43.8M506.7 50.6C503.4 50.7 501.9 54.7 507.9 57.7M506.7 50.6C505.5 44.0 510.8 47.5 511.3 52.0M504.7 60.0C503.0 59.7 501.5 61.2 500.0 60.2M504.7 60.0C500.7 64.0 504.2 70.4 500.6 65.6M506.9 63.4C509.0 63.7 500.4 57.5 504.3 58.5M506.9 63.4C504.6 61.7 508.5 63.2 504.6 59.2M505.7 71.3C499.9 64.5 505.1 69.4 503.9 66.8M514.5 39.8C519.3 46.1 516.6 36.8 519.1 40.0M514.3 48.5C518.4 51.4 513.9 38.1 515.0 43.1M514.3 48.5C516.3 49.8 514.2 48.7 512.2 44.2M511.5 53.8C518.1 46.8 517.5 56.6 515.7 55.3M513.6 57.5C519.1 55.8 508.2 53.7 507.2 56.0M513.6 57.5C510.4 59.5 513.6 60.0 509.2 62.8M514.8 64.8C520.8 59.0 511.1 62.7 514.8 57.2M514.8 64.8C510.8 68.8 507.3 62.6 512.1 57.8M513.1 70.0C507.2 75.7 518.0 60.7 516.4 65.9M513.1 70.0C508.5 73.2 512.7 67.8 508.4 68.8M518.8 40.2C517.8 46.5 524.3 39.3 523.3 41.6M521.4 47.8C517.5 49.8 516.5 50.8 516.4 49.6M518.8 54.6C513.7 59.8 526.4 53.9 521.9 58.0M518.8 54.6C524.3 54.9 514.0 54.8 519.6 60.3M522.0 60.4C518.0 65.9 513.2 69.3 517.2 64.5M518.7 66.5C520.3 63.5 515.5 57.8 518.0 59.7M518.8 72.3C519.9 70.8 518.4 71.0 523.2 72.7M518.8 72.3C525.5 71.6 517.6 75.3 523.4 76.7" stroke="#8e8e88" stroke-width="0.7" fill="none" opacity="0.65"/>
<g fill="#b4b09c"><ellipse cx="483.3" cy="38.9" rx="1.4" ry="0.9" transform="rotate(219 483.3 38.9)"/><ellipse cx="485.3" cy="40.6" rx="1.4" ry="0.9" transform="rotate(399 485.3 40.6)"/><ellipse cx="486.4" cy="59.0" rx="1.4" ry="0.9" transform="rotate(278 486.4 59.0)"/><ellipse cx="486.1" cy="61.6" rx="1.4" ry="0.9" transform="rotate(458 486.1 61.6)"/><ellipse cx="487.2" cy="70.7" rx="1.4" ry="0.9" transform="rotate(23 487.2 70.7)"/><ellipse cx="484.8" cy="69.7" rx="1.4" ry="0.9" transform="rotate(203 484.8 69.7)"/><ellipse cx="490.5" cy="41.9" rx="1.4" ry="0.9" transform="rotate(133 490.5 41.9)"/><ellipse cx="492.3" cy="40.0" rx="1.4" ry="0.9" transform="rotate(313 492.3 40.0)"/><ellipse cx="491.4" cy="59.5" rx="1.4" ry="0.9" transform="rotate(165 491.4 59.5)"/><ellipse cx="493.9" cy="58.8" rx="1.4" ry="0.9" transform="rotate(345 493.9 58.8)"/><ellipse cx="491.8" cy="64.5" rx="1.4" ry="0.9" transform="rotate(56 491.8 64.5)"/><ellipse cx="490.4" cy="62.3" rx="1.4" ry="0.9" transform="rotate(236 490.4 62.3)"/><ellipse cx="490.5" cy="70.9" rx="1.4" ry="0.9" transform="rotate(178 490.5 70.9)"/><ellipse cx="493.1" cy="70.8" rx="1.4" ry="0.9" transform="rotate(358 493.1 70.8)"/><ellipse cx="498.6" cy="41.4" rx="1.4" ry="0.9" transform="rotate(213 498.6 41.4)"/><ellipse cx="500.8" cy="42.8" rx="1.4" ry="0.9" transform="rotate(393 500.8 42.8)"/><ellipse cx="501.8" cy="52.0" rx="1.4" ry="0.9" transform="rotate(3 501.8 52.0)"/><ellipse cx="499.3" cy="51.9" rx="1.4" ry="0.9" transform="rotate(183 499.3 51.9)"/><ellipse cx="501.3" cy="58.5" rx="1.4" ry="0.9" transform="rotate(95 501.3 58.5)"/><ellipse cx="501.6" cy="55.9" rx="1.4" ry="0.9" transform="rotate(275 501.6 55.9)"/><ellipse cx="499.4" cy="63.3" rx="1.4" ry="0.9" transform="rotate(348 499.4 63.3)"/><ellipse cx="496.8" cy="63.8" rx="1.4" ry="0.9" transform="rotate(528 496.8 63.8)"/><ellipse cx="508.7" cy="48.5" rx="1.4" ry="0.9" transform="rotate(74 508.7 48.5)"/><ellipse cx="508.0" cy="46.0" rx="1.4" ry="0.9" transform="rotate(254 508.0 46.0)"/><ellipse cx="505.9" cy="64.3" rx="1.4" ry="0.9" transform="rotate(136 505.9 64.3)"/><ellipse cx="507.8" cy="62.5" rx="1.4" ry="0.9" transform="rotate(316 507.8 62.5)"/><ellipse cx="513.2" cy="56.3" rx="1.4" ry="0.9" transform="rotate(250 513.2 56.3)"/><ellipse cx="514.1" cy="58.7" rx="1.4" ry="0.9" transform="rotate(430 514.1 58.7)"/><ellipse cx="513.9" cy="68.9" rx="1.4" ry="0.9" transform="rotate(304 513.9 68.9)"/><ellipse cx="512.4" cy="71.0" rx="1.4" ry="0.9" transform="rotate(484 512.4 71.0)"/><ellipse cx="518.6" cy="41.5" rx="1.4" ry="0.9" transform="rotate(98 518.6 41.5)"/><ellipse cx="519.0" cy="38.9" rx="1.4" ry="0.9" transform="rotate(278 519.0 38.9)"/><ellipse cx="517.5" cy="54.6" rx="1.4" ry="0.9" transform="rotate(182 517.5 54.6)"/><ellipse cx="520.1" cy="54.7" rx="1.4" ry="0.9" transform="rotate(362 520.1 54.7)"/><ellipse cx="523.3" cy="60.2" rx="1.4" ry="0.9" transform="rotate(349 523.3 60.2)"/><ellipse cx="520.7" cy="60.6" rx="1.4" ry="0.9" transform="rotate(529 520.7 60.6)"/><ellipse cx="518.9" cy="73.6" rx="1.4" ry="0.9" transform="rotate(88 518.9 73.6)"/><ellipse cx="518.8" cy="71.0" rx="1.4" ry="0.9" transform="rotate(268 518.8 71.0)"/></g>
<g fill="#3e7018"><ellipse cx="483.4" cy="45.1" rx="2.0" ry="1.5" transform="rotate(234 483.4 45.1)"/><ellipse cx="486.3" cy="54.5" rx="2.0" ry="1.1" transform="rotate(426 486.3 54.5)"/><ellipse cx="493.2" cy="46.4" rx="1.6" ry="1.4" transform="rotate(368 493.2 46.4)"/><ellipse cx="491.0" cy="52.2" rx="1.9" ry="1.5" transform="rotate(518 491.0 52.2)"/><ellipse cx="508.3" cy="51.1" rx="1.9" ry="1.5" transform="rotate(375 508.3 51.1)"/><ellipse cx="512.8" cy="49.4" rx="1.4" ry="1.3" transform="rotate(509 512.8 49.4)"/><ellipse cx="510.2" cy="55.4" rx="2.1" ry="1.4" transform="rotate(487 510.2 55.4)"/></g>
<g fill="#9ab848"><ellipse cx="486.5" cy="47.0" rx="1.9" ry="1.5" transform="rotate(365 486.5 47.0)"/><ellipse cx="494.1" cy="50.8" rx="1.5" ry="1.1" transform="rotate(333 494.1 50.8)"/><ellipse cx="496.2" cy="70.5" rx="1.8" ry="1.5" transform="rotate(137 496.2 70.5)"/><ellipse cx="496.7" cy="68.2" rx="1.5" ry="1.4" transform="rotate(212 496.7 68.2)"/><ellipse cx="506.6" cy="36.2" rx="1.4" ry="1.6" transform="rotate(271 506.6 36.2)"/><ellipse cx="506.4" cy="52.0" rx="1.8" ry="1.2" transform="rotate(102 506.4 52.0)"/><ellipse cx="513.9" cy="47.1" rx="1.4" ry="1.3" transform="rotate(254 513.9 47.1)"/><ellipse cx="515.4" cy="49.4" rx="2.1" ry="1.3" transform="rotate(397 515.4 49.4)"/><ellipse cx="511.5" cy="52.0" rx="1.6" ry="1.3" transform="rotate(272 511.5 52.0)"/><ellipse cx="515.7" cy="63.5" rx="1.7" ry="1.5" transform="rotate(303 515.7 63.5)"/></g>
<g fill="#4a8220"><ellipse cx="483.7" cy="48.1" rx="1.9" ry="1.3" transform="rotate(483 483.7 48.1)"/><ellipse cx="486.8" cy="51.8" rx="1.9" ry="1.3" transform="rotate(321 486.8 51.8)"/><ellipse cx="487.5" cy="63.6" rx="2.0" ry="1.4" transform="rotate(315 487.5 63.6)"/><ellipse cx="491.7" cy="48.4" rx="1.8" ry="1.5" transform="rotate(83 491.7 48.4)"/><ellipse cx="489.2" cy="46.4" rx="1.4" ry="1.2" transform="rotate(175 489.2 46.4)"/><ellipse cx="501.2" cy="44.9" rx="1.5" ry="1.5" transform="rotate(265 501.2 44.9)"/><ellipse cx="506.2" cy="49.2" rx="1.7" ry="1.6" transform="rotate(252 506.2 49.2)"/><ellipse cx="516.5" cy="65.9" rx="1.7" ry="1.2" transform="rotate(30 516.5 65.9)"/><ellipse cx="523.0" cy="46.1" rx="1.5" ry="1.5" transform="rotate(311 523.0 46.1)"/><ellipse cx="519.5" cy="68.5" rx="1.4" ry="1.2" transform="rotate(427 519.5 68.5)"/></g>
<g fill="#6a9e2c"><ellipse cx="483.6" cy="53.1" rx="1.5" ry="1.2" transform="rotate(170 483.6 53.1)"/><ellipse cx="490.7" cy="44.1" rx="1.5" ry="1.2" transform="rotate(250 490.7 44.1)"/><ellipse cx="498.8" cy="69.9" rx="1.5" ry="1.3" transform="rotate(405 498.8 69.9)"/><ellipse cx="503.6" cy="61.4" rx="1.9" ry="1.1" transform="rotate(128 503.6 61.4)"/><ellipse cx="519.7" cy="46.4" rx="1.8" ry="1.2" transform="rotate(220 519.7 46.4)"/></g>
<g fill="#5a9226"><ellipse cx="486.5" cy="66.8" rx="1.6" ry="1.4" transform="rotate(452 486.5 66.8)"/><ellipse cx="484.6" cy="64.6" rx="2.0" ry="1.3" transform="rotate(538 484.6 64.6)"/><ellipse cx="509.6" cy="53.9" rx="1.5" ry="1.5" transform="rotate(177 509.6 53.9)"/></g>
<g fill="#78aa34"><ellipse cx="492.4" cy="53.4" rx="1.5" ry="1.6" transform="rotate(447 492.4 53.4)"/><ellipse cx="503.2" cy="47.6" rx="1.7" ry="1.4" transform="rotate(31 503.2 47.6)"/><ellipse cx="504.3" cy="39.1" rx="1.6" ry="1.2" transform="rotate(166 504.3 39.1)"/><ellipse cx="508.6" cy="39.7" rx="2.0" ry="1.2" transform="rotate(388 508.6 39.7)"/><ellipse cx="506.1" cy="60.5" rx="1.5" ry="1.6" transform="rotate(17 506.1 60.5)"/><ellipse cx="506.7" cy="70.3" rx="1.9" ry="1.4" transform="rotate(316 506.7 70.3)"/><ellipse cx="504.4" cy="71.2" rx="1.4" ry="1.1" transform="rotate(542 504.4 71.2)"/><ellipse cx="516.6" cy="40.8" rx="1.8" ry="1.4" transform="rotate(385 516.6 40.8)"/><ellipse cx="512.9" cy="53.9" rx="2.1" ry="1.1" transform="rotate(365 512.9 53.9)"/><ellipse cx="521.3" cy="49.6" rx="1.8" ry="1.5" transform="rotate(453 521.3 49.6)"/><ellipse cx="520.2" cy="65.0" rx="1.5" ry="1.5" transform="rotate(315 520.2 65.0)"/><ellipse cx="517.7" cy="65.4" rx="1.6" ry="1.6" transform="rotate(588 517.7 65.4)"/></g>
<g fill="#86b43c"><ellipse cx="491.8" cy="50.2" rx="2.1" ry="1.3" transform="rotate(611 491.8 50.2)"/><ellipse cx="499.9" cy="47.9" rx="2.0" ry="1.4" transform="rotate(134 499.9 47.9)"/><ellipse cx="498.5" cy="67.8" rx="2.0" ry="1.6" transform="rotate(298 498.5 67.8)"/><ellipse cx="506.5" cy="40.6" rx="1.8" ry="1.5" transform="rotate(451 506.5 40.6)"/><ellipse cx="504.4" cy="57.9" rx="1.4" ry="1.5" transform="rotate(261 504.4 57.9)"/><ellipse cx="506.2" cy="72.6" rx="1.6" ry="1.4" transform="rotate(429 506.2 72.6)"/><ellipse cx="515.6" cy="38.3" rx="2.0" ry="1.3" transform="rotate(305 515.6 38.3)"/><ellipse cx="513.2" cy="40.7" rx="1.4" ry="1.1" transform="rotate(505 513.2 40.7)"/><ellipse cx="514.3" cy="66.5" rx="2.0" ry="1.5" transform="rotate(107 514.3 66.5)"/><ellipse cx="512.8" cy="64.4" rx="1.9" ry="1.4" transform="rotate(191 512.8 64.4)"/><ellipse cx="517.4" cy="67.7" rx="1.9" ry="1.3" transform="rotate(497 517.4 67.7)"/></g>
<path d="M437.9 91.3C444.4 90.3 444.2 92.1 440.0 97.7M438.3 96.0C442.1 89.5 441.4 87.6 444.3 91.5M435.1 102.1C432.4 104.2 433.9 107.1 437.6 109.6M435.1 102.1C431.4 100.0 435.0 92.5 440.4 96.1M437.4 111.6C432.2 105.4 434.0 115.5 439.8 117.3M437.2 113.9C430.3 107.8 434.7 117.6 432.9 112.1M435.5 122.2C429.1 128.7 434.4 122.4 439.7 124.6M435.5 122.2C436.8 124.2 434.7 115.2 430.0 116.5M442.3 89.6C443.1 89.5 436.1 82.8 435.7 87.4M444.9 97.7C451.6 94.6 446.3 103.4 449.6 102.1M445.1 104.5C441.5 106.2 436.4 100.3 439.8 105.4M441.5 107.8C444.0 102.6 434.0 106.1 436.6 105.4M441.0 115.3C446.5 111.6 444.8 116.3 447.1 117.9M442.0 121.2C436.3 115.3 444.4 122.9 449.8 119.8M442.0 121.2C439.1 126.7 443.3 128.9 439.9 126.1M448.3 89.3C446.1 84.5 448.6 89.5 450.3 85.0M448.8 98.5C454.6 97.5 456.3 92.3 456.5 96.4M447.8 104.9C441.8 101.5 439.2 105.8 440.6 103.3M448.8 108.8C449.6 104.7 454.6 115.7 456.3 110.0M449.0 114.2C448.3 115.0 451.1 101.5 451.8 107.0M449.0 114.2C445.5 116.6 442.4 107.0 444.1 112.7M450.2 123.4C449.3 124.6 448.2 132.2 446.6 128.8M450.2 123.4C443.9 127.3 454.0 133.6 448.7 129.1M456.1 90.5C461.5 84.8 454.2 91.8 451.2 87.8M456.3 97.2C449.6 100.6 453.6 99.0 450.5 99.6M456.3 97.2C450.9 97.0 463.9 107.3 458.9 103.4M457.8 102.7C452.2 100.8 463.8 92.9 459.2 94.9M457.8 102.7C453.7 105.0 464.2 112.5 460.6 109.3M456.2 110.1C462.2 110.3 459.8 108.2 457.4 102.6M458.0 115.1C461.1 117.6 456.3 110.7 451.0 116.5M458.0 115.1C452.4 108.3 462.4 123.1 462.7 119.5M457.6 120.5C459.5 116.6 457.9 123.6 458.6 127.3M457.6 120.5C462.5 113.9 450.2 115.0 452.0 118.6M462.7 89.5C460.8 90.3 456.6 84.2 461.4 85.4M462.4 96.9C459.9 90.8 457.5 104.0 461.9 104.0M462.4 96.9C456.9 102.7 461.1 96.7 466.5 93.0M461.6 104.9C456.3 99.6 458.7 105.3 454.5 107.4M461.6 104.9C459.1 99.6 462.7 109.1 464.6 111.1M464.2 110.0C457.7 107.3 453.6 113.5 457.0 112.4M462.5 114.0C464.2 114.8 461.8 113.9 466.1 117.1M462.5 114.0C469.1 113.2 472.0 122.9 469.2 117.7M460.9 123.5C458.4 124.2 464.4 122.0 459.5 127.5M460.9 123.5C455.9 121.2 462.2 125.8 458.8 127.8M467.5 89.0C461.1 87.3 461.9 86.1 463.3 87.2M469.6 96.7C469.5 99.7 470.7 97.2 475.1 95.7M467.0 102.5C471.3 103.2 460.4 104.7 460.1 100.0M467.0 102.5C468.4 98.9 468.3 91.5 471.1 96.8M470.8 109.1C476.0 105.3 465.3 105.6 466.6 110.3M467.5 118.1C464.4 113.2 467.0 119.2 464.5 113.2M467.5 118.1C461.9 116.0 470.2 121.0 469.8 123.6M470.1 123.4C475.5 123.3 473.1 122.5 467.3 127.2M470.1 123.4C468.7 117.3 473.8 124.0 468.1 119.1" stroke="#8e8e88" stroke-width="0.7" fill="none" opacity="0.65"/>
<g fill="#b4b09c"><ellipse cx="439.2" cy="96.9" rx="1.4" ry="0.9" transform="rotate(44 439.2 96.9)"/><ellipse cx="437.4" cy="95.1" rx="1.4" ry="0.9" transform="rotate(224 437.4 95.1)"/><ellipse cx="436.1" cy="111.9" rx="1.4" ry="0.9" transform="rotate(167 436.1 111.9)"/><ellipse cx="438.6" cy="111.3" rx="1.4" ry="0.9" transform="rotate(347 438.6 111.3)"/><ellipse cx="436.7" cy="121.7" rx="1.4" ry="0.9" transform="rotate(338 436.7 121.7)"/><ellipse cx="434.3" cy="122.7" rx="1.4" ry="0.9" transform="rotate(518 434.3 122.7)"/><ellipse cx="442.3" cy="90.9" rx="1.4" ry="0.9" transform="rotate(88 442.3 90.9)"/><ellipse cx="442.2" cy="88.3" rx="1.4" ry="0.9" transform="rotate(268 442.2 88.3)"/><ellipse cx="445.7" cy="98.8" rx="1.4" ry="0.9" transform="rotate(53 445.7 98.8)"/><ellipse cx="444.2" cy="96.7" rx="1.4" ry="0.9" transform="rotate(233 444.2 96.7)"/><ellipse cx="441.7" cy="119.9" rx="1.4" ry="0.9" transform="rotate(256 441.7 119.9)"/><ellipse cx="442.3" cy="122.5" rx="1.4" ry="0.9" transform="rotate(436 442.3 122.5)"/><ellipse cx="450.0" cy="108.2" rx="1.4" ry="0.9" transform="rotate(332 450.0 108.2)"/><ellipse cx="447.7" cy="109.4" rx="1.4" ry="0.9" transform="rotate(512 447.7 109.4)"/><ellipse cx="455.5" cy="89.4" rx="1.4" ry="0.9" transform="rotate(240 455.5 89.4)"/><ellipse cx="456.7" cy="91.7" rx="1.4" ry="0.9" transform="rotate(420 456.7 91.7)"/><ellipse cx="457.5" cy="104.0" rx="1.4" ry="0.9" transform="rotate(103 457.5 104.0)"/><ellipse cx="458.1" cy="101.5" rx="1.4" ry="0.9" transform="rotate(283 458.1 101.5)"/><ellipse cx="457.7" cy="116.4" rx="1.4" ry="0.9" transform="rotate(100 457.7 116.4)"/><ellipse cx="458.2" cy="113.8" rx="1.4" ry="0.9" transform="rotate(280 458.2 113.8)"/><ellipse cx="458.8" cy="119.9" rx="1.4" ry="0.9" transform="rotate(333 458.8 119.9)"/><ellipse cx="456.4" cy="121.0" rx="1.4" ry="0.9" transform="rotate(513 456.4 121.0)"/><ellipse cx="461.7" cy="90.4" rx="1.4" ry="0.9" transform="rotate(135 461.7 90.4)"/><ellipse cx="463.6" cy="88.6" rx="1.4" ry="0.9" transform="rotate(315 463.6 88.6)"/><ellipse cx="462.4" cy="105.9" rx="1.4" ry="0.9" transform="rotate(53 462.4 105.9)"/><ellipse cx="460.8" cy="103.8" rx="1.4" ry="0.9" transform="rotate(233 460.8 103.8)"/><ellipse cx="462.9" cy="109.8" rx="1.4" ry="0.9" transform="rotate(188 462.9 109.8)"/><ellipse cx="465.5" cy="110.2" rx="1.4" ry="0.9" transform="rotate(368 465.5 110.2)"/><ellipse cx="463.7" cy="114.2" rx="1.4" ry="0.9" transform="rotate(5 463.7 114.2)"/><ellipse cx="461.2" cy="113.9" rx="1.4" ry="0.9" transform="rotate(185 461.2 113.9)"/><ellipse cx="467.9" cy="90.2" rx="1.4" ry="0.9" transform="rotate(71 467.9 90.2)"/><ellipse cx="467.1" cy="87.7" rx="1.4" ry="0.9" transform="rotate(251 467.1 87.7)"/><ellipse cx="467.1" cy="101.2" rx="1.4" ry="0.9" transform="rotate(272 467.1 101.2)"/><ellipse cx="467.0" cy="103.8" rx="1.4" ry="0.9" transform="rotate(452 467.0 103.8)"/></g>
<g fill="#86b43c"><ellipse cx="437.8" cy="93.4" rx="1.8" ry="1.5" transform="rotate(91 437.8 93.4)"/><ellipse cx="443.6" cy="107.0" rx="1.6" ry="1.2" transform="rotate(339 443.6 107.0)"/><ellipse cx="441.8" cy="114.0" rx="1.5" ry="1.2" transform="rotate(305 441.8 114.0)"/><ellipse cx="447.1" cy="90.9" rx="1.7" ry="1.4" transform="rotate(127 447.1 90.9)"/><ellipse cx="447.8" cy="107.1" rx="2.1" ry="1.6" transform="rotate(447 447.8 107.1)"/><ellipse cx="457.4" cy="95.6" rx="1.6" ry="1.2" transform="rotate(305 457.4 95.6)"/><ellipse cx="461.1" cy="98.2" rx="1.9" ry="1.3" transform="rotate(495 461.1 98.2)"/><ellipse cx="459.6" cy="122.3" rx="1.6" ry="1.4" transform="rotate(223 459.6 122.3)"/><ellipse cx="468.7" cy="122.5" rx="1.5" ry="1.2" transform="rotate(211 468.7 122.5)"/></g>
<g fill="#78aa34"><ellipse cx="436.5" cy="90.9" rx="1.9" ry="1.5" transform="rotate(197 436.5 90.9)"/><ellipse cx="436.8" cy="102.9" rx="2.1" ry="1.3" transform="rotate(384 436.8 102.9)"/><ellipse cx="439.3" cy="114.6" rx="2.1" ry="1.2" transform="rotate(379 439.3 114.6)"/><ellipse cx="441.0" cy="109.8" rx="1.9" ry="1.5" transform="rotate(105 441.0 109.8)"/><ellipse cx="449.9" cy="112.6" rx="1.5" ry="1.2" transform="rotate(297 449.9 112.6)"/><ellipse cx="449.7" cy="115.6" rx="1.7" ry="1.3" transform="rotate(424 449.7 115.6)"/><ellipse cx="452.3" cy="123.4" rx="1.5" ry="1.2" transform="rotate(362 452.3 123.4)"/><ellipse cx="460.8" cy="96.1" rx="2.1" ry="1.5" transform="rotate(567 460.8 96.1)"/><ellipse cx="470.4" cy="107.2" rx="1.9" ry="1.5" transform="rotate(259 470.4 107.2)"/><ellipse cx="465.4" cy="118.2" rx="1.6" ry="1.4" transform="rotate(539 465.4 118.2)"/><ellipse cx="470.9" cy="124.9" rx="1.8" ry="1.4" transform="rotate(62 470.9 124.9)"/></g>
<g fill="#9ab848"><ellipse cx="439.5" cy="90.4" rx="1.6" ry="1.3" transform="rotate(332 439.5 90.4)"/><ellipse cx="436.0" cy="112.4" rx="1.7" ry="1.2" transform="rotate(230 436.0 112.4)"/><ellipse cx="444.6" cy="105.7" rx="1.9" ry="1.3" transform="rotate(475 444.6 105.7)"/><ellipse cx="439.8" cy="114.1" rx="2.1" ry="1.4" transform="rotate(226 439.8 114.1)"/><ellipse cx="442.4" cy="116.8" rx="1.6" ry="1.6" transform="rotate(407 442.4 116.8)"/><ellipse cx="447.6" cy="99.9" rx="1.9" ry="1.5" transform="rotate(129 447.6 99.9)"/><ellipse cx="446.5" cy="104.3" rx="1.9" ry="1.1" transform="rotate(208 446.5 104.3)"/><ellipse cx="458.3" cy="110.2" rx="2.1" ry="1.4" transform="rotate(1 458.3 110.2)"/><ellipse cx="455.7" cy="108.1" rx="1.9" ry="1.4" transform="rotate(255 455.7 108.1)"/><ellipse cx="463.6" cy="95.1" rx="1.4" ry="1.1" transform="rotate(303 463.6 95.1)"/><ellipse cx="470.4" cy="97.8" rx="2.0" ry="1.2" transform="rotate(411 470.4 97.8)"/></g>
<g fill="#6a9e2c"><ellipse cx="434.4" cy="103.9" rx="2.0" ry="1.2" transform="rotate(110 434.4 103.9)"/><ellipse cx="445.7" cy="103.3" rx="2.0" ry="1.2" transform="rotate(296 445.7 103.3)"/><ellipse cx="447.5" cy="88.3" rx="2.0" ry="1.4" transform="rotate(234 447.5 88.3)"/><ellipse cx="449.0" cy="105.1" rx="1.7" ry="1.2" transform="rotate(369 449.0 105.1)"/><ellipse cx="462.6" cy="122.7" rx="2.0" ry="1.2" transform="rotate(333 462.6 122.7)"/><ellipse cx="469.1" cy="98.1" rx="1.4" ry="1.3" transform="rotate(471 469.1 98.1)"/><ellipse cx="469.5" cy="111.0" rx="1.5" ry="1.3" transform="rotate(123 469.5 111.0)"/></g>
<g fill="#4a8220"><ellipse cx="433.5" cy="101.5" rx="2.1" ry="1.6" transform="rotate(201 433.5 101.5)"/><ellipse cx="436.3" cy="100.1" rx="1.6" ry="1.5" transform="rotate(300 436.3 100.1)"/><ellipse cx="435.8" cy="115.4" rx="1.5" ry="1.3" transform="rotate(133 435.8 115.4)"/><ellipse cx="440.0" cy="116.4" rx="1.9" ry="1.3" transform="rotate(491 440.0 116.4)"/><ellipse cx="449.0" cy="97.1" rx="1.6" ry="1.4" transform="rotate(276 449.0 97.1)"/><ellipse cx="449.6" cy="121.3" rx="1.6" ry="1.3" transform="rotate(612 449.6 121.3)"/><ellipse cx="455.4" cy="112.2" rx="1.9" ry="1.5" transform="rotate(109 455.4 112.2)"/><ellipse cx="460.8" cy="125.7" rx="1.9" ry="1.3" transform="rotate(452 460.8 125.7)"/><ellipse cx="468.1" cy="95.9" rx="1.9" ry="1.5" transform="rotate(570 468.1 95.9)"/></g>
<g fill="#5a9226"><ellipse cx="443.9" cy="103.6" rx="1.5" ry="1.6" transform="rotate(214 443.9 103.6)"/><ellipse cx="447.1" cy="105.8" rx="1.9" ry="1.5" transform="rotate(394 447.1 105.8)"/><ellipse cx="439.8" cy="106.8" rx="1.6" ry="1.5" transform="rotate(211 439.8 106.8)"/><ellipse cx="450.7" cy="88.9" rx="2.0" ry="1.5" transform="rotate(-11 450.7 88.9)"/><ellipse cx="450.1" cy="99.6" rx="1.6" ry="1.5" transform="rotate(400 450.1 99.6)"/><ellipse cx="448.1" cy="102.6" rx="1.7" ry="1.1" transform="rotate(278 448.1 102.6)"/><ellipse cx="447.0" cy="115.2" rx="1.9" ry="1.5" transform="rotate(515 447.0 115.2)"/><ellipse cx="447.8" cy="123.6" rx="1.8" ry="1.3" transform="rotate(534 447.8 123.6)"/><ellipse cx="456.6" cy="98.7" rx="1.7" ry="1.6" transform="rotate(438 456.6 98.7)"/><ellipse cx="463.9" cy="98.3" rx="1.5" ry="1.2" transform="rotate(404 463.9 98.3)"/><ellipse cx="472.3" cy="109.5" rx="2.1" ry="1.5" transform="rotate(372 472.3 109.5)"/><ellipse cx="468.3" cy="120.3" rx="1.7" ry="1.2" transform="rotate(429 468.3 120.3)"/></g>
<g fill="#3e7018"><ellipse cx="447.7" cy="113.3" rx="1.7" ry="1.4" transform="rotate(216 447.7 113.3)"/><ellipse cx="450.6" cy="125.2" rx="1.5" ry="1.4" transform="rotate(436 450.6 125.2)"/><ellipse cx="454.3" cy="96.8" rx="1.5" ry="1.3" transform="rotate(550 454.3 96.8)"/><ellipse cx="454.3" cy="110.2" rx="1.7" ry="1.3" transform="rotate(175 454.3 110.2)"/><ellipse cx="471.0" cy="94.8" rx="2.0" ry="1.2" transform="rotate(306 471.0 94.8)"/><ellipse cx="468.4" cy="117.0" rx="1.5" ry="1.1" transform="rotate(307 468.4 117.0)"/><ellipse cx="471.5" cy="122.9" rx="1.6" ry="1.5" transform="rotate(341 471.5 122.9)"/></g>
<path d="M485.2 93.8C486.6 98.3 488.2 103.4 486.9 100.7M485.2 93.8C479.6 99.3 481.5 89.1 486.1 88.4M486.0 97.2C480.0 98.6 483.1 88.2 486.0 92.0M486.0 104.5C491.7 110.0 487.5 103.8 485.7 100.2M484.9 110.1C480.2 106.2 489.5 108.1 489.0 106.0M484.9 110.1C479.9 116.8 486.2 113.7 480.2 108.4M486.7 115.5C492.2 112.1 486.4 114.4 483.2 118.3M486.7 120.1C490.5 126.7 481.7 120.8 479.1 121.7M486.7 120.1C483.3 115.5 480.2 115.5 482.3 115.0M491.5 92.2C497.7 86.6 493.4 91.3 495.5 91.1M491.5 92.2C490.0 95.5 492.1 93.1 494.9 98.6M492.5 97.7C487.6 97.5 495.2 97.8 493.6 101.8M493.0 104.9C491.7 102.5 490.0 112.6 494.0 112.0M491.6 107.7C486.2 105.2 488.1 106.5 486.4 110.7M491.6 107.7C496.6 106.5 490.3 100.3 487.1 105.1M493.5 113.1C491.0 108.6 480.2 109.0 486.1 114.7M493.5 113.1C500.5 107.9 498.3 115.4 493.3 120.4M491.7 118.9C495.0 124.1 491.4 117.0 491.5 112.5M491.7 118.9C492.0 124.0 489.4 110.1 494.7 113.0M499.2 90.5C501.5 84.3 502.4 99.3 504.7 95.0M499.2 90.5C500.7 87.9 494.1 93.1 492.6 92.6M499.1 96.4C499.2 91.5 505.6 96.7 504.5 101.2M500.2 102.6C494.4 103.9 488.9 106.9 494.6 102.3M500.3 108.5C499.5 112.6 497.7 104.9 493.4 109.6M497.8 114.0C500.2 115.2 495.4 108.7 501.3 110.8M499.1 118.1C495.8 123.7 502.8 107.1 497.6 111.2M507.8 92.7C507.7 88.3 503.9 92.5 509.0 96.8M507.8 92.7C501.0 98.0 513.6 93.3 511.3 98.5M505.3 99.5C506.8 94.0 513.4 97.0 511.7 96.6M504.5 102.8C508.5 102.6 502.3 110.2 507.5 108.3M506.6 108.4C513.4 111.9 508.7 98.4 510.1 104.2M505.1 115.7C502.3 122.6 505.7 117.7 506.4 122.2M505.1 115.7C507.7 122.4 514.8 119.6 511.0 117.6M506.7 119.0C508.7 116.6 507.3 112.7 511.5 118.0M506.7 119.0C501.2 115.6 510.2 115.9 509.5 115.8M512.7 94.2C505.8 91.1 518.9 89.4 518.6 95.2M512.7 94.2C506.0 87.5 503.9 91.8 505.3 91.4M510.8 96.2C516.8 91.9 502.9 93.6 507.2 99.0M510.8 96.2C514.0 102.3 515.5 85.9 510.2 89.3M513.8 101.8C513.3 107.9 509.3 91.4 510.6 94.8M513.8 101.8C508.5 103.5 518.1 108.8 515.1 107.2M514.3 108.8C513.7 104.7 514.5 100.3 519.7 103.5M511.2 115.9C513.1 109.9 521.6 112.0 515.8 116.3M511.2 115.9C509.8 114.0 503.3 111.2 504.9 113.8M512.9 119.9C516.6 125.6 522.2 117.3 518.4 115.2M512.9 119.9C518.8 124.3 507.0 113.1 506.2 115.7M518.7 93.3C525.2 99.8 520.2 94.8 515.1 97.8M519.4 98.3C523.9 100.0 509.5 97.1 515.4 101.5M519.4 98.3C515.7 94.0 530.2 94.7 524.7 97.7M518.7 103.9C519.1 109.0 527.4 96.3 523.0 98.9M518.7 103.9C520.3 110.8 519.8 109.2 522.5 110.0M518.9 106.9C515.3 107.2 514.2 106.1 515.3 104.0M518.9 106.9C518.4 106.2 513.5 111.3 514.5 105.8M518.8 116.4C520.7 116.7 508.9 117.7 513.5 120.0M518.0 120.8C521.5 117.6 515.8 119.0 515.5 116.9" stroke="#8e8e88" stroke-width="0.7" fill="none" opacity="0.65"/>
<g fill="#b4b09c"><ellipse cx="484.5" cy="94.8" rx="1.4" ry="0.9" transform="rotate(126 484.5 94.8)"/><ellipse cx="486.0" cy="92.7" rx="1.4" ry="0.9" transform="rotate(306 486.0 92.7)"/><ellipse cx="492.5" cy="113.9" rx="1.4" ry="0.9" transform="rotate(143 492.5 113.9)"/><ellipse cx="494.6" cy="112.3" rx="1.4" ry="0.9" transform="rotate(323 494.6 112.3)"/><ellipse cx="490.8" cy="118.0" rx="1.4" ry="0.9" transform="rotate(224 490.8 118.0)"/><ellipse cx="492.6" cy="119.8" rx="1.4" ry="0.9" transform="rotate(404 492.6 119.8)"/><ellipse cx="500.0" cy="89.5" rx="1.4" ry="0.9" transform="rotate(307 500.0 89.5)"/><ellipse cx="498.4" cy="91.6" rx="1.4" ry="0.9" transform="rotate(487 498.4 91.6)"/><ellipse cx="501.3" cy="103.2" rx="1.4" ry="0.9" transform="rotate(31 501.3 103.2)"/><ellipse cx="499.1" cy="101.9" rx="1.4" ry="0.9" transform="rotate(211 499.1 101.9)"/><ellipse cx="506.6" cy="92.4" rx="1.4" ry="0.9" transform="rotate(193 506.6 92.4)"/><ellipse cx="509.1" cy="93.0" rx="1.4" ry="0.9" transform="rotate(373 509.1 93.0)"/><ellipse cx="505.7" cy="103.1" rx="1.4" ry="0.9" transform="rotate(10 505.7 103.1)"/><ellipse cx="503.2" cy="102.6" rx="1.4" ry="0.9" transform="rotate(190 503.2 102.6)"/><ellipse cx="507.1" cy="109.6" rx="1.4" ry="0.9" transform="rotate(71 507.1 109.6)"/><ellipse cx="506.2" cy="107.1" rx="1.4" ry="0.9" transform="rotate(251 506.2 107.1)"/><ellipse cx="513.3" cy="100.6" rx="1.4" ry="0.9" transform="rotate(246 513.3 100.6)"/><ellipse cx="514.3" cy="103.0" rx="1.4" ry="0.9" transform="rotate(426 514.3 103.0)"/><ellipse cx="511.9" cy="119.0" rx="1.4" ry="0.9" transform="rotate(224 511.9 119.0)"/><ellipse cx="513.8" cy="120.8" rx="1.4" ry="0.9" transform="rotate(404 513.8 120.8)"/><ellipse cx="518.4" cy="97.4" rx="1.4" ry="0.9" transform="rotate(224 518.4 97.4)"/><ellipse cx="520.3" cy="99.2" rx="1.4" ry="0.9" transform="rotate(404 520.3 99.2)"/><ellipse cx="518.1" cy="102.8" rx="1.4" ry="0.9" transform="rotate(241 518.1 102.8)"/><ellipse cx="519.3" cy="105.1" rx="1.4" ry="0.9" transform="rotate(421 519.3 105.1)"/></g>
<g fill="#6a9e2c"><ellipse cx="486.1" cy="95.4" rx="1.4" ry="1.4" transform="rotate(273 486.1 95.4)"/><ellipse cx="488.3" cy="104.7" rx="1.9" ry="1.4" transform="rotate(364 488.3 104.7)"/><ellipse cx="487.7" cy="114.5" rx="1.8" ry="1.4" transform="rotate(313 487.7 114.5)"/><ellipse cx="488.2" cy="120.8" rx="1.7" ry="1.6" transform="rotate(384 488.2 120.8)"/><ellipse cx="490.7" cy="104.8" rx="1.5" ry="1.3" transform="rotate(183 490.7 104.8)"/><ellipse cx="493.9" cy="103.4" rx="1.5" ry="1.3" transform="rotate(299 493.9 103.4)"/><ellipse cx="500.4" cy="95.4" rx="1.5" ry="1.3" transform="rotate(322 500.4 95.4)"/><ellipse cx="498.9" cy="107.8" rx="1.5" ry="1.3" transform="rotate(206 498.9 107.8)"/><ellipse cx="500.2" cy="110.2" rx="1.7" ry="1.4" transform="rotate(452 500.2 110.2)"/><ellipse cx="506.3" cy="116.8" rx="2.0" ry="1.2" transform="rotate(257 506.3 116.8)"/><ellipse cx="513.3" cy="92.5" rx="1.6" ry="1.5" transform="rotate(287 513.3 92.5)"/><ellipse cx="511.6" cy="98.0" rx="1.7" ry="1.3" transform="rotate(427 511.6 98.0)"/><ellipse cx="511.0" cy="113.8" rx="2.0" ry="1.1" transform="rotate(264 511.0 113.8)"/><ellipse cx="519.9" cy="94.8" rx="1.5" ry="1.3" transform="rotate(51 519.9 94.8)"/><ellipse cx="521.0" cy="105.8" rx="1.7" ry="1.5" transform="rotate(333 521.0 105.8)"/></g>
<g fill="#78aa34"><ellipse cx="487.3" cy="98.2" rx="1.9" ry="1.4" transform="rotate(394 487.3 98.2)"/><ellipse cx="483.6" cy="108.6" rx="1.9" ry="1.2" transform="rotate(231 483.6 108.6)"/><ellipse cx="487.6" cy="117.0" rx="1.5" ry="1.1" transform="rotate(419 487.6 117.0)"/><ellipse cx="501.2" cy="117.5" rx="1.5" ry="1.5" transform="rotate(345 501.2 117.5)"/><ellipse cx="505.9" cy="117.3" rx="2.1" ry="1.3" transform="rotate(62 505.9 117.3)"/><ellipse cx="503.1" cy="114.7" rx="1.5" ry="1.6" transform="rotate(207 503.1 114.7)"/><ellipse cx="519.6" cy="108.7" rx="2.0" ry="1.4" transform="rotate(430 519.6 108.7)"/><ellipse cx="517.3" cy="118.8" rx="2.0" ry="1.4" transform="rotate(248 517.3 118.8)"/><ellipse cx="519.0" cy="119.3" rx="1.8" ry="1.3" transform="rotate(302 519.0 119.3)"/></g>
<g fill="#5a9226"><ellipse cx="486.0" cy="99.4" rx="1.9" ry="1.1" transform="rotate(449 486.0 99.4)"/><ellipse cx="484.5" cy="103.8" rx="2.0" ry="1.3" transform="rotate(565 484.5 103.8)"/><ellipse cx="492.8" cy="91.6" rx="1.7" ry="1.6" transform="rotate(334 492.8 91.6)"/><ellipse cx="493.9" cy="108.4" rx="1.7" ry="1.6" transform="rotate(375 493.9 108.4)"/><ellipse cx="499.5" cy="115.6" rx="1.4" ry="1.3" transform="rotate(404 499.5 115.6)"/><ellipse cx="496.8" cy="113.1" rx="1.9" ry="1.2" transform="rotate(583 496.8 113.1)"/><ellipse cx="505.1" cy="98.1" rx="1.6" ry="1.3" transform="rotate(263 505.1 98.1)"/><ellipse cx="508.9" cy="118.9" rx="1.9" ry="1.3" transform="rotate(-2 508.9 118.9)"/><ellipse cx="517.1" cy="92.4" rx="1.7" ry="1.6" transform="rotate(207 517.1 92.4)"/></g>
<g fill="#9ab848"><ellipse cx="484.8" cy="96.5" rx="1.5" ry="1.3" transform="rotate(572 484.8 96.5)"/><ellipse cx="485.5" cy="106.2" rx="2.0" ry="1.2" transform="rotate(465 485.5 106.2)"/><ellipse cx="485.1" cy="111.6" rx="1.9" ry="1.2" transform="rotate(82 485.1 111.6)"/><ellipse cx="486.9" cy="109.4" rx="1.5" ry="1.6" transform="rotate(339 486.9 109.4)"/><ellipse cx="484.4" cy="120.0" rx="1.5" ry="1.4" transform="rotate(182 484.4 120.0)"/><ellipse cx="489.8" cy="92.0" rx="1.6" ry="1.2" transform="rotate(188 489.8 92.0)"/><ellipse cx="492.1" cy="93.5" rx="1.5" ry="1.1" transform="rotate(423 492.1 93.5)"/><ellipse cx="493.1" cy="106.5" rx="2.0" ry="1.5" transform="rotate(321 493.1 106.5)"/><ellipse cx="490.4" cy="109.4" rx="1.8" ry="1.1" transform="rotate(486 490.4 109.4)"/><ellipse cx="500.8" cy="97.9" rx="1.7" ry="1.2" transform="rotate(43 500.8 97.9)"/><ellipse cx="501.8" cy="106.9" rx="2.0" ry="1.2" transform="rotate(312 501.8 106.9)"/><ellipse cx="499.7" cy="113.6" rx="1.7" ry="1.4" transform="rotate(348 499.7 113.6)"/><ellipse cx="496.4" cy="114.3" rx="2.0" ry="1.1" transform="rotate(525 496.4 114.3)"/><ellipse cx="503.1" cy="98.8" rx="2.1" ry="1.6" transform="rotate(197 503.1 98.8)"/><ellipse cx="507.5" cy="98.7" rx="1.9" ry="1.2" transform="rotate(339 507.5 98.7)"/><ellipse cx="506.2" cy="120.6" rx="1.4" ry="1.1" transform="rotate(109 506.2 120.6)"/><ellipse cx="512.3" cy="95.6" rx="1.8" ry="1.6" transform="rotate(335 512.3 95.6)"/><ellipse cx="512.8" cy="116.7" rx="2.0" ry="1.5" transform="rotate(27 512.8 116.7)"/><ellipse cx="517.7" cy="105.8" rx="1.5" ry="1.4" transform="rotate(221 517.7 105.8)"/><ellipse cx="520.2" cy="117.3" rx="1.5" ry="1.6" transform="rotate(392 520.2 117.3)"/></g>
<g fill="#86b43c"><ellipse cx="484.8" cy="115.5" rx="1.9" ry="1.2" transform="rotate(181 484.8 115.5)"/><ellipse cx="498.2" cy="95.4" rx="1.5" ry="1.5" transform="rotate(225 498.2 95.4)"/><ellipse cx="506.2" cy="114.3" rx="1.9" ry="1.6" transform="rotate(310 506.2 114.3)"/><ellipse cx="514.5" cy="95.1" rx="1.5" ry="1.2" transform="rotate(384 514.5 95.1)"/><ellipse cx="509.6" cy="94.7" rx="1.8" ry="1.2" transform="rotate(231 509.6 94.7)"/><ellipse cx="513.3" cy="110.2" rx="1.7" ry="1.4" transform="rotate(125 513.3 110.2)"/><ellipse cx="515.1" cy="107.2" rx="1.6" ry="1.1" transform="rotate(296 515.1 107.2)"/><ellipse cx="519.8" cy="92.5" rx="1.6" ry="1.2" transform="rotate(325 519.8 92.5)"/><ellipse cx="517.7" cy="108.4" rx="2.1" ry="1.5" transform="rotate(489 517.7 108.4)"/></g>
<g fill="#3e7018"><ellipse cx="486.8" cy="122.4" rx="1.8" ry="1.2" transform="rotate(87 486.8 122.4)"/><ellipse cx="490.4" cy="96.6" rx="1.8" ry="1.4" transform="rotate(208 490.4 96.6)"/><ellipse cx="493.4" cy="96.4" rx="1.9" ry="1.2" transform="rotate(305 493.4 96.4)"/><ellipse cx="494.7" cy="105.7" rx="1.9" ry="1.2" transform="rotate(384 494.7 105.7)"/><ellipse cx="497.5" cy="97.7" rx="1.9" ry="1.5" transform="rotate(140 497.5 97.7)"/><ellipse cx="499.9" cy="119.1" rx="2.1" ry="1.1" transform="rotate(415 499.9 119.1)"/><ellipse cx="497.3" cy="119.4" rx="1.6" ry="1.4" transform="rotate(503 497.3 119.4)"/><ellipse cx="497.9" cy="116.3" rx="1.5" ry="1.1" transform="rotate(595 497.9 116.3)"/><ellipse cx="506.1" cy="101.7" rx="1.8" ry="1.1" transform="rotate(69 506.1 101.7)"/><ellipse cx="519.0" cy="115.0" rx="1.5" ry="1.4" transform="rotate(278 519.0 115.0)"/><ellipse cx="517.1" cy="122.0" rx="1.8" ry="1.5" transform="rotate(127 517.1 122.0)"/></g>
<g fill="#4a8220"><ellipse cx="487.5" cy="118.5" rx="1.7" ry="1.3" transform="rotate(295 487.5 118.5)"/><ellipse cx="492.5" cy="100.0" rx="1.4" ry="1.6" transform="rotate(88 492.5 100.0)"/><ellipse cx="489.7" cy="106.6" rx="2.0" ry="1.2" transform="rotate(570 489.7 106.6)"/><ellipse cx="504.9" cy="118.6" rx="1.5" ry="1.1" transform="rotate(192 504.9 118.6)"/><ellipse cx="510.9" cy="94.2" rx="1.9" ry="1.3" transform="rotate(180 510.9 94.2)"/><ellipse cx="512.9" cy="107.7" rx="1.9" ry="1.6" transform="rotate(218 512.9 107.7)"/><ellipse cx="515.9" cy="109.1" rx="2.0" ry="1.1" transform="rotate(371 515.9 109.1)"/><ellipse cx="509.5" cy="117.2" rx="1.6" ry="1.5" transform="rotate(142 509.5 117.2)"/><ellipse cx="517.4" cy="94.7" rx="1.5" ry="1.3" transform="rotate(132 517.4 94.7)"/><ellipse cx="516.8" cy="117.1" rx="1.6" ry="1.4" transform="rotate(162 516.8 117.1)"/><ellipse cx="520.2" cy="121.8" rx="1.4" ry="1.6" transform="rotate(25 520.2 121.8)"/></g>
<line x1="477.4" y1="25.0" x2="477.4" y2="139.0" stroke="#a4a6b4" stroke-width="0.8"/>
<line x1="420.0" y1="82.0" x2="534.7" y2="82.0" stroke="#a4a6b4" stroke-width="0.8"/>
<text x="425.20" y="37.60" font-size="10.5" text-anchor="start" fill="#f4f4f4" stroke="#f4f4f4" stroke-width="0.25">WT</text>
<text x="528.20" y="38.10" font-size="10.5" text-anchor="end" fill="#f4f4f4" stroke="#f4f4f4" stroke-width="0.25">#3</text>
<text x="424.80" y="134.70" font-size="10.5" text-anchor="start" fill="#f4f4f4" stroke="#f4f4f4" stroke-width="0.25">#1</text>
<text x="527.20" y="134.70" font-size="10.5" text-anchor="end" fill="#f4f4f4" stroke="#f4f4f4" stroke-width="0.25">#4</text>
<line x1="501.5" y1="136.4" x2="522.2" y2="136.4" stroke="#e8e8e8" stroke-width="1"/>
<text x="242.3" y="21.9" font-size="10.5" text-anchor="middle" fill="#1a1a1a">1/2 MS</text>
<text x="360.3" y="21.9" font-size="10.5" text-anchor="middle" fill="#1a1a1a">150 mM NaCl</text>
<text x="479.2" y="21.9" font-size="10.5" text-anchor="middle" fill="#1a1a1a">175 mM NaCl</text>
<defs><radialGradient id="d1g" cx="0.62" cy="0.55" r="0.6"><stop offset="0" stop-color="#1e1f28"/><stop offset="1" stop-color="#2a2b34"/></radialGradient></defs>
<rect x="28.0" y="337.5" width="139.0" height="170.5" fill="url(#d1g)"/>
<rect x="28.0" y="337.5" width="139.0" height="1" fill="#5a5a60"/>
<line x1="28.0" y1="452.8" x2="167.0" y2="452.8" stroke="#383842" stroke-width="0.7"/>
<line x1="28.0" y1="479.8" x2="167.0" y2="479.8" stroke="#383842" stroke-width="0.7"/>
<path d="M37.9,368.5 C37.7,408.5 37.9,452.8 38.2,492.8" stroke="#62636a" stroke-width="0.6" fill="none"/>
<path d="M44.1,368.1 C45.2,408.1 42.4,448.1 43.3,488.1" stroke="#62636a" stroke-width="0.6" fill="none"/>
<path d="M50.8,370.5 C48.9,410.5 52.7,449.1 52.6,489.1" stroke="#62636a" stroke-width="0.6" fill="none"/>
<path d="M59.5,368.9 C57.5,408.9 59.6,440.5 57.7,480.5" stroke="#62636a" stroke-width="0.6" fill="none"/>
<path d="M69.1,365.9 C68.9,405.9 68.8,438.5 70.4,478.5" stroke="#62636a" stroke-width="0.6" fill="none"/>
<path d="M77.1,369.1 C77.7,409.1 76.9,446.0 76.2,486.0" stroke="#62636a" stroke-width="0.6" fill="none"/>
<path d="M85.5,372.0 C86.3,412.0 84.8,451.4 84.4,491.4" stroke="#62636a" stroke-width="0.6" fill="none"/>
<path d="M89.4,364.6 C89.0,404.6 90.8,450.3 88.9,490.3" stroke="#62636a" stroke-width="0.6" fill="none"/>
<path d="M100.4,370.8 C99.2,410.8 102.0,438.0 100.3,478.0" stroke="#62636a" stroke-width="0.6" fill="none"/>
<path d="M107.4,367.2 C108.0,407.2 108.6,439.2 106.5,479.2" stroke="#62636a" stroke-width="0.6" fill="none"/>
<path d="M111.8,366.7 C112.8,406.7 110.2,453.4 110.7,493.4" stroke="#62636a" stroke-width="0.6" fill="none"/>
<path d="M118.8,364.5 C117.5,404.5 119.0,450.8 118.6,490.8" stroke="#62636a" stroke-width="0.6" fill="none"/>
<path d="M131.1,369.9 C131.6,409.9 129.5,440.1 130.8,480.1" stroke="#62636a" stroke-width="0.6" fill="none"/>
<path d="M138.1,366.2 C139.4,406.2 137.4,453.5 139.7,493.5" stroke="#62636a" stroke-width="0.6" fill="none"/>
<path d="M145.1,367.2 C145.7,407.2 143.5,451.7 147.1,491.7" stroke="#62636a" stroke-width="0.6" fill="none"/>
<path d="M152.1,366.1 C151.5,406.1 151.3,450.4 150.4,490.4" stroke="#62636a" stroke-width="0.6" fill="none"/>
<line x1="38.0" y1="358.8" x2="38.2" y2="370.8" stroke="#7c8a74" stroke-width="0.55"/>
<ellipse cx="35.2" cy="359.1" rx="2.5" ry="1.6" fill="#68a82a" transform="rotate(150 35.2 359.1)"/>
<ellipse cx="37.8" cy="358.9" rx="2.1" ry="1.6" fill="#90c844" transform="rotate(58 37.8 358.9)"/>
<ellipse cx="41.5" cy="356.3" rx="2.1" ry="1.9" fill="#86c43c" transform="rotate(141 41.5 356.3)"/>
<ellipse cx="34.7" cy="361.9" rx="2.5" ry="1.8" fill="#90c844" transform="rotate(26 34.7 361.9)"/>
<ellipse cx="33.7" cy="358.4" rx="2.2" ry="1.9" fill="#68a82a" transform="rotate(65 33.7 358.4)"/>
<line x1="45.0" y1="357.8" x2="45.8" y2="369.8" stroke="#7c8a74" stroke-width="0.55"/>
<ellipse cx="44.9" cy="357.4" rx="2.1" ry="1.8" fill="#78b832" transform="rotate(167 44.9 357.4)"/>
<ellipse cx="48.9" cy="358.2" rx="2.2" ry="2.0" fill="#68a82a" transform="rotate(4 48.9 358.2)"/>
<ellipse cx="40.3" cy="356.6" rx="2.0" ry="1.6" fill="#86c43c" transform="rotate(94 40.3 356.6)"/>
<ellipse cx="45.3" cy="361.0" rx="2.3" ry="2.0" fill="#78b832" transform="rotate(84 45.3 361.0)"/>
<ellipse cx="46.7" cy="358.8" rx="2.8" ry="1.9" fill="#72b030" transform="rotate(4 46.7 358.8)"/>
<line x1="52.0" y1="363.9" x2="51.7" y2="375.9" stroke="#7c8a74" stroke-width="0.55"/>
<ellipse cx="49.9" cy="359.7" rx="2.5" ry="1.8" fill="#72b030" transform="rotate(79 49.9 359.7)"/>
<ellipse cx="50.0" cy="367.4" rx="2.4" ry="1.7" fill="#78b832" transform="rotate(11 50.0 367.4)"/>
<ellipse cx="56.4" cy="365.3" rx="2.6" ry="2.0" fill="#86c43c" transform="rotate(90 56.4 365.3)"/>
<ellipse cx="47.4" cy="363.2" rx="2.7" ry="1.8" fill="#78b832" transform="rotate(7 47.4 363.2)"/>
<ellipse cx="56.0" cy="364.0" rx="2.5" ry="1.7" fill="#72b030" transform="rotate(3 56.0 364.0)"/>
<line x1="59.0" y1="362.3" x2="58.2" y2="374.3" stroke="#7c8a74" stroke-width="0.55"/>
<ellipse cx="60.5" cy="365.8" rx="2.6" ry="1.7" fill="#90c844" transform="rotate(177 60.5 365.8)"/>
<ellipse cx="59.9" cy="361.4" rx="2.1" ry="2.0" fill="#72b030" transform="rotate(7 59.9 361.4)"/>
<ellipse cx="56.9" cy="358.5" rx="2.2" ry="1.9" fill="#78b832" transform="rotate(127 56.9 358.5)"/>
<ellipse cx="62.1" cy="363.1" rx="2.2" ry="1.5" fill="#90c844" transform="rotate(77 62.1 363.1)"/>
<ellipse cx="55.1" cy="362.7" rx="2.1" ry="2.0" fill="#72b030" transform="rotate(168 55.1 362.7)"/>
<line x1="70.0" y1="369.3" x2="70.0" y2="381.3" stroke="#7c8a74" stroke-width="0.55"/>
<ellipse cx="67.2" cy="368.0" rx="2.2" ry="1.8" fill="#68a82a" transform="rotate(51 67.2 368.0)"/>
<ellipse cx="74.2" cy="367.9" rx="2.7" ry="1.6" fill="#72b030" transform="rotate(34 74.2 367.9)"/>
<ellipse cx="70.0" cy="371.5" rx="2.6" ry="2.1" fill="#78b832" transform="rotate(70 70.0 371.5)"/>
<ellipse cx="73.5" cy="365.7" rx="2.2" ry="1.6" fill="#90c844" transform="rotate(105 73.5 365.7)"/>
<ellipse cx="68.7" cy="369.0" rx="2.6" ry="2.0" fill="#68a82a" transform="rotate(159 68.7 369.0)"/>
<line x1="77.0" y1="369.9" x2="76.1" y2="381.9" stroke="#7c8a74" stroke-width="0.55"/>
<ellipse cx="71.8" cy="372.3" rx="2.5" ry="1.7" fill="#78b832" transform="rotate(90 71.8 372.3)"/>
<ellipse cx="74.9" cy="371.7" rx="2.5" ry="1.7" fill="#78b832" transform="rotate(48 74.9 371.7)"/>
<ellipse cx="71.8" cy="372.0" rx="2.6" ry="2.0" fill="#86c43c" transform="rotate(161 71.8 372.0)"/>
<ellipse cx="72.8" cy="366.2" rx="2.5" ry="2.0" fill="#72b030" transform="rotate(19 72.8 366.2)"/>
<ellipse cx="79.0" cy="367.0" rx="2.2" ry="1.9" fill="#90c844" transform="rotate(120 79.0 367.0)"/>
<line x1="84.0" y1="369.1" x2="83.1" y2="381.1" stroke="#7c8a74" stroke-width="0.55"/>
<ellipse cx="81.0" cy="370.8" rx="2.6" ry="1.8" fill="#72b030" transform="rotate(157 81.0 370.8)"/>
<ellipse cx="89.5" cy="365.9" rx="2.1" ry="2.1" fill="#86c43c" transform="rotate(99 89.5 365.9)"/>
<ellipse cx="79.9" cy="368.2" rx="2.3" ry="1.8" fill="#78b832" transform="rotate(128 79.9 368.2)"/>
<ellipse cx="87.3" cy="372.2" rx="2.3" ry="2.1" fill="#90c844" transform="rotate(25 87.3 372.2)"/>
<ellipse cx="86.4" cy="371.2" rx="2.2" ry="2.0" fill="#78b832" transform="rotate(22 86.4 371.2)"/>
<line x1="90.0" y1="367.4" x2="90.1" y2="379.4" stroke="#7c8a74" stroke-width="0.55"/>
<ellipse cx="93.2" cy="365.5" rx="2.3" ry="1.5" fill="#78b832" transform="rotate(112 93.2 365.5)"/>
<ellipse cx="88.3" cy="366.3" rx="2.4" ry="1.5" fill="#68a82a" transform="rotate(16 88.3 366.3)"/>
<ellipse cx="89.2" cy="363.2" rx="2.3" ry="2.0" fill="#72b030" transform="rotate(35 89.2 363.2)"/>
<ellipse cx="89.7" cy="370.9" rx="2.7" ry="1.9" fill="#72b030" transform="rotate(126 89.7 370.9)"/>
<ellipse cx="90.9" cy="368.4" rx="2.4" ry="1.8" fill="#86c43c" transform="rotate(143 90.9 368.4)"/>
<line x1="99.0" y1="365.4" x2="99.0" y2="377.4" stroke="#7c8a74" stroke-width="0.55"/>
<ellipse cx="102.8" cy="365.4" rx="2.5" ry="2.1" fill="#68a82a" transform="rotate(156 102.8 365.4)"/>
<ellipse cx="95.8" cy="367.7" rx="2.4" ry="1.8" fill="#72b030" transform="rotate(51 95.8 367.7)"/>
<ellipse cx="98.0" cy="361.8" rx="2.5" ry="1.5" fill="#78b832" transform="rotate(11 98.0 361.8)"/>
<ellipse cx="99.2" cy="364.1" rx="2.1" ry="1.6" fill="#72b030" transform="rotate(42 99.2 364.1)"/>
<ellipse cx="94.2" cy="365.2" rx="2.7" ry="2.0" fill="#90c844" transform="rotate(103 94.2 365.2)"/>
<line x1="106.0" y1="360.3" x2="105.9" y2="372.3" stroke="#7c8a74" stroke-width="0.55"/>
<ellipse cx="101.9" cy="359.3" rx="2.4" ry="1.6" fill="#90c844" transform="rotate(107 101.9 359.3)"/>
<ellipse cx="107.3" cy="363.2" rx="2.6" ry="2.1" fill="#86c43c" transform="rotate(9 107.3 363.2)"/>
<ellipse cx="102.6" cy="357.6" rx="2.3" ry="1.7" fill="#68a82a" transform="rotate(158 102.6 357.6)"/>
<ellipse cx="106.0" cy="359.8" rx="2.1" ry="1.8" fill="#72b030" transform="rotate(64 106.0 359.8)"/>
<ellipse cx="108.4" cy="361.4" rx="2.0" ry="1.9" fill="#90c844" transform="rotate(135 108.4 361.4)"/>
<line x1="113.0" y1="366.3" x2="113.1" y2="378.3" stroke="#7c8a74" stroke-width="0.55"/>
<ellipse cx="117.0" cy="366.1" rx="2.4" ry="2.0" fill="#86c43c" transform="rotate(156 117.0 366.1)"/>
<ellipse cx="114.0" cy="362.9" rx="2.7" ry="1.7" fill="#68a82a" transform="rotate(80 114.0 362.9)"/>
<ellipse cx="117.3" cy="363.4" rx="2.7" ry="1.6" fill="#86c43c" transform="rotate(61 117.3 363.4)"/>
<ellipse cx="109.0" cy="362.6" rx="2.1" ry="2.0" fill="#90c844" transform="rotate(107 109.0 362.6)"/>
<ellipse cx="113.5" cy="367.5" rx="2.3" ry="1.9" fill="#86c43c" transform="rotate(4 113.5 367.5)"/>
<line x1="120.0" y1="366.8" x2="120.1" y2="378.8" stroke="#7c8a74" stroke-width="0.55"/>
<ellipse cx="118.4" cy="368.9" rx="2.1" ry="1.8" fill="#68a82a" transform="rotate(87 118.4 368.9)"/>
<ellipse cx="120.0" cy="367.8" rx="2.6" ry="1.8" fill="#86c43c" transform="rotate(6 120.0 367.8)"/>
<ellipse cx="114.9" cy="366.7" rx="2.7" ry="1.8" fill="#72b030" transform="rotate(48 114.9 366.7)"/>
<ellipse cx="116.5" cy="363.9" rx="2.8" ry="2.1" fill="#86c43c" transform="rotate(24 116.5 363.9)"/>
<ellipse cx="120.9" cy="363.4" rx="2.1" ry="1.6" fill="#90c844" transform="rotate(100 120.9 363.4)"/>
<line x1="132.0" y1="369.9" x2="132.0" y2="381.9" stroke="#7c8a74" stroke-width="0.55"/>
<ellipse cx="131.2" cy="370.2" rx="2.5" ry="1.5" fill="#78b832" transform="rotate(51 131.2 370.2)"/>
<ellipse cx="128.5" cy="369.0" rx="2.3" ry="1.6" fill="#68a82a" transform="rotate(42 128.5 369.0)"/>
<ellipse cx="127.5" cy="371.7" rx="2.7" ry="2.0" fill="#68a82a" transform="rotate(180 127.5 371.7)"/>
<ellipse cx="136.1" cy="372.7" rx="2.5" ry="1.6" fill="#90c844" transform="rotate(149 136.1 372.7)"/>
<ellipse cx="137.3" cy="371.8" rx="2.2" ry="1.6" fill="#68a82a" transform="rotate(40 137.3 371.8)"/>
<line x1="139.0" y1="367.9" x2="138.8" y2="379.9" stroke="#7c8a74" stroke-width="0.55"/>
<ellipse cx="143.4" cy="370.5" rx="2.6" ry="2.0" fill="#68a82a" transform="rotate(103 143.4 370.5)"/>
<ellipse cx="135.8" cy="364.9" rx="2.2" ry="1.6" fill="#68a82a" transform="rotate(91 135.8 364.9)"/>
<ellipse cx="144.4" cy="370.7" rx="2.2" ry="2.1" fill="#78b832" transform="rotate(170 144.4 370.7)"/>
<ellipse cx="136.8" cy="365.2" rx="2.5" ry="1.8" fill="#90c844" transform="rotate(99 136.8 365.2)"/>
<ellipse cx="139.2" cy="367.4" rx="2.6" ry="2.0" fill="#86c43c" transform="rotate(147 139.2 367.4)"/>
<line x1="146.0" y1="369.6" x2="146.2" y2="381.6" stroke="#7c8a74" stroke-width="0.55"/>
<ellipse cx="148.6" cy="367.1" rx="2.4" ry="2.0" fill="#90c844" transform="rotate(165 148.6 367.1)"/>
<ellipse cx="144.6" cy="365.9" rx="2.2" ry="1.7" fill="#68a82a" transform="rotate(138 144.6 365.9)"/>
<ellipse cx="146.1" cy="372.8" rx="2.7" ry="1.6" fill="#72b030" transform="rotate(113 146.1 372.8)"/>
<ellipse cx="149.4" cy="365.7" rx="2.5" ry="2.1" fill="#72b030" transform="rotate(98 149.4 365.7)"/>
<ellipse cx="150.7" cy="366.3" rx="2.8" ry="2.0" fill="#90c844" transform="rotate(138 150.7 366.3)"/>
<line x1="153.0" y1="366.3" x2="152.1" y2="378.3" stroke="#7c8a74" stroke-width="0.55"/>
<ellipse cx="157.9" cy="365.2" rx="2.3" ry="1.7" fill="#72b030" transform="rotate(135 157.9 365.2)"/>
<ellipse cx="150.6" cy="367.1" rx="2.7" ry="1.9" fill="#72b030" transform="rotate(75 150.6 367.1)"/>
<ellipse cx="147.8" cy="368.0" rx="2.0" ry="1.6" fill="#72b030" transform="rotate(175 147.8 368.0)"/>
<ellipse cx="151.8" cy="369.0" rx="2.0" ry="2.1" fill="#90c844" transform="rotate(81 151.8 369.0)"/>
<ellipse cx="148.3" cy="369.1" rx="2.6" ry="1.7" fill="#90c844" transform="rotate(62 148.3 369.1)"/>
<line x1="65.4" y1="337.5" x2="65.4" y2="470.5" stroke="#9c9ca2" stroke-width="0.9"/>
<line x1="94.5" y1="337.5" x2="94.5" y2="470.5" stroke="#9c9ca2" stroke-width="0.9"/>
<line x1="123.6" y1="337.5" x2="123.6" y2="470.5" stroke="#9c9ca2" stroke-width="0.9"/>
<text x="49.90" y="351.20" font-size="10.9" text-anchor="middle" fill="#f4f4f4" stroke="#f4f4f4" stroke-width="0.25">WT</text>
<text x="81.70" y="351.20" font-size="10.9" text-anchor="middle" fill="#f4f4f4" stroke="#f4f4f4" stroke-width="0.25">#1</text>
<text x="111.30" y="351.20" font-size="10.9" text-anchor="middle" fill="#f4f4f4" stroke="#f4f4f4" stroke-width="0.25">#3</text>
<text x="140.30" y="351.20" font-size="10.9" text-anchor="middle" fill="#f4f4f4" stroke="#f4f4f4" stroke-width="0.25">#4</text>
<line x1="157.5" y1="491.6" x2="157.5" y2="500.4" stroke="#e0e0e0" stroke-width="1"/>
<text x="94.1" y="331.0" font-size="11.5" text-anchor="middle" fill="#1a1a1a">1/2 MS</text>
<rect x="171.1" y="338.2" width="133.4" height="77.8" fill="#141417"/>
<line x1="171.1" y1="365.4" x2="304.5" y2="365.4" stroke="#4a4a52" stroke-width="0.8"/>
<path d="M185.3,366 Q183.9,368.9 186.1,371.7 Q186.2,374.8 187.1,377.9 Q184.6,380.6 185.4,383.3 Q183.2,386.2 184.6,389.2 Q183.2,391.8 187.1,394.5 Q188.3,397.8 182.6,401.0 Q180.3,404.0 187.6,406.9" stroke="#86706a" stroke-width="1.1" fill="none"/>
<path d="M184.6,375.0 q-4.6,9.8 -1.6,11.5" stroke="#5e5048" stroke-width="0.8" fill="none"/>
<path d="M186.6,371.2 q5.1,7.3 0.6,13.4" stroke="#5e5048" stroke-width="0.8" fill="none"/>
<path d="M195.0,366 Q196.6,368.9 196.0,371.7 Q196.8,374.4 192.4,377.0 Q194.7,380.0 196.8,383.0 Q194.6,386.2 197.4,389.5 Q196.8,392.4 195.3,395.3 Q195.5,397.9 194.0,400.5" stroke="#86706a" stroke-width="1.1" fill="none"/>
<path d="M194.1,379.5 q0.0,6.6 -0.2,12.7" stroke="#5e5048" stroke-width="0.8" fill="none"/>
<path d="M196.3,371.6 q2.6,9.9 -6.0,10.7" stroke="#5e5048" stroke-width="0.8" fill="none"/>
<path d="M204.2,366 Q206.6,368.7 204.6,371.5 Q205.3,374.5 201.9,377.5 Q203.2,380.2 206.2,383.0 Q204.5,385.7 206.8,388.3 Q206.4,391.0 206.7,393.6 Q206.8,396.1 202.2,398.7" stroke="#86706a" stroke-width="1.1" fill="none"/>
<path d="M204.8,372.4 q5.0,5.8 2.9,10.1" stroke="#5e5048" stroke-width="0.8" fill="none"/>
<path d="M203.6,375.1 q2.0,9.7 -3.0,15.6" stroke="#5e5048" stroke-width="0.8" fill="none"/>
<path d="M213.9,366 Q215.6,368.9 215.5,371.7 Q214.5,374.4 211.2,377.1 Q209.0,379.7 213.4,382.4 Q215.8,385.5 212.9,388.7 Q211.7,391.6 215.4,394.4 Q216.5,397.3 216.6,400.2 Q218.3,402.9 211.0,405.5" stroke="#86706a" stroke-width="1.1" fill="none"/>
<path d="M215.1,378.8 q1.2,7.1 1.0,18.5" stroke="#5e5048" stroke-width="0.8" fill="none"/>
<path d="M213.1,375.3 q-2.7,8.8 -5.9,16.9" stroke="#5e5048" stroke-width="0.8" fill="none"/>
<path d="M224.9,366 Q223.7,368.7 223.5,371.5 Q224.4,374.3 227.6,377.1 Q225.8,380.2 226.4,383.3 Q224.9,386.1 222.8,388.9 Q220.6,392.0 225.8,395.1" stroke="#86706a" stroke-width="1.1" fill="none"/>
<path d="M223.4,372.8 q-2.4,9.7 -1.2,18.9" stroke="#5e5048" stroke-width="0.8" fill="none"/>
<path d="M225.4,371.8 q4.3,6.0 2.9,17.6" stroke="#5e5048" stroke-width="0.8" fill="none"/>
<path d="M233.2,366 Q233.0,368.5 235.0,371.0 Q233.3,374.1 230.6,377.2 Q231.6,379.8 234.5,382.5 Q233.9,385.1 232.1,387.6 Q231.1,390.8 232.1,394.0" stroke="#86706a" stroke-width="1.1" fill="none"/>
<path d="M233.2,375.5 q5.4,5.5 1.2,15.1" stroke="#5e5048" stroke-width="0.8" fill="none"/>
<path d="M234.1,379.7 q-2.3,8.5 0.3,15.6" stroke="#5e5048" stroke-width="0.8" fill="none"/>
<path d="M244.1,366 Q243.2,368.8 247.0,371.5 Q244.9,374.1 247.1,376.7 Q248.4,379.8 241.6,382.9 Q239.2,385.9 243.8,388.8 Q243.9,391.7 245.0,394.5 Q243.6,397.3 243.5,400.1" stroke="#86706a" stroke-width="1.1" fill="none"/>
<path d="M242.3,374.3 q-3.0,8.5 3.8,17.2" stroke="#5e5048" stroke-width="0.8" fill="none"/>
<path d="M244.0,372.4 q-1.4,7.4 1.6,19.6" stroke="#5e5048" stroke-width="0.8" fill="none"/>
<path d="M253.2,366 Q253.7,368.8 251.2,371.6 Q251.9,374.4 251.5,377.2 Q252.0,380.3 253.9,383.3 Q253.8,386.0 255.1,388.7 Q254.5,391.5 253.2,394.2 Q255.2,397.2 253.3,400.2 Q255.2,402.9 251.1,405.6" stroke="#86706a" stroke-width="1.1" fill="none"/>
<path d="M254.0,370.9 q-3.9,7.6 1.4,13.8" stroke="#5e5048" stroke-width="0.8" fill="none"/>
<path d="M254.1,379.8 q5.9,5.8 -0.8,16.8" stroke="#5e5048" stroke-width="0.8" fill="none"/>
<path d="M261.7,366 Q260.9,369.2 260.3,372.4 Q258.6,375.6 260.3,378.7 Q260.8,381.3 262.8,384.0 Q265.0,386.8 260.4,389.6 Q261.0,392.4 261.5,395.2 Q261.0,397.8 260.4,400.5" stroke="#86706a" stroke-width="1.1" fill="none"/>
<path d="M260.8,371.9 q5.5,5.2 3.7,19.3" stroke="#5e5048" stroke-width="0.8" fill="none"/>
<path d="M262.6,370.2 q0.0,5.2 1.3,17.0" stroke="#5e5048" stroke-width="0.8" fill="none"/>
<path d="M273.5,366 Q275.8,368.6 276.1,371.2 Q273.6,374.0 271.6,376.8 Q273.7,379.7 271.5,382.6 Q270.5,385.8 273.1,388.9 Q271.8,392.1 273.0,395.2" stroke="#86706a" stroke-width="1.1" fill="none"/>
<path d="M273.8,378.2 q1.0,7.3 3.5,16.6" stroke="#5e5048" stroke-width="0.8" fill="none"/>
<path d="M271.8,374.4 q4.0,9.9 1.9,11.5" stroke="#5e5048" stroke-width="0.8" fill="none"/>
<path d="M284.0,366 Q283.2,369.1 283.8,372.2 Q282.8,375.0 282.6,377.7 Q280.5,380.9 284.8,384.1 Q285.6,386.9 281.4,389.8 Q279.2,392.5 282.1,395.2 Q283.0,398.1 281.2,401.0 Q279.2,403.6 284.9,406.2" stroke="#86706a" stroke-width="1.1" fill="none"/>
<path d="M285.7,375.4 q-1.1,8.5 2.7,15.2" stroke="#5e5048" stroke-width="0.8" fill="none"/>
<path d="M282.3,378.3 q-3.4,5.2 -1.8,15.3" stroke="#5e5048" stroke-width="0.8" fill="none"/>
<path d="M293.3,366 Q293.1,368.8 290.4,371.6 Q288.0,374.4 295.4,377.2 Q296.3,379.8 291.9,382.3 Q292.5,385.3 294.1,388.2 Q292.7,391.0 290.9,393.7 Q290.3,396.7 293.0,399.7" stroke="#86706a" stroke-width="1.1" fill="none"/>
<path d="M294.9,371.7 q-2.8,5.1 -1.5,17.5" stroke="#5e5048" stroke-width="0.8" fill="none"/>
<path d="M292.0,379.7 q0.0,7.1 -3.3,15.1" stroke="#5e5048" stroke-width="0.8" fill="none"/>
<circle cx="185.6" cy="363.1" r="2.6" fill="#b0a026"/>
<circle cx="184.0" cy="362.3" r="2.3" fill="#b0a026"/>
<circle cx="188.4" cy="361.1" r="2.7" fill="#4e6a1e"/>
<circle cx="189.1" cy="364.0" r="1.9" fill="#c4ae28"/>
<circle cx="187.3" cy="360.3" r="2.1" fill="#6a7a22"/>
<circle cx="186.2" cy="361.1" r="2.1" fill="#849028"/>
<circle cx="183.4" cy="362.6" r="2.4" fill="#849028"/>
<circle cx="196.9" cy="363.5" r="2.0" fill="#b0a026"/>
<circle cx="197.5" cy="361.4" r="2.1" fill="#44601c"/>
<circle cx="195.3" cy="362.5" r="2.5" fill="#6a7a22"/>
<circle cx="193.8" cy="362.4" r="2.5" fill="#b0a026"/>
<circle cx="196.8" cy="365.2" r="2.0" fill="#44601c"/>
<circle cx="191.4" cy="364.1" r="2.4" fill="#c4ae28"/>
<circle cx="195.6" cy="365.2" r="2.3" fill="#4e6a1e"/>
<circle cx="204.4" cy="364.3" r="1.9" fill="#5e7e26"/>
<circle cx="203.0" cy="364.6" r="2.2" fill="#44601c"/>
<circle cx="202.9" cy="363.3" r="2.4" fill="#44601c"/>
<circle cx="205.5" cy="364.8" r="2.0" fill="#c4ae28"/>
<circle cx="205.2" cy="364.1" r="2.5" fill="#44601c"/>
<circle cx="207.3" cy="361.4" r="2.2" fill="#c4ae28"/>
<circle cx="206.7" cy="364.2" r="2.4" fill="#4e6a1e"/>
<circle cx="216.5" cy="360.3" r="2.4" fill="#5e7e26"/>
<circle cx="215.1" cy="361.6" r="2.3" fill="#4e6a1e"/>
<circle cx="215.6" cy="360.1" r="2.6" fill="#5e7e26"/>
<circle cx="217.2" cy="361.6" r="2.1" fill="#6a7a22"/>
<circle cx="211.3" cy="359.3" r="2.6" fill="#5e7e26"/>
<circle cx="210.7" cy="362.8" r="2.4" fill="#849028"/>
<circle cx="210.4" cy="362.6" r="2.5" fill="#849028"/>
<circle cx="224.3" cy="362.4" r="2.4" fill="#44601c"/>
<circle cx="225.0" cy="361.5" r="2.2" fill="#b0a026"/>
<circle cx="223.6" cy="362.9" r="2.3" fill="#5e7e26"/>
<circle cx="221.9" cy="363.6" r="2.6" fill="#6a7a22"/>
<circle cx="227.0" cy="363.9" r="2.4" fill="#c4ae28"/>
<circle cx="224.6" cy="360.1" r="2.0" fill="#44601c"/>
<circle cx="220.3" cy="361.0" r="2.2" fill="#5e7e26"/>
<circle cx="229.6" cy="360.1" r="1.9" fill="#4e6a1e"/>
<circle cx="230.4" cy="359.9" r="2.0" fill="#849028"/>
<circle cx="233.3" cy="359.7" r="2.0" fill="#44601c"/>
<circle cx="230.1" cy="362.6" r="2.3" fill="#4e6a1e"/>
<circle cx="229.8" cy="360.3" r="2.4" fill="#849028"/>
<circle cx="231.1" cy="361.3" r="2.6" fill="#c4ae28"/>
<circle cx="233.2" cy="362.4" r="2.2" fill="#6a7a22"/>
<circle cx="247.3" cy="364.1" r="2.2" fill="#c4ae28"/>
<circle cx="245.6" cy="360.9" r="2.5" fill="#44601c"/>
<circle cx="245.6" cy="361.5" r="2.0" fill="#5e7e26"/>
<circle cx="248.5" cy="364.5" r="2.1" fill="#5e7e26"/>
<circle cx="247.5" cy="362.1" r="2.4" fill="#b0a026"/>
<circle cx="246.2" cy="362.6" r="2.1" fill="#c4ae28"/>
<circle cx="242.1" cy="363.5" r="2.2" fill="#44601c"/>
<circle cx="255.9" cy="361.0" r="2.2" fill="#b0a026"/>
<circle cx="252.2" cy="363.7" r="1.9" fill="#4e6a1e"/>
<circle cx="255.9" cy="364.4" r="2.5" fill="#849028"/>
<circle cx="255.0" cy="362.7" r="2.6" fill="#849028"/>
<circle cx="255.7" cy="360.5" r="2.1" fill="#5e7e26"/>
<circle cx="252.7" cy="361.2" r="2.2" fill="#6a7a22"/>
<circle cx="251.7" cy="360.4" r="2.0" fill="#4e6a1e"/>
<circle cx="258.3" cy="364.5" r="2.4" fill="#c4ae28"/>
<circle cx="261.6" cy="364.3" r="2.6" fill="#849028"/>
<circle cx="259.6" cy="364.1" r="2.0" fill="#c4ae28"/>
<circle cx="261.0" cy="361.3" r="2.6" fill="#b0a026"/>
<circle cx="264.6" cy="361.4" r="2.5" fill="#5e7e26"/>
<circle cx="263.5" cy="364.3" r="2.6" fill="#6a7a22"/>
<circle cx="260.1" cy="365.6" r="2.3" fill="#b0a026"/>
<circle cx="276.1" cy="363.9" r="2.4" fill="#6a7a22"/>
<circle cx="272.3" cy="361.7" r="2.7" fill="#c4ae28"/>
<circle cx="276.0" cy="361.5" r="2.6" fill="#6a7a22"/>
<circle cx="277.0" cy="364.5" r="2.3" fill="#4e6a1e"/>
<circle cx="275.5" cy="362.9" r="2.4" fill="#4e6a1e"/>
<circle cx="273.5" cy="363.7" r="2.5" fill="#b0a026"/>
<circle cx="274.1" cy="360.6" r="1.9" fill="#5e7e26"/>
<circle cx="283.7" cy="362.7" r="2.0" fill="#6a7a22"/>
<circle cx="282.7" cy="359.8" r="2.1" fill="#849028"/>
<circle cx="283.6" cy="362.4" r="2.5" fill="#44601c"/>
<circle cx="287.4" cy="361.7" r="2.2" fill="#b0a026"/>
<circle cx="285.5" cy="363.1" r="2.3" fill="#b0a026"/>
<circle cx="287.1" cy="363.3" r="2.6" fill="#b0a026"/>
<circle cx="281.2" cy="360.6" r="2.2" fill="#5e7e26"/>
<circle cx="295.4" cy="361.4" r="2.0" fill="#c4ae28"/>
<circle cx="296.6" cy="360.2" r="2.2" fill="#c4ae28"/>
<circle cx="290.8" cy="360.1" r="1.9" fill="#c4ae28"/>
<circle cx="291.7" cy="363.4" r="2.6" fill="#4e6a1e"/>
<circle cx="295.6" cy="363.1" r="2.4" fill="#4e6a1e"/>
<circle cx="290.7" cy="360.8" r="2.1" fill="#5e7e26"/>
<circle cx="291.1" cy="361.0" r="2.2" fill="#44601c"/>
<line x1="208.9" y1="338.2" x2="208.9" y2="412.5" stroke="#8a8a90" stroke-width="0.9"/>
<line x1="238.0" y1="338.2" x2="238.0" y2="412.5" stroke="#8a8a90" stroke-width="0.9"/>
<line x1="267.5" y1="338.2" x2="267.5" y2="412.5" stroke="#8a8a90" stroke-width="0.9"/>
<text x="192.20" y="351.50" font-size="11" text-anchor="middle" fill="#f4f4f4" stroke="#f4f4f4" stroke-width="0.25">WT</text>
<text x="224.40" y="351.50" font-size="11" text-anchor="middle" fill="#f4f4f4" stroke="#f4f4f4" stroke-width="0.25">#1</text>
<text x="253.40" y="351.50" font-size="11" text-anchor="middle" fill="#f4f4f4" stroke="#f4f4f4" stroke-width="0.25">#3</text>
<text x="283.00" y="351.50" font-size="11" text-anchor="middle" fill="#f4f4f4" stroke="#f4f4f4" stroke-width="0.25">#4</text>
<line x1="299.3" y1="400.5" x2="299.3" y2="408.7" stroke="#d0d0d0" stroke-width="1"/>
<text x="240.7" y="332.1" font-size="11.7" text-anchor="middle" fill="#1a1a1a">150 mM NaCl</text>
<rect x="171.1" y="436.5" width="133.8" height="70.6" fill="#14151f"/>
<line x1="171.1" y1="464.2" x2="304.9" y2="464.2" stroke="#3c3e50" stroke-width="0.8"/>
<path d="M185.3,462 C183.0,472 184.7,478 186.0,478.1" stroke="#7a7268" stroke-width="0.8" fill="none"/>
<path d="M192.7,462 C190.4,472 191.1,478 193.7,479.4" stroke="#7a7268" stroke-width="0.8" fill="none"/>
<path d="M201.0,462 C202.4,472 202.0,478 199.5,479.5" stroke="#7a7268" stroke-width="0.8" fill="none"/>
<path d="M214.5,462 C214.2,472 214.0,478 216.5,483.4" stroke="#7a7268" stroke-width="0.8" fill="none"/>
<path d="M224.9,462 C222.0,472 227.5,478 224.5,478.9" stroke="#7a7268" stroke-width="0.8" fill="none"/>
<path d="M232.3,462 C231.3,472 231.5,478 234.1,480.0" stroke="#7a7268" stroke-width="0.8" fill="none"/>
<path d="M244.2,462 C242.5,472 244.7,478 244.4,480.1" stroke="#7a7268" stroke-width="0.8" fill="none"/>
<path d="M253.6,462 C255.6,472 252.7,478 252.4,487.5" stroke="#7a7268" stroke-width="0.8" fill="none"/>
<path d="M263.5,462 C266.4,472 260.7,478 264.4,486.4" stroke="#7a7268" stroke-width="0.8" fill="none"/>
<path d="M278.0,462 C278.9,472 276.3,478 279.2,486.7" stroke="#7a7268" stroke-width="0.8" fill="none"/>
<path d="M283.0,462 C281.2,472 283.8,478 281.9,485.3" stroke="#7a7268" stroke-width="0.8" fill="none"/>
<path d="M290.0,462 C289.0,472 289.0,478 289.6,478.4" stroke="#7a7268" stroke-width="0.8" fill="none"/>
<circle cx="187.5" cy="464.6" r="2.0" fill="#6a5a20"/>
<circle cx="184.1" cy="460.7" r="2.1" fill="#8a7028"/>
<circle cx="187.5" cy="461.3" r="1.6" fill="#a89830"/>
<circle cx="188.0" cy="462.8" r="1.9" fill="#6a5a20"/>
<circle cx="183.9" cy="461.3" r="1.5" fill="#a89830"/>
<circle cx="183.4" cy="461.5" r="2.0" fill="#b8a880"/>
<circle cx="190.3" cy="460.1" r="2.2" fill="#6a5a20"/>
<circle cx="190.8" cy="460.4" r="1.8" fill="#a89830"/>
<circle cx="192.7" cy="463.6" r="2.1" fill="#7a4a20"/>
<circle cx="195.8" cy="462.1" r="1.4" fill="#8a7028"/>
<circle cx="190.2" cy="460.3" r="2.0" fill="#8a7028"/>
<circle cx="195.7" cy="463.5" r="1.8" fill="#7a4a20"/>
<circle cx="200.8" cy="461.3" r="1.7" fill="#6a5a20"/>
<circle cx="199.6" cy="460.9" r="1.5" fill="#6a5a20"/>
<circle cx="201.4" cy="463.1" r="2.1" fill="#8a7028"/>
<circle cx="202.8" cy="464.8" r="2.0" fill="#7a4a20"/>
<circle cx="201.3" cy="462.9" r="1.8" fill="#8a7028"/>
<circle cx="203.3" cy="462.1" r="1.6" fill="#8a7028"/>
<circle cx="213.3" cy="463.8" r="1.5" fill="#b09a30"/>
<circle cx="212.1" cy="463.6" r="2.2" fill="#7a5a20"/>
<circle cx="215.7" cy="462.6" r="1.4" fill="#7a5a20"/>
<circle cx="215.6" cy="463.4" r="1.5" fill="#7a5a20"/>
<circle cx="213.7" cy="461.3" r="2.1" fill="#8a6a28"/>
<circle cx="213.3" cy="462.7" r="2.0" fill="#b09a30"/>
<circle cx="221.9" cy="463.2" r="1.6" fill="#b09a30"/>
<circle cx="223.0" cy="464.2" r="1.6" fill="#b09a30"/>
<circle cx="221.9" cy="462.4" r="1.6" fill="#7a5a20"/>
<circle cx="223.8" cy="461.6" r="1.5" fill="#b09a30"/>
<circle cx="223.1" cy="465.0" r="2.0" fill="#c0a050"/>
<circle cx="227.4" cy="462.4" r="1.9" fill="#b09a30"/>
<circle cx="229.5" cy="460.1" r="2.1" fill="#8a6a28"/>
<circle cx="235.4" cy="460.7" r="2.0" fill="#b09a30"/>
<circle cx="231.0" cy="463.9" r="1.6" fill="#c0a050"/>
<circle cx="234.8" cy="464.2" r="1.9" fill="#7a5a20"/>
<circle cx="234.5" cy="462.0" r="2.1" fill="#b09a30"/>
<circle cx="233.4" cy="462.9" r="1.7" fill="#9a8a20"/>
<circle cx="247.7" cy="462.6" r="2.2" fill="#6a8a2a"/>
<circle cx="242.3" cy="463.3" r="1.9" fill="#8aa840"/>
<circle cx="244.6" cy="459.9" r="1.4" fill="#8aa840"/>
<circle cx="244.8" cy="464.3" r="1.4" fill="#7e9a34"/>
<circle cx="247.8" cy="462.7" r="1.6" fill="#4a6a1e"/>
<circle cx="241.1" cy="461.9" r="1.6" fill="#4a6a1e"/>
<circle cx="244.1" cy="464.6" r="2.0" fill="#7e9a34"/>
<circle cx="256.0" cy="463.7" r="1.8" fill="#7e9a34"/>
<circle cx="253.1" cy="459.0" r="1.8" fill="#5e7e24"/>
<circle cx="253.4" cy="459.7" r="1.9" fill="#8aa840"/>
<circle cx="249.6" cy="462.2" r="1.6" fill="#4a6a1e"/>
<circle cx="257.5" cy="460.9" r="1.4" fill="#4a6a1e"/>
<circle cx="254.2" cy="463.6" r="1.9" fill="#4a6a1e"/>
<circle cx="251.2" cy="459.4" r="1.9" fill="#5e7e24"/>
<circle cx="259.8" cy="463.6" r="2.0" fill="#8aa840"/>
<circle cx="260.6" cy="465.0" r="2.1" fill="#6a8a2a"/>
<circle cx="262.9" cy="462.5" r="1.8" fill="#5e7e24"/>
<circle cx="260.6" cy="462.7" r="1.5" fill="#7e9a34"/>
<circle cx="262.5" cy="460.5" r="1.7" fill="#4a6a1e"/>
<circle cx="266.9" cy="463.8" r="1.9" fill="#4a6a1e"/>
<circle cx="266.1" cy="461.7" r="1.5" fill="#5e7e24"/>
<circle cx="276.5" cy="463.5" r="1.8" fill="#d8c8a8"/>
<circle cx="280.2" cy="462.5" r="1.9" fill="#8a6030"/>
<circle cx="279.8" cy="461.1" r="2.2" fill="#c09060"/>
<circle cx="276.9" cy="463.5" r="2.1" fill="#b08050"/>
<circle cx="275.7" cy="461.1" r="1.8" fill="#d8c8a8"/>
<circle cx="278.6" cy="460.5" r="2.2" fill="#8a6030"/>
<circle cx="280.6" cy="463.6" r="2.4" fill="#e0d4bc"/>
<circle cx="284.3" cy="461.2" r="2.2" fill="#e0d4bc"/>
<circle cx="284.7" cy="461.4" r="2.0" fill="#e0d4bc"/>
<circle cx="282.3" cy="462.3" r="2.5" fill="#8a6030"/>
<circle cx="286.0" cy="461.3" r="2.3" fill="#c09060"/>
<circle cx="280.9" cy="463.5" r="2.1" fill="#d8c8a8"/>
<circle cx="292.0" cy="463.9" r="2.1" fill="#d8c8a8"/>
<circle cx="293.0" cy="460.4" r="1.8" fill="#e0d4bc"/>
<circle cx="292.4" cy="461.3" r="2.1" fill="#b08050"/>
<circle cx="288.1" cy="462.0" r="2.1" fill="#c09060"/>
<circle cx="291.0" cy="460.5" r="2.1" fill="#d8c8a8"/>
<circle cx="288.8" cy="460.6" r="2.4" fill="#c09060"/>
<line x1="210.4" y1="436.5" x2="210.4" y2="494" stroke="#8a8c96" stroke-width="0.9"/>
<line x1="239.7" y1="436.5" x2="239.7" y2="494" stroke="#8a8c96" stroke-width="0.9"/>
<line x1="268.5" y1="436.5" x2="268.5" y2="494" stroke="#8a8c96" stroke-width="0.9"/>
<text x="193.20" y="452.00" font-size="11" text-anchor="middle" fill="#f4f4f4" stroke="#f4f4f4" stroke-width="0.25">WT</text>
<text x="225.30" y="452.00" font-size="11" text-anchor="middle" fill="#f4f4f4" stroke="#f4f4f4" stroke-width="0.25">#1</text>
<text x="254.80" y="452.00" font-size="11" text-anchor="middle" fill="#f4f4f4" stroke="#f4f4f4" stroke-width="0.25">#3</text>
<text x="283.80" y="452.00" font-size="11" text-anchor="middle" fill="#f4f4f4" stroke="#f4f4f4" stroke-width="0.25">#4</text>
<line x1="298.8" y1="491" x2="298.8" y2="499.5" stroke="#d0d0d0" stroke-width="1"/>
<text x="240.9" y="431.3" font-size="11.7" text-anchor="middle" fill="#1a1a1a">175 mM NaCl</text>
</svg>
</body></html>
